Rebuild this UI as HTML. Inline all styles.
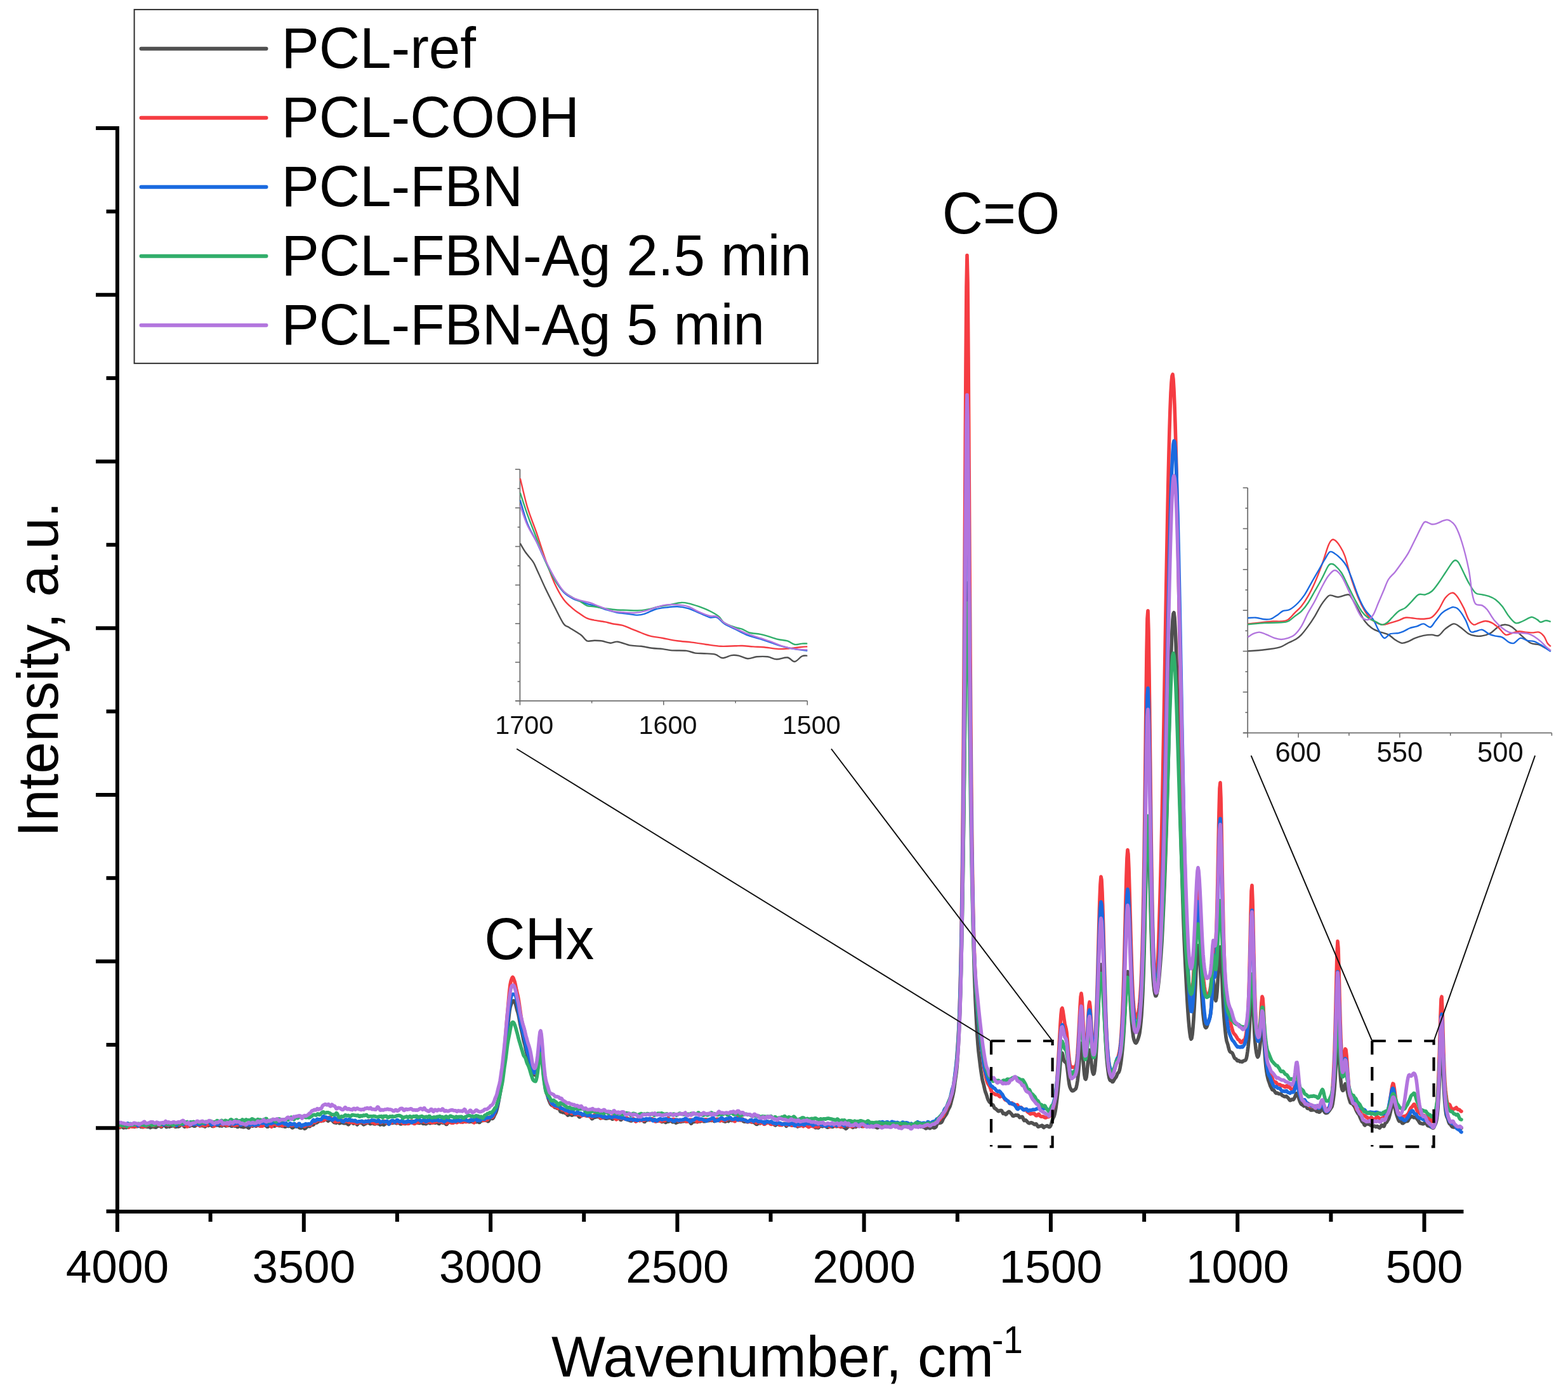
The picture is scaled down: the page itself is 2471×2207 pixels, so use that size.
<!DOCTYPE html>
<html><head><meta charset="utf-8"><title>Raman spectra</title>
<style>html,body{margin:0;padding:0;background:#fff;}svg{display:block;}</style>
</head><body>
<svg width="2471" height="2207" viewBox="0 0 2471 2207" font-family="'Liberation Sans', Arial, sans-serif">
<rect width="2471" height="2207" fill="#fff"/>
<rect x="211.6" y="15.1" width="1077.2" height="557.7" fill="none" stroke="#2e2e2e" stroke-width="2"/>
<line x1="222.5" y1="76.8" x2="419.5" y2="76.8" stroke="#505050" stroke-width="6" stroke-linecap="round"/>
<text transform="translate(443.4,107.2) scale(1,1.03)" font-size="89">PCL-ref</text>
<line x1="222.5" y1="185.8" x2="419.5" y2="185.8" stroke="#f53c42" stroke-width="6" stroke-linecap="round"/>
<text transform="translate(443.4,216.2) scale(1,1.03)" font-size="89">PCL-COOH</text>
<line x1="222.5" y1="294.8" x2="419.5" y2="294.8" stroke="#1a6ae0" stroke-width="6" stroke-linecap="round"/>
<text transform="translate(443.4,325.2) scale(1,1.03)" font-size="89">PCL-FBN</text>
<line x1="222.5" y1="403.8" x2="419.5" y2="403.8" stroke="#31ae6b" stroke-width="6" stroke-linecap="round"/>
<text transform="translate(443.4,434.2) scale(1,1.03)" font-size="89">PCL-FBN-Ag 2.5 min</text>
<line x1="222.5" y1="512.8" x2="419.5" y2="512.8" stroke="#b275de" stroke-width="6" stroke-linecap="round"/>
<text transform="translate(443.4,543.2) scale(1,1.03)" font-size="89">PCL-FBN-Ag 5 min</text>
<line x1="819.4" y1="739.8" x2="819.4" y2="1105.7" stroke="#6e6e6e" stroke-width="1.8"/>
<line x1="812.4" y1="1104.8" x2="1272.3" y2="1104.8" stroke="#6e6e6e" stroke-width="1.8"/>
<line x1="811.9" y1="739.8" x2="819.4" y2="739.8" stroke="#6e6e6e" stroke-width="1.6"/>
<line x1="815.6" y1="770.2" x2="819.4" y2="770.2" stroke="#6e6e6e" stroke-width="1.6"/>
<line x1="811.9" y1="800.6" x2="819.4" y2="800.6" stroke="#6e6e6e" stroke-width="1.6"/>
<line x1="815.6" y1="831.0" x2="819.4" y2="831.0" stroke="#6e6e6e" stroke-width="1.6"/>
<line x1="811.9" y1="861.5" x2="819.4" y2="861.5" stroke="#6e6e6e" stroke-width="1.6"/>
<line x1="815.6" y1="891.9" x2="819.4" y2="891.9" stroke="#6e6e6e" stroke-width="1.6"/>
<line x1="811.9" y1="922.3" x2="819.4" y2="922.3" stroke="#6e6e6e" stroke-width="1.6"/>
<line x1="815.6" y1="952.7" x2="819.4" y2="952.7" stroke="#6e6e6e" stroke-width="1.6"/>
<line x1="811.9" y1="983.1" x2="819.4" y2="983.1" stroke="#6e6e6e" stroke-width="1.6"/>
<line x1="815.6" y1="1013.5" x2="819.4" y2="1013.5" stroke="#6e6e6e" stroke-width="1.6"/>
<line x1="811.9" y1="1044.0" x2="819.4" y2="1044.0" stroke="#6e6e6e" stroke-width="1.6"/>
<line x1="815.6" y1="1074.4" x2="819.4" y2="1074.4" stroke="#6e6e6e" stroke-width="1.6"/>
<line x1="811.9" y1="1104.8" x2="819.4" y2="1104.8" stroke="#6e6e6e" stroke-width="1.6"/>
<line x1="819.4" y1="1104.8" x2="819.4" y2="1111.6" stroke="#6e6e6e" stroke-width="1.6"/>
<line x1="932.6" y1="1104.8" x2="932.6" y2="1108.6" stroke="#6e6e6e" stroke-width="1.6"/>
<line x1="1045.8" y1="1104.8" x2="1045.8" y2="1111.6" stroke="#6e6e6e" stroke-width="1.6"/>
<line x1="1159.1" y1="1104.8" x2="1159.1" y2="1108.6" stroke="#6e6e6e" stroke-width="1.6"/>
<line x1="1272.3" y1="1104.8" x2="1272.3" y2="1111.6" stroke="#6e6e6e" stroke-width="1.6"/>
<text x="826.2" y="1157" font-size="41.3" text-anchor="middle" fill="#111">1700</text>
<text x="1052.5" y="1157" font-size="41.3" text-anchor="middle" fill="#111">1600</text>
<text x="1278.7" y="1157" font-size="41.3" text-anchor="middle" fill="#111">1500</text>
<line x1="1966.2" y1="769.0" x2="1966.2" y2="1156.3000000000002" stroke="#6e6e6e" stroke-width="1.8"/>
<line x1="1959.2" y1="1155.4" x2="2445.4" y2="1155.4" stroke="#6e6e6e" stroke-width="1.8"/>
<line x1="1958.7" y1="769.0" x2="1966.2" y2="769.0" stroke="#6e6e6e" stroke-width="1.6"/>
<line x1="1962.4" y1="801.2" x2="1966.2" y2="801.2" stroke="#6e6e6e" stroke-width="1.6"/>
<line x1="1958.7" y1="833.4" x2="1966.2" y2="833.4" stroke="#6e6e6e" stroke-width="1.6"/>
<line x1="1962.4" y1="865.6" x2="1966.2" y2="865.6" stroke="#6e6e6e" stroke-width="1.6"/>
<line x1="1958.7" y1="897.8" x2="1966.2" y2="897.8" stroke="#6e6e6e" stroke-width="1.6"/>
<line x1="1962.4" y1="930.0" x2="1966.2" y2="930.0" stroke="#6e6e6e" stroke-width="1.6"/>
<line x1="1958.7" y1="962.2" x2="1966.2" y2="962.2" stroke="#6e6e6e" stroke-width="1.6"/>
<line x1="1962.4" y1="994.4" x2="1966.2" y2="994.4" stroke="#6e6e6e" stroke-width="1.6"/>
<line x1="1958.7" y1="1026.6" x2="1966.2" y2="1026.6" stroke="#6e6e6e" stroke-width="1.6"/>
<line x1="1962.4" y1="1058.8" x2="1966.2" y2="1058.8" stroke="#6e6e6e" stroke-width="1.6"/>
<line x1="1958.7" y1="1091.0" x2="1966.2" y2="1091.0" stroke="#6e6e6e" stroke-width="1.6"/>
<line x1="1962.4" y1="1123.2" x2="1966.2" y2="1123.2" stroke="#6e6e6e" stroke-width="1.6"/>
<line x1="1958.7" y1="1155.4" x2="1966.2" y2="1155.4" stroke="#6e6e6e" stroke-width="1.6"/>
<line x1="1966.2" y1="1155.4" x2="1966.2" y2="1162.8" stroke="#6e6e6e" stroke-width="1.6"/>
<line x1="2046.1" y1="1155.4" x2="2046.1" y2="1162.8" stroke="#6e6e6e" stroke-width="1.6"/>
<line x1="2125.9" y1="1155.4" x2="2125.9" y2="1159.8" stroke="#6e6e6e" stroke-width="1.6"/>
<line x1="2205.8" y1="1155.4" x2="2205.8" y2="1162.8" stroke="#6e6e6e" stroke-width="1.6"/>
<line x1="2285.7" y1="1155.4" x2="2285.7" y2="1159.8" stroke="#6e6e6e" stroke-width="1.6"/>
<line x1="2365.5" y1="1155.4" x2="2365.5" y2="1162.8" stroke="#6e6e6e" stroke-width="1.6"/>
<line x1="2445.4" y1="1155.4" x2="2445.4" y2="1159.8" stroke="#6e6e6e" stroke-width="1.6"/>
<text x="2045.7" y="1201" font-size="43.5" text-anchor="middle" fill="#111">600</text>
<text x="2205.8" y="1201" font-size="43.5" text-anchor="middle" fill="#111">550</text>
<text x="2364.4" y="1201" font-size="43.5" text-anchor="middle" fill="#111">500</text>
<path d="M819.8,856.6C821.2,859.0 825.0,866.1 828.3,870.8C831.6,875.6 836.8,880.8 839.7,885.1C842.5,889.3 842.1,889.3 845.4,896.4C848.7,903.6 854.9,917.8 859.6,927.8C864.4,937.7 869.1,947.0 873.8,956.2C878.6,965.5 884.3,977.8 888.1,983.2C891.9,988.7 893.3,986.8 896.6,988.9C899.9,991.1 904.7,993.9 908.0,996.1C911.3,998.2 913.7,999.4 916.5,1001.7C919.4,1004.1 921.7,1009.0 925.1,1010.3C928.4,1011.6 932.7,1009.7 936.4,1009.7C940.2,1009.7 943.6,1009.6 947.8,1010.3C952.1,1010.9 957.8,1013.5 962.1,1013.7C966.3,1013.9 968.2,1011.1 973.4,1011.7C978.7,1012.3 987.2,1016.2 993.4,1017.4C999.5,1018.6 1004.7,1018.1 1010.4,1018.8C1016.1,1019.5 1021.8,1021.0 1027.5,1021.7C1033.2,1022.4 1039.4,1022.5 1044.6,1023.1C1049.8,1023.7 1052.7,1024.9 1058.8,1025.4C1065.0,1025.8 1075.4,1025.2 1081.6,1025.9C1087.8,1026.6 1091.1,1028.9 1095.8,1029.6C1100.6,1030.3 1104.8,1029.9 1110.0,1030.2C1115.3,1030.5 1122.4,1030.4 1127.1,1031.6C1131.9,1032.8 1134.2,1037.1 1138.5,1037.3C1142.8,1037.6 1148.5,1033.7 1152.7,1033.1C1157.0,1032.4 1159.9,1032.8 1164.1,1033.6C1168.4,1034.5 1173.6,1037.9 1178.4,1038.2C1183.1,1038.5 1187.4,1035.8 1192.6,1035.3C1197.8,1034.9 1204.4,1034.7 1209.7,1035.3C1214.9,1036.0 1218.7,1039.1 1223.9,1039.3C1229.1,1039.5 1236.2,1035.8 1241.0,1036.5C1245.7,1037.1 1248.5,1043.3 1252.3,1043.0C1256.1,1042.7 1260.4,1036.0 1263.7,1034.5C1267.0,1032.9 1270.8,1033.8 1272.3,1033.6" fill="none" stroke="#505050" stroke-width="2.4" stroke-linejoin="round"/>
<path d="M819.8,754.2C821.7,761.7 826.9,785.5 831.1,799.7C835.4,813.9 840.6,825.8 845.4,839.5C850.1,853.3 854.9,868.9 859.6,882.2C864.4,895.5 869.1,908.8 873.8,919.2C878.6,929.6 883.3,938.2 888.1,944.8C892.8,951.5 898.0,955.3 902.3,959.1C906.6,962.9 909.9,965.0 913.7,967.6C917.5,970.2 921.3,973.0 925.1,974.7C928.9,976.4 931.7,976.6 936.4,977.6C941.2,978.5 948.8,979.5 953.5,980.4C958.3,981.4 960.2,982.3 964.9,983.2C969.6,984.2 976.8,984.7 982.0,986.1C987.2,987.5 991.5,989.9 996.2,991.8C1001.0,993.7 1005.7,995.7 1010.4,997.5C1015.2,999.3 1019.0,1001.2 1024.7,1002.6C1030.4,1004.0 1037.5,1004.7 1044.6,1006.0C1051.7,1007.3 1059.8,1009.2 1067.4,1010.3C1074.9,1011.4 1082.5,1011.6 1090.1,1012.6C1097.7,1013.5 1105.3,1014.9 1112.9,1016.0C1120.5,1017.0 1128.1,1018.4 1135.7,1018.8C1143.3,1019.2 1152.7,1018.4 1158.4,1018.3C1164.1,1018.1 1165.1,1017.8 1169.8,1018.0C1174.6,1018.2 1181.2,1019.0 1186.9,1019.4C1192.6,1019.8 1197.3,1019.6 1204.0,1020.2C1210.6,1020.9 1220.1,1022.8 1226.7,1023.1C1233.4,1023.4 1238.1,1022.7 1243.8,1022.2C1249.5,1021.8 1256.1,1020.7 1260.9,1020.2C1265.6,1019.8 1270.4,1019.5 1272.3,1019.4" fill="none" stroke="#f53c42" stroke-width="2.4" stroke-linejoin="round"/>
<path d="M819.8,788.3C821.7,794.5 826.9,814.4 831.1,825.3C835.4,836.2 840.6,843.8 845.4,853.8C850.1,863.7 854.9,875.1 859.6,885.1C864.4,895.0 869.1,905.5 873.8,913.5C878.6,921.6 883.3,928.5 888.1,933.4C892.8,938.4 898.0,941.0 902.3,943.4C906.6,945.8 909.9,946.3 913.7,947.7C917.5,949.1 921.3,950.8 925.1,951.9C928.9,953.1 931.7,953.4 936.4,954.8C941.2,956.2 947.8,958.7 953.5,960.5C959.2,962.2 964.9,964.1 970.6,965.3C976.3,966.5 982.0,966.9 987.7,967.6C993.4,968.3 1000.0,969.6 1004.7,969.6C1009.5,969.6 1011.4,969.1 1016.1,967.6C1020.9,966.1 1027.5,962.1 1033.2,960.5C1038.9,958.8 1044.6,958.3 1050.3,957.6C1056.0,956.9 1061.7,956.0 1067.4,956.2C1073.1,956.4 1078.7,957.4 1084.4,959.1C1090.1,960.7 1095.8,963.8 1101.5,966.2C1107.2,968.5 1113.8,972.1 1118.6,973.3C1123.3,974.5 1126.2,971.6 1130.0,973.3C1133.8,974.9 1136.6,980.2 1141.4,983.2C1146.1,986.3 1152.7,988.9 1158.4,991.8C1164.1,994.6 1168.9,997.7 1175.5,1000.3C1182.1,1002.9 1191.6,1005.3 1198.3,1007.4C1204.9,1009.6 1209.7,1011.2 1215.3,1013.1C1221.0,1015.0 1226.3,1017.2 1232.4,1018.8C1238.6,1020.5 1245.7,1021.9 1252.3,1023.1C1259.0,1024.3 1268.9,1025.5 1272.3,1025.9" fill="none" stroke="#1a6ae0" stroke-width="2.4" stroke-linejoin="round"/>
<path d="M819.8,776.9C821.7,782.6 826.9,799.2 831.1,811.1C835.4,822.9 840.6,835.7 845.4,848.1C850.1,860.4 854.9,874.2 859.6,885.1C864.4,896.0 869.1,905.7 873.8,913.5C878.6,921.3 883.3,927.3 888.1,932.0C892.8,936.8 898.0,939.4 902.3,942.0C906.6,944.6 909.9,945.5 913.7,947.7C917.5,949.8 921.3,953.4 925.1,954.8C928.9,956.2 931.7,955.5 936.4,956.2C941.2,956.9 947.8,958.2 953.5,959.1C959.2,959.9 964.9,960.9 970.6,961.3C976.3,961.8 982.0,961.7 987.7,961.9C993.4,962.1 999.1,962.7 1004.7,962.5C1010.4,962.2 1016.1,961.5 1021.8,960.5C1027.5,959.4 1033.2,957.4 1038.9,956.2C1044.6,955.0 1050.3,954.4 1056.0,953.4C1061.7,952.3 1068.3,950.3 1073.1,950.0C1077.8,949.6 1079.7,950.0 1084.4,951.1C1089.2,952.1 1095.8,954.2 1101.5,956.2C1107.2,958.3 1113.4,960.7 1118.6,963.3C1123.8,965.9 1129.0,968.8 1132.8,971.9C1136.6,974.9 1137.1,979.0 1141.4,981.8C1145.6,984.7 1153.7,987.3 1158.4,988.9C1163.2,990.6 1166.0,990.4 1169.8,991.8C1173.6,993.2 1176.5,996.1 1181.2,997.5C1185.9,998.8 1192.6,998.6 1198.3,999.8C1204.0,1000.9 1210.6,1003.2 1215.3,1004.6C1220.1,1006.0 1222.5,1007.1 1226.7,1008.0C1231.0,1009.0 1236.7,1009.0 1241.0,1010.3C1245.2,1011.6 1248.5,1015.3 1252.3,1016.0C1256.1,1016.7 1260.4,1014.8 1263.7,1014.6C1267.0,1014.3 1270.8,1014.6 1272.3,1014.6" fill="none" stroke="#31ae6b" stroke-width="2.4" stroke-linejoin="round"/>
<path d="M819.8,796.8C821.7,802.1 826.9,818.7 831.1,828.1C835.4,837.6 840.6,844.5 845.4,853.8C850.1,863.0 854.9,874.2 859.6,883.6C864.4,893.1 869.1,902.6 873.8,910.7C878.6,918.7 883.3,926.8 888.1,932.0C892.8,937.2 898.0,939.6 902.3,942.0C906.6,944.4 908.9,944.8 913.7,946.3C918.4,947.7 925.5,948.9 930.8,950.5C936.0,952.2 939.3,954.1 945.0,956.2C950.7,958.3 958.7,961.8 964.9,963.3C971.1,964.8 976.3,964.8 982.0,965.3C987.7,965.8 993.4,966.5 999.1,966.2C1004.7,965.8 1010.4,964.7 1016.1,963.3C1021.8,961.9 1027.5,959.3 1033.2,957.6C1038.9,956.0 1044.6,954.1 1050.3,953.4C1056.0,952.7 1061.7,952.9 1067.4,953.4C1073.1,953.8 1078.7,954.3 1084.4,956.2C1090.1,958.1 1095.8,962.3 1101.5,964.7C1107.2,967.2 1113.8,969.8 1118.6,971.0C1123.3,972.2 1126.2,970.1 1130.0,971.9C1133.8,973.7 1136.6,978.7 1141.4,981.8C1146.1,984.9 1152.7,987.6 1158.4,990.4C1164.1,993.1 1168.9,995.7 1175.5,998.3C1182.1,1000.9 1191.6,1003.8 1198.3,1006.0C1204.9,1008.2 1209.7,1009.7 1215.3,1011.7C1221.0,1013.7 1226.3,1016.4 1232.4,1018.3C1238.6,1020.1 1245.7,1022.0 1252.3,1023.1C1259.0,1024.1 1268.9,1024.3 1272.3,1024.5" fill="none" stroke="#b275de" stroke-width="2.4" stroke-linejoin="round"/>
<path d="M1966.4,1026.4C1970.8,1026.1 1984.4,1025.3 1992.8,1024.3C2001.1,1023.3 2010.3,1022.1 2016.5,1020.4C2022.7,1018.6 2025.3,1016.0 2029.7,1013.8C2034.1,1011.6 2039.4,1009.4 2042.9,1007.2C2046.4,1005.0 2047.7,1003.9 2050.8,1000.6C2053.9,997.3 2057.8,992.2 2061.3,987.4C2064.9,982.6 2068.4,977.3 2071.9,971.6C2075.4,965.9 2078.9,958.4 2082.4,953.1C2086.0,947.8 2090.4,942.3 2093.0,939.9C2095.6,937.5 2095.6,938.4 2098.3,938.6C2100.9,938.8 2104.4,941.5 2108.8,941.2C2113.2,941.0 2121.1,937.1 2124.6,937.3C2128.2,937.5 2127.3,938.6 2129.9,942.6C2132.6,946.5 2137.0,954.9 2140.5,961.0C2144.0,967.2 2147.5,974.7 2151.0,979.5C2154.5,984.3 2158.1,987.4 2161.6,990.0C2165.1,992.7 2167.7,993.6 2172.1,995.3C2176.5,997.1 2183.6,998.4 2188.0,1000.6C2192.4,1002.8 2195.0,1006.3 2198.5,1008.5C2202.0,1010.7 2205.5,1013.3 2209.1,1013.8C2212.6,1014.2 2216.1,1012.5 2219.6,1011.1C2223.1,1009.8 2226.2,1007.4 2230.2,1005.9C2234.1,1004.3 2239.0,1002.8 2243.4,1001.9C2247.7,1001.0 2252.6,1000.6 2256.5,1000.6C2260.5,1000.6 2263.6,1003.5 2267.1,1001.9C2270.6,1000.4 2273.7,994.4 2277.6,991.4C2281.6,988.3 2286.9,983.9 2290.8,983.4C2294.8,983.0 2297.4,986.1 2301.4,988.7C2305.3,991.4 2310.6,997.0 2314.6,999.3C2318.5,1001.6 2321.6,1001.9 2325.1,1002.4C2328.6,1003.0 2331.7,1003.2 2335.7,1002.4C2339.6,1001.7 2344.5,1000.5 2348.9,998.0C2353.3,995.4 2358.1,989.6 2362.1,987.4C2366.0,985.2 2369.1,984.5 2372.6,984.8C2376.1,985.0 2378.8,985.6 2383.2,988.7C2387.6,991.8 2394.1,999.1 2399.0,1003.2C2403.8,1007.4 2407.8,1011.6 2412.2,1013.8C2416.6,1016.0 2421.4,1015.1 2425.4,1016.4C2429.3,1017.7 2432.8,1020.2 2435.9,1021.7C2439.0,1023.2 2442.5,1025.0 2443.8,1025.7" fill="none" stroke="#505050" stroke-width="2.4" stroke-linejoin="round"/>
<path d="M1966.4,983.4C1968.6,983.2 1975.2,982.6 1979.6,982.1C1984.0,981.7 1988.4,981.2 1992.8,980.8C1997.2,980.4 2001.5,979.7 2005.9,979.5C2010.3,979.3 2015.2,979.9 2019.1,979.5C2023.1,979.1 2026.2,979.1 2029.7,976.9C2033.2,974.7 2036.7,969.8 2040.2,966.3C2043.8,962.8 2047.3,960.1 2050.8,955.8C2054.3,951.4 2057.8,946.1 2061.3,939.9C2064.9,933.8 2068.4,926.7 2071.9,918.8C2075.4,910.9 2078.9,902.1 2082.4,892.4C2086.0,882.8 2090.4,867.6 2093.0,860.8C2095.6,854.0 2096.5,853.1 2098.3,851.6C2100.0,850.0 2101.3,850.0 2103.5,851.6C2105.7,853.1 2108.8,856.6 2111.5,860.8C2114.1,865.0 2116.3,867.8 2119.4,876.6C2122.4,885.4 2126.4,902.6 2129.9,913.5C2133.4,924.5 2137.0,934.2 2140.5,942.6C2144.0,950.9 2147.5,957.9 2151.0,963.7C2154.5,969.4 2157.2,973.3 2161.6,976.9C2166.0,980.4 2172.6,983.9 2177.4,984.8C2182.2,985.6 2186.2,983.2 2190.6,982.1C2195.0,981.0 2199.8,979.6 2203.8,978.2C2207.7,976.8 2210.8,974.3 2214.3,973.7C2217.9,973.0 2221.4,973.9 2224.9,974.2C2228.4,974.5 2231.9,975.3 2235.4,975.5C2239.0,975.8 2242.5,976.0 2246.0,975.5C2249.5,975.1 2253.0,975.3 2256.5,972.9C2260.1,970.5 2263.6,966.1 2267.1,961.0C2270.6,956.0 2274.1,947.0 2277.6,942.6C2281.2,938.2 2285.1,935.1 2288.2,934.6C2291.3,934.2 2293.0,936.0 2296.1,939.9C2299.2,943.9 2303.6,952.2 2306.7,958.4C2309.7,964.5 2311.9,972.5 2314.6,976.9C2317.2,981.2 2319.8,983.9 2322.5,984.8C2325.1,985.6 2327.3,983.1 2330.4,982.1C2333.5,981.2 2337.4,979.0 2340.9,979.0C2344.5,979.0 2348.0,980.3 2351.5,982.1C2355.0,984.0 2358.5,987.0 2362.1,990.0C2365.6,993.1 2369.1,999.3 2372.6,1000.6C2376.1,1001.9 2379.6,998.8 2383.2,998.0C2386.7,997.1 2390.2,995.5 2393.7,995.3C2397.2,995.1 2400.7,996.3 2404.3,996.6C2407.8,997.0 2411.3,997.4 2414.8,997.4C2418.3,997.4 2422.3,995.7 2425.4,996.6C2428.4,997.6 2431.1,1000.4 2433.3,1003.2C2435.5,1006.1 2436.8,1011.1 2438.5,1013.8C2440.3,1016.4 2442.9,1018.2 2443.8,1019.1" fill="none" stroke="#f53c42" stroke-width="2.4" stroke-linejoin="round"/>
<path d="M1966.4,974.2C1968.6,974.1 1975.2,973.3 1979.6,973.7C1984.0,974.0 1988.8,976.0 1992.8,976.3C1996.7,976.6 1999.8,976.8 2003.3,975.5C2006.8,974.3 2010.8,971.0 2013.9,968.9C2016.9,966.9 2018.7,964.5 2021.8,963.1C2024.9,961.8 2028.4,963.1 2032.3,961.0C2036.3,958.9 2041.6,954.4 2045.5,950.5C2049.5,946.5 2052.5,942.6 2056.1,937.3C2059.6,932.0 2063.1,925.0 2066.6,918.8C2070.1,912.7 2073.6,906.5 2077.2,900.4C2080.7,894.2 2084.6,886.9 2087.7,881.9C2090.8,876.8 2093.0,871.6 2095.6,870.0C2098.3,868.5 2100.5,870.7 2103.5,872.7C2106.6,874.6 2111.0,878.6 2114.1,881.9C2117.2,885.2 2119.4,887.6 2122.0,892.4C2124.6,897.3 2126.8,903.0 2129.9,910.9C2133.0,918.8 2137.0,931.6 2140.5,939.9C2144.0,948.3 2147.1,954.9 2151.0,961.0C2155.0,967.2 2160.7,971.6 2164.2,976.9C2167.7,982.1 2169.3,987.8 2172.1,992.7C2175.0,997.5 2178.3,1004.8 2181.4,1005.9C2184.4,1007.0 2186.9,1000.6 2190.6,999.3C2194.3,998.0 2200.3,998.6 2203.8,998.0C2207.3,997.3 2208.6,996.6 2211.7,995.3C2214.8,994.0 2218.7,991.4 2222.2,990.0C2225.8,988.7 2229.3,988.5 2232.8,987.4C2236.3,986.3 2239.8,983.2 2243.4,983.4C2246.9,983.7 2250.8,989.4 2253.9,988.7C2257.0,988.1 2258.7,983.2 2261.8,979.5C2264.9,975.8 2268.8,969.6 2272.4,966.3C2275.9,963.0 2279.8,961.2 2282.9,959.7C2286.0,958.2 2288.2,956.8 2290.8,957.1C2293.5,957.3 2295.7,957.7 2298.7,961.0C2301.8,964.3 2306.2,971.1 2309.3,976.9C2312.4,982.6 2314.6,992.2 2317.2,995.3C2319.8,998.4 2322.0,995.8 2325.1,995.3C2328.2,994.9 2332.2,992.0 2335.7,992.7C2339.2,993.3 2342.7,997.6 2346.2,999.3C2349.7,1000.9 2353.3,1001.8 2356.8,1002.7C2360.3,1003.6 2363.8,1002.9 2367.3,1004.6C2370.8,1006.2 2374.8,1010.9 2377.9,1012.5C2381.0,1014.0 2382.7,1014.9 2385.8,1013.8C2388.9,1012.7 2392.8,1006.5 2396.3,1005.9C2399.9,1005.2 2403.4,1008.9 2406.9,1009.8C2410.4,1010.7 2413.9,1010.0 2417.4,1011.1C2421.0,1012.2 2424.9,1014.7 2428.0,1016.4C2431.1,1018.2 2433.3,1019.9 2435.9,1021.7C2438.5,1023.5 2442.5,1026.1 2443.8,1027.0" fill="none" stroke="#1a6ae0" stroke-width="2.4" stroke-linejoin="round"/>
<path d="M1966.4,984.2C1970.8,983.9 1984.0,982.6 1992.8,982.1C2001.5,981.6 2013.0,981.8 2019.1,981.3C2025.3,980.9 2026.2,981.1 2029.7,979.5C2033.2,977.9 2036.7,974.2 2040.2,971.6C2043.8,968.9 2047.3,967.2 2050.8,963.7C2054.3,960.1 2057.8,955.8 2061.3,950.5C2064.9,945.2 2068.4,938.2 2071.9,932.0C2075.4,925.9 2078.9,920.1 2082.4,913.5C2086.0,907.0 2090.4,896.5 2093.0,892.4C2095.6,888.4 2096.5,889.2 2098.3,889.0C2100.0,888.8 2100.9,888.8 2103.5,891.1C2106.2,893.5 2110.6,897.5 2114.1,903.0C2117.6,908.5 2121.1,917.1 2124.6,924.1C2128.2,931.1 2131.7,938.6 2135.2,945.2C2138.7,951.8 2142.2,958.8 2145.8,963.7C2149.3,968.5 2152.8,971.6 2156.3,974.2C2159.8,976.9 2163.3,977.7 2166.9,979.5C2170.4,981.2 2174.3,984.3 2177.4,984.8C2180.5,985.2 2182.7,983.9 2185.3,982.1C2188.0,980.4 2190.2,977.3 2193.2,974.2C2196.3,971.1 2200.3,966.3 2203.8,963.7C2207.3,961.0 2210.8,961.0 2214.3,958.4C2217.9,955.8 2221.4,951.4 2224.9,947.8C2228.4,944.3 2231.9,939.0 2235.4,937.3C2239.0,935.5 2242.5,938.2 2246.0,937.3C2249.5,936.4 2253.0,935.1 2256.5,932.0C2260.1,928.9 2263.6,923.7 2267.1,918.8C2270.6,914.0 2274.1,908.3 2277.6,903.0C2281.2,897.7 2285.6,890.5 2288.2,887.2C2290.8,883.9 2291.7,883.2 2293.5,883.2C2295.2,883.2 2296.5,883.9 2298.7,887.2C2300.9,890.5 2304.0,897.7 2306.7,903.0C2309.3,908.3 2311.5,913.5 2314.6,918.8C2317.6,924.1 2321.6,931.6 2325.1,934.6C2328.6,937.7 2332.2,936.4 2335.7,937.3C2339.2,938.2 2342.7,938.6 2346.2,939.9C2349.7,941.2 2353.3,942.6 2356.8,945.2C2360.3,947.8 2363.8,951.4 2367.3,955.8C2370.8,960.1 2374.4,967.2 2377.9,971.6C2381.4,976.0 2384.9,980.8 2388.4,982.1C2391.9,983.4 2395.5,980.8 2399.0,979.5C2402.5,978.2 2406.9,975.3 2409.5,974.2C2412.2,973.1 2412.6,972.5 2414.8,972.9C2417.0,973.3 2420.5,975.5 2422.7,976.9C2424.9,978.2 2425.8,980.6 2428.0,980.8C2430.2,981.0 2433.3,978.3 2435.9,978.2C2438.5,978.0 2442.5,979.7 2443.8,980.0" fill="none" stroke="#31ae6b" stroke-width="2.4" stroke-linejoin="round"/>
<path d="M1966.4,1004.6C1967.7,1003.7 1971.2,1000.6 1974.3,999.3C1977.4,998.0 1981.3,996.5 1984.8,996.6C1988.4,996.8 1991.4,998.5 1995.4,1000.1C1999.4,1001.6 2004.6,1004.6 2008.6,1005.9C2012.5,1007.2 2015.6,1008.0 2019.1,1008.0C2022.7,1008.0 2026.2,1007.1 2029.7,1005.9C2033.2,1004.6 2036.7,1003.7 2040.2,1000.6C2043.8,997.5 2047.3,993.1 2050.8,987.4C2054.3,981.7 2057.8,972.9 2061.3,966.3C2064.9,959.7 2068.4,954.4 2071.9,947.8C2075.4,941.2 2078.9,933.3 2082.4,926.7C2086.0,920.1 2089.5,912.9 2093.0,908.3C2096.5,903.7 2100.0,899.0 2103.5,899.0C2107.1,899.0 2110.6,903.2 2114.1,908.3C2117.6,913.3 2121.1,921.9 2124.6,929.4C2128.2,936.8 2131.7,945.9 2135.2,953.1C2138.7,960.4 2142.2,968.9 2145.8,972.9C2149.3,976.9 2153.2,977.5 2156.3,976.9C2159.4,976.2 2161.6,973.3 2164.2,968.9C2166.9,964.5 2169.5,956.6 2172.1,950.5C2174.8,944.3 2177.4,938.2 2180.0,932.0C2182.7,925.9 2184.9,918.6 2188.0,913.5C2191.0,908.5 2195.0,906.1 2198.5,901.7C2202.0,897.3 2205.5,892.2 2209.1,887.2C2212.6,882.1 2216.1,877.5 2219.6,871.3C2223.1,865.2 2226.6,857.3 2230.2,850.2C2233.7,843.2 2238.1,833.8 2240.7,829.1C2243.4,824.5 2243.4,823.0 2246.0,822.5C2248.6,822.1 2253.5,826.1 2256.5,826.5C2259.6,826.9 2261.4,826.1 2264.5,825.2C2267.5,824.2 2271.9,821.6 2275.0,820.7C2278.1,819.8 2279.8,818.5 2282.9,819.9C2286.0,821.3 2290.0,823.2 2293.5,829.1C2297.0,835.1 2300.5,844.1 2304.0,855.5C2307.5,866.9 2311.9,884.5 2314.6,897.7C2317.2,910.9 2318.1,925.6 2319.8,934.6C2321.6,943.7 2322.5,948.5 2325.1,951.8C2327.8,955.1 2332.6,952.9 2335.7,954.4C2338.8,956.0 2340.5,957.3 2343.6,961.0C2346.7,964.8 2350.2,972.0 2354.1,976.9C2358.1,981.7 2363.4,986.7 2367.3,990.0C2371.3,993.3 2374.4,995.3 2377.9,996.6C2381.4,998.0 2384.9,997.7 2388.4,998.0C2391.9,998.2 2395.5,997.7 2399.0,998.0C2402.5,998.2 2406.5,998.4 2409.5,999.3C2412.6,1000.2 2414.4,1001.3 2417.4,1003.2C2420.5,1005.2 2424.9,1008.5 2428.0,1011.1C2431.1,1013.8 2433.3,1016.6 2435.9,1019.1C2438.5,1021.5 2442.5,1024.6 2443.8,1025.7" fill="none" stroke="#b275de" stroke-width="2.4" stroke-linejoin="round"/>
<path d="M188.0,1777.6 189.0,1777.4 190.0,1776.8 191.0,1776.2 192.0,1776.0 193.0,1776.4 194.0,1777.4 195.0,1777.9 196.0,1777.3 197.0,1777.0 198.0,1777.4 199.0,1777.6 200.0,1777.0 201.0,1776.6 202.0,1776.8 203.0,1776.6 204.0,1775.7 205.0,1774.7 206.0,1773.9 207.0,1773.7 208.0,1774.1 209.0,1774.8 210.0,1775.5 211.0,1776.3 212.0,1776.4 213.0,1775.3 214.0,1774.3 215.0,1774.8 216.0,1775.8 217.0,1775.7 218.0,1775.0 219.0,1774.8 220.0,1775.0 221.0,1775.7 222.0,1776.4 223.0,1776.4 224.0,1776.6 225.0,1776.7 226.0,1776.4 227.0,1776.2 228.0,1776.2 229.0,1775.8 230.0,1775.6 231.0,1776.2 232.0,1776.5 233.0,1776.2 234.0,1776.3 235.0,1776.5 236.0,1777.0 237.0,1777.7 238.0,1777.1 239.0,1775.9 240.0,1775.9 241.0,1776.4 242.0,1776.5 243.0,1776.6 244.0,1776.8 245.0,1777.2 246.0,1777.1 247.0,1776.2 248.0,1775.6 249.0,1775.3 250.0,1774.9 251.0,1774.4 252.0,1774.7 253.0,1775.7 254.0,1776.6 255.0,1776.2 256.0,1774.9 257.0,1774.4 258.0,1774.3 259.0,1773.8 260.0,1774.3 261.0,1775.6 262.0,1776.7 263.0,1776.5 264.0,1775.5 265.0,1775.2 266.0,1775.7 267.0,1776.2 268.0,1775.7 269.0,1775.3 270.0,1775.3 271.0,1775.1 272.0,1774.5 273.0,1774.2 274.0,1774.6 275.0,1775.5 276.0,1776.3 277.0,1776.5 278.0,1776.1 279.0,1775.9 280.0,1775.9 281.0,1776.1 282.0,1775.8 283.0,1775.1 284.0,1774.3 285.0,1773.6 286.0,1772.5 287.0,1772.2 288.0,1773.0 289.0,1774.2 290.0,1775.7 291.0,1776.3 292.0,1775.3 293.0,1774.6 294.0,1775.0 295.0,1775.3 296.0,1775.1 297.0,1775.2 298.0,1775.5 299.0,1775.1 300.0,1774.4 301.0,1774.2 302.0,1774.2 303.0,1774.0 304.0,1774.2 305.0,1774.7 306.0,1775.3 307.0,1775.3 308.0,1774.7 309.0,1774.0 310.0,1773.1 311.0,1772.3 312.0,1772.6 313.0,1773.0 314.0,1773.1 315.0,1773.4 316.0,1773.7 317.0,1774.1 318.0,1774.5 319.0,1774.8 320.0,1774.4 321.0,1774.4 322.0,1775.6 323.0,1776.2 324.0,1775.3 325.0,1774.3 326.0,1773.9 327.0,1774.1 328.0,1774.6 329.0,1774.3 330.0,1773.8 331.0,1773.2 332.0,1773.0 333.0,1773.7 334.0,1774.9 335.0,1775.4 336.0,1775.4 337.0,1774.7 338.0,1773.9 339.0,1773.7 340.0,1773.8 341.0,1774.0 342.0,1773.9 343.0,1773.4 344.0,1773.1 345.0,1774.0 346.0,1774.9 347.0,1774.4 348.0,1774.1 349.0,1774.9 350.0,1775.1 351.0,1774.1 352.0,1773.5 353.0,1773.1 354.0,1773.4 355.0,1774.4 356.0,1774.9 357.0,1774.7 358.0,1774.5 359.0,1774.5 360.0,1774.3 361.0,1773.8 362.0,1773.4 363.0,1774.0 364.0,1775.0 365.0,1775.2 366.0,1775.1 367.0,1774.8 368.0,1774.5 369.0,1774.7 370.0,1775.1 371.0,1775.0 372.0,1775.1 373.0,1775.8 374.0,1776.5 375.0,1776.5 376.0,1775.5 377.0,1774.5 378.0,1774.5 379.0,1775.7 380.0,1776.3 381.0,1776.2 382.0,1776.4 383.0,1776.8 384.0,1776.9 385.0,1776.6 386.0,1776.2 387.0,1776.0 388.0,1775.6 389.0,1776.1 390.0,1776.9 391.0,1777.7 392.0,1778.1 393.0,1776.9 394.0,1774.8 395.0,1774.0 396.0,1774.5 397.0,1774.9 398.0,1775.2 399.0,1774.8 400.0,1773.4 401.0,1773.1 402.0,1774.2 403.0,1775.1 404.0,1775.1 405.0,1774.6 406.0,1773.7 407.0,1773.3 408.0,1773.4 409.0,1773.3 410.0,1773.6 411.0,1774.6 412.0,1775.2 413.0,1774.9 414.0,1774.0 415.0,1773.4 416.0,1773.3 417.0,1773.6 418.0,1774.2 419.0,1774.6 420.0,1775.4 421.0,1776.2 422.0,1776.2 423.0,1775.4 424.0,1775.1 425.0,1774.9 426.0,1774.0 427.0,1773.5 428.0,1774.0 429.0,1774.9 430.0,1775.0 431.0,1774.9 432.0,1775.1 433.0,1775.1 434.0,1773.9 435.0,1772.2 436.0,1771.2 437.0,1770.4 438.0,1770.5 439.0,1772.7 440.0,1774.7 441.0,1774.5 442.0,1773.6 443.0,1774.0 444.0,1775.1 445.0,1775.5 446.0,1775.2 447.0,1775.2 448.0,1775.7 449.0,1776.2 450.0,1776.1 451.0,1775.4 452.0,1774.9 453.0,1775.1 454.0,1775.5 455.0,1775.5 456.0,1775.0 457.0,1774.9 458.0,1775.2 459.0,1775.9 460.0,1777.4 461.0,1777.9 462.0,1777.3 463.0,1776.7 464.0,1775.6 465.0,1774.6 466.0,1775.2 467.0,1776.1 468.0,1776.0 469.0,1775.7 470.0,1776.0 471.0,1777.1 472.0,1777.9 473.0,1778.1 474.0,1778.2 475.0,1778.1 476.0,1777.1 477.0,1776.1 478.0,1776.5 479.0,1778.2 480.0,1779.2 481.0,1778.8 482.0,1778.0 483.0,1777.0 484.0,1776.1 485.0,1775.3 486.0,1775.1 487.0,1775.5 488.0,1775.8 489.0,1775.0 490.0,1773.5 491.0,1772.6 492.0,1772.7 493.0,1773.4 494.0,1773.0 495.0,1771.6 496.0,1770.3 497.0,1769.6 498.0,1769.9 499.0,1770.0 500.0,1769.3 501.0,1768.6 502.0,1768.0 503.0,1767.1 504.0,1766.2 505.0,1765.9 506.0,1766.2 507.0,1766.4 508.0,1766.4 509.0,1766.7 510.0,1766.6 511.0,1765.5 512.0,1764.6 513.0,1764.6 514.0,1764.6 515.0,1764.9 516.0,1766.3 517.0,1767.2 518.0,1766.5 519.0,1765.5 520.0,1765.2 521.0,1765.2 522.0,1765.2 523.0,1765.9 524.0,1767.0 525.0,1767.9 526.0,1769.0 527.0,1769.7 528.0,1769.8 529.0,1770.0 530.0,1770.1 531.0,1769.0 532.0,1767.8 533.0,1767.8 534.0,1769.4 535.0,1770.8 536.0,1770.6 537.0,1769.3 538.0,1768.8 539.0,1769.3 540.0,1770.1 541.0,1770.5 542.0,1770.7 543.0,1770.7 544.0,1770.5 545.0,1770.5 546.0,1770.8 547.0,1771.2 548.0,1772.2 549.0,1772.8 550.0,1772.0 551.0,1770.5 552.0,1769.3 553.0,1768.9 554.0,1768.4 555.0,1769.1 556.0,1770.7 557.0,1771.2 558.0,1770.2 559.0,1769.1 560.0,1769.3 561.0,1770.5 562.0,1772.2 563.0,1773.0 564.0,1771.8 565.0,1770.1 566.0,1769.5 567.0,1769.9 568.0,1769.9 569.0,1769.8 570.0,1770.0 571.0,1770.7 572.0,1772.1 573.0,1772.9 574.0,1772.5 575.0,1771.7 576.0,1771.3 577.0,1770.9 578.0,1770.4 579.0,1769.7 580.0,1769.2 581.0,1769.6 582.0,1770.8 583.0,1771.5 584.0,1771.7 585.0,1771.1 586.0,1770.0 587.0,1770.0 588.0,1770.9 589.0,1771.5 590.0,1771.8 591.0,1772.0 592.0,1771.3 593.0,1770.3 594.0,1770.5 595.0,1771.4 596.0,1771.3 597.0,1771.1 598.0,1772.2 599.0,1773.1 600.0,1772.8 601.0,1771.7 602.0,1771.0 603.0,1771.7 604.0,1773.0 605.0,1773.3 606.0,1772.7 607.0,1771.6 608.0,1770.5 609.0,1770.0 610.0,1770.5 611.0,1771.2 612.0,1771.4 613.0,1771.7 614.0,1771.4 615.0,1770.5 616.0,1770.2 617.0,1770.4 618.0,1770.5 619.0,1770.2 620.0,1770.0 621.0,1769.7 622.0,1769.4 623.0,1769.7 624.0,1770.6 625.0,1770.9 626.0,1770.3 627.0,1770.0 628.0,1770.1 629.0,1770.4 630.0,1771.2 631.0,1771.8 632.0,1771.9 633.0,1771.5 634.0,1771.1 635.0,1770.8 636.0,1770.8 637.0,1771.2 638.0,1771.5 639.0,1771.4 640.0,1770.8 641.0,1770.2 642.0,1770.6 643.0,1771.3 644.0,1771.3 645.0,1770.6 646.0,1769.8 647.0,1769.6 648.0,1769.7 649.0,1769.2 650.0,1769.1 651.0,1770.2 652.0,1770.6 653.0,1769.5 654.0,1768.8 655.0,1769.0 656.0,1769.5 657.0,1770.0 658.0,1770.0 659.0,1770.1 660.0,1770.5 661.0,1770.5 662.0,1770.2 663.0,1769.3 664.0,1768.7 665.0,1769.5 666.0,1771.1 667.0,1771.4 668.0,1771.1 669.0,1771.1 670.0,1771.3 671.0,1771.8 672.0,1771.6 673.0,1769.9 674.0,1768.5 675.0,1768.3 676.0,1769.3 677.0,1770.7 678.0,1770.8 679.0,1769.7 680.0,1769.1 681.0,1769.8 682.0,1769.9 683.0,1769.2 684.0,1769.3 685.0,1770.0 686.0,1770.3 687.0,1769.7 688.0,1769.0 689.0,1768.8 690.0,1769.8 691.0,1771.3 692.0,1771.5 693.0,1770.1 694.0,1768.7 695.0,1768.2 696.0,1769.0 697.0,1769.9 698.0,1770.1 699.0,1769.7 700.0,1769.5 701.0,1770.0 702.0,1771.2 703.0,1772.4 704.0,1772.4 705.0,1771.0 706.0,1769.7 707.0,1769.3 708.0,1769.1 709.0,1768.9 710.0,1769.0 711.0,1769.3 712.0,1769.9 713.0,1770.1 714.0,1769.9 715.0,1769.3 716.0,1768.6 717.0,1768.3 718.0,1768.6 719.0,1769.0 720.0,1769.2 721.0,1768.8 722.0,1768.2 723.0,1768.0 724.0,1767.7 725.0,1767.6 726.0,1767.4 727.0,1767.4 728.0,1768.2 729.0,1768.9 730.0,1768.8 731.0,1768.3 732.0,1767.9 733.0,1767.7 734.0,1767.8 735.0,1768.0 736.0,1768.0 737.0,1767.9 738.0,1768.4 739.0,1768.6 740.0,1768.5 741.0,1768.3 742.0,1767.9 743.0,1767.7 744.0,1768.2 745.0,1768.8 746.0,1768.9 747.0,1768.4 748.0,1767.9 749.0,1768.1 750.0,1768.7 751.0,1768.6 752.0,1767.8 753.0,1767.4 754.0,1768.4 755.0,1769.4 756.0,1769.2 757.0,1767.9 758.0,1767.1 759.0,1767.0 760.0,1766.2 761.0,1765.1 762.0,1764.9 763.0,1764.6 764.0,1764.5 765.0,1765.5 766.0,1766.4 767.0,1766.5 768.0,1767.0 769.0,1767.7 770.0,1767.2 771.0,1765.5 772.0,1763.7 773.0,1762.7 774.0,1762.8 775.0,1763.4 776.0,1763.4 777.0,1762.7 778.0,1761.2 779.0,1758.9 780.0,1756.8 781.0,1754.9 782.0,1752.4 783.0,1749.2 784.0,1745.0 785.0,1740.4 786.0,1735.3 787.0,1729.6 788.0,1724.2 789.0,1719.3 790.0,1713.2 791.0,1705.5 792.0,1696.8 793.0,1688.2 794.0,1679.1 795.0,1668.9 796.0,1658.9 797.0,1650.1 798.0,1641.2 799.0,1631.2 800.0,1620.8 801.0,1611.3 802.0,1602.1 803.0,1593.6 804.0,1588.0 805.0,1584.5 806.0,1581.9 807.0,1580.0 808.0,1578.4 809.0,1577.5 810.0,1577.9 811.0,1579.2 812.0,1581.2 813.0,1584.5 814.0,1588.8 815.0,1592.8 816.0,1595.9 817.0,1599.7 818.0,1604.9 819.0,1610.5 820.0,1615.8 821.0,1620.6 822.0,1624.8 823.0,1629.2 824.0,1634.2 825.0,1639.2 826.0,1643.1 827.0,1646.5 828.0,1651.0 829.0,1656.0 830.0,1660.1 831.0,1664.2 832.0,1668.9 833.0,1672.8 834.0,1675.7 835.0,1678.6 836.0,1681.9 837.0,1684.9 838.0,1687.3 839.0,1689.0 840.0,1690.9 841.0,1692.9 842.0,1694.3 843.0,1694.8 844.0,1693.5 845.0,1690.6 846.0,1686.8 847.0,1681.8 848.0,1675.0 849.0,1666.7 850.0,1659.4 851.0,1655.5 852.0,1655.6 853.0,1659.6 854.0,1667.1 855.0,1677.6 856.0,1688.6 857.0,1697.8 858.0,1705.6 859.0,1712.9 860.0,1718.4 861.0,1721.8 862.0,1724.5 863.0,1728.0 864.0,1731.6 865.0,1734.3 866.0,1736.7 867.0,1739.1 868.0,1740.8 869.0,1741.9 870.0,1742.5 871.0,1742.7 872.0,1743.1 873.0,1744.3 874.0,1745.6 875.0,1745.9 876.0,1745.8 877.0,1746.3 878.0,1747.2 879.0,1747.4 880.0,1747.0 881.0,1747.6 882.0,1749.9 883.0,1752.2 884.0,1752.7 885.0,1752.5 886.0,1753.2 887.0,1753.8 888.0,1753.3 889.0,1753.4 890.0,1754.3 891.0,1755.0 892.0,1755.1 893.0,1755.9 894.0,1757.4 895.0,1758.2 896.0,1757.6 897.0,1756.4 898.0,1755.8 899.0,1756.5 900.0,1757.5 901.0,1758.1 902.0,1758.0 903.0,1757.0 904.0,1756.5 905.0,1756.8 906.0,1757.1 907.0,1757.0 908.0,1756.9 909.0,1756.5 910.0,1756.9 911.0,1758.5 912.0,1760.0 913.0,1760.9 914.0,1760.7 915.0,1758.9 916.0,1757.0 917.0,1756.5 918.0,1757.0 919.0,1757.6 920.0,1757.7 921.0,1757.5 922.0,1757.8 923.0,1758.2 924.0,1758.8 925.0,1759.2 926.0,1759.2 927.0,1759.1 928.0,1758.7 929.0,1758.2 930.0,1758.5 931.0,1760.4 932.0,1762.7 933.0,1763.7 934.0,1763.2 935.0,1762.0 936.0,1761.4 937.0,1761.5 938.0,1761.3 939.0,1760.8 940.0,1760.6 941.0,1760.6 942.0,1760.5 943.0,1760.2 944.0,1760.4 945.0,1761.6 946.0,1762.9 947.0,1762.6 948.0,1762.1 949.0,1762.2 950.0,1762.0 951.0,1761.4 952.0,1761.8 953.0,1762.7 954.0,1763.1 955.0,1763.3 956.0,1763.3 957.0,1762.7 958.0,1762.3 959.0,1762.6 960.0,1762.4 961.0,1761.4 962.0,1761.2 963.0,1762.3 964.0,1763.6 965.0,1764.3 966.0,1764.0 967.0,1763.1 968.0,1763.0 969.0,1763.0 970.0,1762.9 971.0,1762.7 972.0,1761.8 973.0,1761.1 974.0,1761.3 975.0,1761.8 976.0,1762.8 977.0,1764.2 978.0,1765.3 979.0,1765.4 980.0,1764.1 981.0,1762.7 982.0,1762.3 983.0,1762.5 984.0,1763.1 985.0,1763.6 986.0,1763.3 987.0,1763.3 988.0,1764.4 989.0,1765.3 990.0,1765.6 991.0,1765.9 992.0,1766.2 993.0,1766.6 994.0,1767.0 995.0,1766.9 996.0,1766.4 997.0,1765.6 998.0,1764.8 999.0,1764.9 1000.0,1765.4 1001.0,1765.5 1002.0,1765.9 1003.0,1766.5 1004.0,1765.9 1005.0,1764.4 1006.0,1763.9 1007.0,1764.6 1008.0,1765.3 1009.0,1765.5 1010.0,1765.6 1011.0,1765.9 1012.0,1766.0 1013.0,1766.1 1014.0,1766.9 1015.0,1768.3 1016.0,1768.4 1017.0,1766.8 1018.0,1765.6 1019.0,1765.7 1020.0,1765.9 1021.0,1765.6 1022.0,1765.4 1023.0,1765.4 1024.0,1765.0 1025.0,1764.7 1026.0,1764.2 1027.0,1763.6 1028.0,1764.0 1029.0,1765.3 1030.0,1766.0 1031.0,1765.6 1032.0,1765.1 1033.0,1766.0 1034.0,1767.3 1035.0,1767.5 1036.0,1766.9 1037.0,1766.5 1038.0,1766.5 1039.0,1766.0 1040.0,1765.6 1041.0,1766.5 1042.0,1767.9 1043.0,1768.5 1044.0,1768.3 1045.0,1767.9 1046.0,1767.6 1047.0,1767.5 1048.0,1768.4 1049.0,1769.5 1050.0,1769.0 1051.0,1767.7 1052.0,1767.5 1053.0,1768.1 1054.0,1768.0 1055.0,1766.7 1056.0,1765.7 1057.0,1766.2 1058.0,1767.3 1059.0,1768.3 1060.0,1768.9 1061.0,1768.8 1062.0,1768.2 1063.0,1768.0 1064.0,1769.1 1065.0,1770.2 1066.0,1769.8 1067.0,1769.0 1068.0,1769.0 1069.0,1768.8 1070.0,1768.0 1071.0,1767.8 1072.0,1768.4 1073.0,1768.5 1074.0,1768.1 1075.0,1767.9 1076.0,1767.8 1077.0,1767.7 1078.0,1767.2 1079.0,1767.1 1080.0,1767.6 1081.0,1767.9 1082.0,1767.5 1083.0,1767.5 1084.0,1767.6 1085.0,1767.2 1086.0,1767.1 1087.0,1767.8 1088.0,1769.7 1089.0,1771.2 1090.0,1770.8 1091.0,1769.3 1092.0,1768.5 1093.0,1768.3 1094.0,1768.4 1095.0,1768.3 1096.0,1767.8 1097.0,1768.0 1098.0,1768.5 1099.0,1768.6 1100.0,1767.9 1101.0,1767.3 1102.0,1767.5 1103.0,1767.9 1104.0,1767.7 1105.0,1767.0 1106.0,1765.9 1107.0,1765.6 1108.0,1766.9 1109.0,1767.8 1110.0,1767.7 1111.0,1767.6 1112.0,1767.4 1113.0,1766.6 1114.0,1766.1 1115.0,1766.6 1116.0,1766.8 1117.0,1766.6 1118.0,1766.5 1119.0,1766.1 1120.0,1766.1 1121.0,1766.6 1122.0,1766.1 1123.0,1765.4 1124.0,1766.0 1125.0,1767.3 1126.0,1767.6 1127.0,1767.0 1128.0,1766.8 1129.0,1766.6 1130.0,1766.2 1131.0,1766.0 1132.0,1765.8 1133.0,1765.3 1134.0,1765.3 1135.0,1765.6 1136.0,1765.5 1137.0,1765.4 1138.0,1765.8 1139.0,1766.7 1140.0,1767.2 1141.0,1767.5 1142.0,1767.9 1143.0,1768.1 1144.0,1767.7 1145.0,1766.7 1146.0,1766.3 1147.0,1766.8 1148.0,1767.6 1149.0,1766.6 1150.0,1764.6 1151.0,1764.3 1152.0,1765.6 1153.0,1766.5 1154.0,1766.4 1155.0,1766.0 1156.0,1766.0 1157.0,1766.0 1158.0,1765.7 1159.0,1764.9 1160.0,1764.0 1161.0,1764.2 1162.0,1764.9 1163.0,1765.5 1164.0,1765.3 1165.0,1765.1 1166.0,1765.0 1167.0,1764.6 1168.0,1764.1 1169.0,1764.5 1170.0,1765.9 1171.0,1767.3 1172.0,1768.0 1173.0,1768.1 1174.0,1768.1 1175.0,1767.9 1176.0,1768.0 1177.0,1768.5 1178.0,1768.7 1179.0,1768.1 1180.0,1767.7 1181.0,1767.8 1182.0,1767.9 1183.0,1768.2 1184.0,1768.8 1185.0,1769.0 1186.0,1768.8 1187.0,1768.8 1188.0,1769.3 1189.0,1769.9 1190.0,1770.6 1191.0,1771.7 1192.0,1772.3 1193.0,1772.4 1194.0,1771.6 1195.0,1770.4 1196.0,1770.2 1197.0,1770.7 1198.0,1770.9 1199.0,1770.5 1200.0,1769.7 1201.0,1768.9 1202.0,1768.7 1203.0,1769.0 1204.0,1769.7 1205.0,1770.1 1206.0,1770.2 1207.0,1770.6 1208.0,1770.3 1209.0,1769.2 1210.0,1768.4 1211.0,1768.2 1212.0,1768.7 1213.0,1770.3 1214.0,1771.7 1215.0,1771.7 1216.0,1771.3 1217.0,1771.1 1218.0,1771.3 1219.0,1771.8 1220.0,1772.4 1221.0,1773.5 1222.0,1774.0 1223.0,1773.3 1224.0,1772.3 1225.0,1771.9 1226.0,1772.3 1227.0,1772.8 1228.0,1773.3 1229.0,1773.5 1230.0,1773.0 1231.0,1771.9 1232.0,1772.0 1233.0,1772.7 1234.0,1772.3 1235.0,1771.7 1236.0,1771.5 1237.0,1771.9 1238.0,1773.7 1239.0,1775.3 1240.0,1774.6 1241.0,1772.7 1242.0,1772.0 1243.0,1772.6 1244.0,1773.2 1245.0,1772.9 1246.0,1773.1 1247.0,1774.0 1248.0,1774.1 1249.0,1772.9 1250.0,1771.6 1251.0,1770.9 1252.0,1770.9 1253.0,1771.5 1254.0,1772.8 1255.0,1773.9 1256.0,1775.2 1257.0,1776.1 1258.0,1775.6 1259.0,1774.6 1260.0,1774.9 1261.0,1774.8 1262.0,1773.7 1263.0,1772.9 1264.0,1772.8 1265.0,1773.1 1266.0,1773.1 1267.0,1772.3 1268.0,1772.2 1269.0,1773.2 1270.0,1774.1 1271.0,1774.7 1272.0,1774.9 1273.0,1775.0 1274.0,1774.4 1275.0,1773.5 1276.0,1773.5 1277.0,1774.1 1278.0,1774.6 1279.0,1774.5 1280.0,1774.2 1281.0,1774.6 1282.0,1775.4 1283.0,1775.8 1284.0,1776.4 1285.0,1777.7 1286.0,1777.6 1287.0,1776.3 1288.0,1776.8 1289.0,1778.0 1290.0,1777.7 1291.0,1776.4 1292.0,1775.4 1293.0,1775.0 1294.0,1775.0 1295.0,1775.4 1296.0,1775.8 1297.0,1775.4 1298.0,1774.7 1299.0,1774.5 1300.0,1774.7 1301.0,1775.1 1302.0,1776.0 1303.0,1776.9 1304.0,1777.2 1305.0,1777.0 1306.0,1776.7 1307.0,1776.2 1308.0,1775.9 1309.0,1776.0 1310.0,1776.0 1311.0,1776.2 1312.0,1776.5 1313.0,1776.1 1314.0,1775.2 1315.0,1774.8 1316.0,1775.0 1317.0,1775.4 1318.0,1775.8 1319.0,1775.7 1320.0,1774.4 1321.0,1773.1 1322.0,1772.9 1323.0,1773.7 1324.0,1775.3 1325.0,1776.6 1326.0,1776.2 1327.0,1775.2 1328.0,1775.7 1329.0,1777.0 1330.0,1777.2 1331.0,1777.4 1332.0,1778.4 1333.0,1779.3 1334.0,1778.7 1335.0,1777.4 1336.0,1776.7 1337.0,1776.1 1338.0,1775.2 1339.0,1774.6 1340.0,1774.7 1341.0,1775.0 1342.0,1775.7 1343.0,1776.9 1344.0,1777.3 1345.0,1776.4 1346.0,1775.6 1347.0,1775.9 1348.0,1776.5 1349.0,1776.5 1350.0,1775.3 1351.0,1774.0 1352.0,1773.5 1353.0,1774.2 1354.0,1775.3 1355.0,1775.3 1356.0,1774.8 1357.0,1775.0 1358.0,1775.6 1359.0,1775.7 1360.0,1775.0 1361.0,1774.1 1362.0,1773.5 1363.0,1774.2 1364.0,1774.8 1365.0,1774.3 1366.0,1774.4 1367.0,1775.0 1368.0,1774.9 1369.0,1774.7 1370.0,1775.0 1371.0,1775.1 1372.0,1774.4 1373.0,1773.7 1374.0,1773.8 1375.0,1774.2 1376.0,1774.8 1377.0,1775.7 1378.0,1776.5 1379.0,1776.5 1380.0,1776.4 1381.0,1776.9 1382.0,1777.7 1383.0,1777.9 1384.0,1777.3 1385.0,1776.2 1386.0,1775.6 1387.0,1775.2 1388.0,1774.6 1389.0,1774.4 1390.0,1774.2 1391.0,1773.5 1392.0,1773.0 1393.0,1773.6 1394.0,1775.0 1395.0,1776.2 1396.0,1776.3 1397.0,1775.5 1398.0,1774.6 1399.0,1774.5 1400.0,1774.9 1401.0,1775.5 1402.0,1776.4 1403.0,1776.6 1404.0,1775.1 1405.0,1773.4 1406.0,1772.7 1407.0,1772.8 1408.0,1773.9 1409.0,1775.3 1410.0,1775.2 1411.0,1774.8 1412.0,1775.6 1413.0,1776.1 1414.0,1775.3 1415.0,1774.6 1416.0,1774.9 1417.0,1775.8 1418.0,1776.8 1419.0,1777.6 1420.0,1778.0 1421.0,1778.0 1422.0,1777.5 1423.0,1776.0 1424.0,1774.6 1425.0,1774.6 1426.0,1775.2 1427.0,1775.5 1428.0,1775.6 1429.0,1775.2 1430.0,1775.4 1431.0,1776.3 1432.0,1776.7 1433.0,1776.7 1434.0,1776.8 1435.0,1776.4 1436.0,1774.7 1437.0,1773.0 1438.0,1772.9 1439.0,1773.5 1440.0,1774.2 1441.0,1775.3 1442.0,1775.8 1443.0,1775.4 1444.0,1775.5 1445.0,1776.2 1446.0,1775.7 1447.0,1775.1 1448.0,1775.6 1449.0,1776.1 1450.0,1776.2 1451.0,1776.3 1452.0,1775.9 1453.0,1775.8 1454.0,1776.5 1455.0,1776.9 1456.0,1776.8 1457.0,1777.2 1458.0,1778.3 1459.0,1779.0 1460.0,1778.6 1461.0,1778.1 1462.0,1777.6 1463.0,1777.5 1464.0,1778.1 1465.0,1778.7 1466.0,1778.5 1467.0,1777.5 1468.0,1776.4 1469.0,1776.3 1470.0,1777.0 1471.0,1777.8 1472.0,1778.0 1473.0,1777.7 1474.0,1777.3 1475.0,1776.3 1476.0,1773.9 1477.0,1771.3 1478.0,1769.9 1479.0,1770.0 1480.0,1770.5 1481.0,1770.2 1482.0,1769.9 1483.0,1769.7 1484.0,1768.9 1485.0,1767.1 1486.0,1764.7 1487.0,1762.8 1488.0,1761.3 1489.0,1759.8 1490.0,1758.2 1491.0,1757.0 1492.0,1755.2 1493.0,1752.4 1494.0,1749.9 1495.0,1747.9 1496.0,1746.2 1497.0,1744.1 1498.0,1741.0 1499.0,1737.1 1500.0,1733.1 1501.0,1729.4 1502.0,1725.2 1503.0,1720.0 1504.0,1713.1 1505.0,1705.4 1506.0,1698.6 1507.0,1691.7 1508.0,1682.5 1509.0,1669.7 1510.0,1653.8 1511.0,1635.7 1512.0,1614.8 1513.0,1588.1 1514.0,1553.7 1515.0,1512.1 1516.0,1463.8 1517.0,1408.6 1518.0,1343.9 1519.0,1268.7 1520.0,1186.1 1521.0,1100.8 1522.0,1021.1 1523.0,957.6 1524.0,920.9 1525.0,919.3 1526.0,953.0 1527.0,1013.4 1528.0,1088.9 1529.0,1168.8 1530.0,1246.3 1531.0,1317.8 1532.0,1381.4 1533.0,1435.6 1534.0,1480.9 1535.0,1518.9 1536.0,1550.2 1537.0,1575.6 1538.0,1596.9 1539.0,1615.5 1540.0,1632.0 1541.0,1646.2 1542.0,1657.1 1543.0,1665.4 1544.0,1673.7 1545.0,1682.0 1546.0,1689.1 1547.0,1695.7 1548.0,1701.7 1549.0,1705.8 1550.0,1709.2 1551.0,1713.5 1552.0,1718.2 1553.0,1721.7 1554.0,1724.1 1555.0,1727.1 1556.0,1730.6 1557.0,1733.3 1558.0,1735.1 1559.0,1736.9 1560.0,1737.8 1561.0,1738.3 1562.0,1739.8 1563.0,1741.2 1564.0,1741.6 1565.0,1742.1 1566.0,1744.2 1567.0,1746.6 1568.0,1747.5 1569.0,1747.8 1570.0,1748.8 1571.0,1749.6 1572.0,1750.6 1573.0,1751.7 1574.0,1751.8 1575.0,1751.0 1576.0,1750.6 1577.0,1750.7 1578.0,1750.5 1579.0,1751.5 1580.0,1754.1 1581.0,1755.5 1582.0,1755.3 1583.0,1755.0 1584.0,1755.9 1585.0,1756.9 1586.0,1756.5 1587.0,1755.0 1588.0,1753.7 1589.0,1752.9 1590.0,1752.4 1591.0,1752.9 1592.0,1754.2 1593.0,1755.1 1594.0,1756.0 1595.0,1757.6 1596.0,1759.1 1597.0,1759.4 1598.0,1758.9 1599.0,1758.4 1600.0,1757.9 1601.0,1758.0 1602.0,1758.4 1603.0,1758.1 1604.0,1758.0 1605.0,1758.8 1606.0,1760.4 1607.0,1761.6 1608.0,1761.4 1609.0,1760.9 1610.0,1760.5 1611.0,1760.6 1612.0,1762.2 1613.0,1765.0 1614.0,1766.5 1615.0,1766.0 1616.0,1765.6 1617.0,1766.2 1618.0,1767.4 1619.0,1768.6 1620.0,1769.6 1621.0,1770.3 1622.0,1770.7 1623.0,1770.4 1624.0,1769.9 1625.0,1769.7 1626.0,1769.9 1627.0,1770.5 1628.0,1771.1 1629.0,1771.8 1630.0,1772.6 1631.0,1772.6 1632.0,1771.9 1633.0,1771.9 1634.0,1773.1 1635.0,1775.0 1636.0,1776.3 1637.0,1776.1 1638.0,1775.6 1639.0,1775.3 1640.0,1775.1 1641.0,1775.0 1642.0,1774.2 1643.0,1774.6 1644.0,1776.9 1645.0,1777.5 1646.0,1776.3 1647.0,1775.7 1648.0,1775.6 1649.0,1775.2 1650.0,1774.6 1651.0,1775.1 1652.0,1776.1 1653.0,1776.6 1654.0,1776.5 1655.0,1775.7 1656.0,1774.0 1657.0,1770.9 1658.0,1767.3 1659.0,1764.0 1660.0,1761.9 1661.0,1760.0 1662.0,1756.7 1663.0,1752.1 1664.0,1746.2 1665.0,1738.9 1666.0,1730.7 1667.0,1721.4 1668.0,1711.1 1669.0,1699.9 1670.0,1687.5 1671.0,1675.1 1672.0,1665.4 1673.0,1660.4 1674.0,1660.2 1675.0,1664.0 1676.0,1669.0 1677.0,1672.4 1678.0,1673.9 1679.0,1674.5 1680.0,1675.2 1681.0,1678.1 1682.0,1684.6 1683.0,1693.4 1684.0,1702.2 1685.0,1709.2 1686.0,1713.5 1687.0,1715.8 1688.0,1717.6 1689.0,1719.1 1690.0,1719.8 1691.0,1719.6 1692.0,1719.0 1693.0,1718.2 1694.0,1717.3 1695.0,1716.7 1696.0,1714.6 1697.0,1710.0 1698.0,1704.1 1699.0,1696.0 1700.0,1684.8 1701.0,1672.0 1702.0,1659.0 1703.0,1648.6 1704.0,1644.6 1705.0,1648.4 1706.0,1658.7 1707.0,1672.1 1708.0,1685.1 1709.0,1695.1 1710.0,1700.5 1711.0,1701.4 1712.0,1698.6 1713.0,1690.9 1714.0,1679.2 1715.0,1667.0 1716.0,1658.2 1717.0,1655.3 1718.0,1658.1 1719.0,1665.8 1720.0,1676.6 1721.0,1685.7 1722.0,1690.8 1723.0,1693.3 1724.0,1692.7 1725.0,1688.1 1726.0,1679.4 1727.0,1666.7 1728.0,1651.4 1729.0,1632.9 1730.0,1610.7 1731.0,1586.8 1732.0,1563.7 1733.0,1543.4 1734.0,1528.3 1735.0,1520.6 1736.0,1522.6 1737.0,1533.7 1738.0,1551.6 1739.0,1572.2 1740.0,1593.7 1741.0,1615.6 1742.0,1635.8 1743.0,1653.6 1744.0,1668.0 1745.0,1678.3 1746.0,1686.8 1747.0,1694.2 1748.0,1699.4 1749.0,1702.4 1750.0,1703.3 1751.0,1703.5 1752.0,1704.5 1753.0,1705.5 1754.0,1705.2 1755.0,1703.6 1756.0,1701.8 1757.0,1700.2 1758.0,1699.0 1759.0,1697.8 1760.0,1695.3 1761.0,1692.6 1762.0,1691.3 1763.0,1690.4 1764.0,1688.0 1765.0,1683.8 1766.0,1678.3 1767.0,1671.5 1768.0,1663.0 1769.0,1653.4 1770.0,1642.1 1771.0,1627.9 1772.0,1611.2 1773.0,1592.5 1774.0,1572.3 1775.0,1553.6 1776.0,1539.4 1777.0,1531.9 1778.0,1533.3 1779.0,1543.4 1780.0,1558.3 1781.0,1574.8 1782.0,1591.1 1783.0,1605.3 1784.0,1617.0 1785.0,1627.0 1786.0,1634.6 1787.0,1639.1 1788.0,1641.7 1789.0,1643.6 1790.0,1644.3 1791.0,1643.4 1792.0,1641.5 1793.0,1639.1 1794.0,1636.1 1795.0,1632.8 1796.0,1628.1 1797.0,1620.7 1798.0,1611.3 1799.0,1599.4 1800.0,1583.2 1801.0,1562.5 1802.0,1536.8 1803.0,1504.3 1804.0,1465.0 1805.0,1421.4 1806.0,1376.5 1807.0,1335.4 1808.0,1306.8 1809.0,1298.7 1810.0,1313.2 1811.0,1344.7 1812.0,1385.1 1813.0,1426.2 1814.0,1463.5 1815.0,1495.7 1816.0,1521.5 1817.0,1540.0 1818.0,1552.7 1819.0,1561.5 1820.0,1567.1 1821.0,1570.0 1822.0,1569.9 1823.0,1566.9 1824.0,1562.5 1825.0,1556.6 1826.0,1548.2 1827.0,1537.9 1828.0,1526.0 1829.0,1513.3 1830.0,1500.0 1831.0,1484.6 1832.0,1465.6 1833.0,1444.3 1834.0,1421.7 1835.0,1397.6 1836.0,1371.4 1837.0,1342.9 1838.0,1311.7 1839.0,1277.6 1840.0,1241.3 1841.0,1203.2 1842.0,1163.6 1843.0,1124.3 1844.0,1086.9 1845.0,1052.1 1846.0,1020.6 1847.0,995.0 1848.0,977.3 1849.0,967.4 1850.0,965.8 1851.0,973.6 1852.0,990.1 1853.0,1014.0 1854.0,1043.9 1855.0,1079.4 1856.0,1119.0 1857.0,1159.9 1858.0,1200.8 1859.0,1241.2 1860.0,1281.1 1861.0,1320.0 1862.0,1356.6 1863.0,1390.5 1864.0,1422.5 1865.0,1451.5 1866.0,1477.5 1867.0,1501.1 1868.0,1522.2 1869.0,1541.9 1870.0,1561.0 1871.0,1578.9 1872.0,1594.7 1873.0,1608.2 1874.0,1619.4 1875.0,1628.4 1876.0,1635.0 1877.0,1638.0 1878.0,1636.7 1879.0,1631.0 1880.0,1620.6 1881.0,1606.7 1882.0,1590.4 1883.0,1572.1 1884.0,1551.8 1885.0,1530.4 1886.0,1510.7 1887.0,1496.5 1888.0,1490.6 1889.0,1493.2 1890.0,1503.3 1891.0,1519.0 1892.0,1536.7 1893.0,1554.6 1894.0,1572.0 1895.0,1587.3 1896.0,1599.2 1897.0,1608.2 1898.0,1614.5 1899.0,1618.5 1900.0,1620.2 1901.0,1619.8 1902.0,1618.2 1903.0,1615.3 1904.0,1611.6 1905.0,1608.3 1906.0,1605.8 1907.0,1602.5 1908.0,1596.4 1909.0,1586.5 1910.0,1571.6 1911.0,1554.6 1912.0,1545.4 1913.0,1551.6 1914.0,1565.0 1915.0,1574.9 1916.0,1577.6 1917.0,1573.2 1918.0,1563.3 1919.0,1548.0 1920.0,1528.4 1921.0,1508.5 1922.0,1494.8 1923.0,1492.8 1924.0,1503.7 1925.0,1523.8 1926.0,1548.0 1927.0,1571.0 1928.0,1589.4 1929.0,1604.0 1930.0,1616.1 1931.0,1626.4 1932.0,1635.1 1933.0,1640.8 1934.0,1643.8 1935.0,1646.9 1936.0,1651.3 1937.0,1655.0 1938.0,1657.3 1939.0,1658.4 1940.0,1658.8 1941.0,1659.3 1942.0,1660.2 1943.0,1662.0 1944.0,1664.5 1945.0,1666.9 1946.0,1668.5 1947.0,1669.0 1948.0,1669.4 1949.0,1671.1 1950.0,1672.3 1951.0,1672.0 1952.0,1671.7 1953.0,1672.7 1954.0,1673.6 1955.0,1673.3 1956.0,1673.4 1957.0,1674.0 1958.0,1673.7 1959.0,1672.7 1960.0,1672.2 1961.0,1672.0 1962.0,1671.8 1963.0,1671.0 1964.0,1668.8 1965.0,1664.3 1966.0,1657.6 1967.0,1649.6 1968.0,1638.4 1969.0,1622.3 1970.0,1601.2 1971.0,1577.8 1972.0,1559.5 1973.0,1554.7 1974.0,1565.4 1975.0,1586.5 1976.0,1610.0 1977.0,1629.6 1978.0,1643.8 1979.0,1653.6 1980.0,1660.2 1981.0,1664.5 1982.0,1666.4 1983.0,1665.1 1984.0,1660.9 1985.0,1654.4 1986.0,1644.9 1987.0,1633.4 1988.0,1622.4 1989.0,1615.0 1990.0,1616.7 1991.0,1627.7 1992.0,1642.5 1993.0,1657.6 1994.0,1671.2 1995.0,1681.9 1996.0,1689.6 1997.0,1695.4 1998.0,1699.9 1999.0,1703.4 2000.0,1706.0 2001.0,1709.0 2002.0,1712.1 2003.0,1714.1 2004.0,1716.0 2005.0,1717.8 2006.0,1718.3 2007.0,1718.5 2008.0,1719.4 2009.0,1720.8 2010.0,1722.5 2011.0,1723.4 2012.0,1723.0 2013.0,1723.1 2014.0,1723.8 2015.0,1724.3 2016.0,1724.5 2017.0,1724.5 2018.0,1724.4 2019.0,1725.1 2020.0,1726.2 2021.0,1727.1 2022.0,1727.6 2023.0,1728.0 2024.0,1728.7 2025.0,1728.8 2026.0,1728.4 2027.0,1728.1 2028.0,1728.9 2029.0,1730.0 2030.0,1730.9 2031.0,1732.2 2032.0,1733.8 2033.0,1734.8 2034.0,1734.6 2035.0,1733.5 2036.0,1733.0 2037.0,1733.5 2038.0,1733.5 2039.0,1732.4 2040.0,1730.5 2041.0,1728.4 2042.0,1725.9 2043.0,1723.8 2044.0,1723.5 2045.0,1725.2 2046.0,1728.4 2047.0,1731.9 2048.0,1735.1 2049.0,1737.6 2050.0,1739.7 2051.0,1740.9 2052.0,1741.5 2053.0,1742.0 2054.0,1742.9 2055.0,1743.7 2056.0,1743.1 2057.0,1742.3 2058.0,1743.1 2059.0,1745.1 2060.0,1747.0 2061.0,1747.5 2062.0,1747.1 2063.0,1747.0 2064.0,1748.0 2065.0,1749.5 2066.0,1750.1 2067.0,1749.8 2068.0,1749.9 2069.0,1749.8 2070.0,1749.7 2071.0,1749.8 2072.0,1749.7 2073.0,1749.9 2074.0,1751.3 2075.0,1752.1 2076.0,1751.8 2077.0,1751.9 2078.0,1752.9 2079.0,1753.3 2080.0,1752.8 2081.0,1751.5 2082.0,1749.8 2083.0,1748.6 2084.0,1748.3 2085.0,1748.9 2086.0,1750.5 2087.0,1752.5 2088.0,1754.1 2089.0,1754.6 2090.0,1754.6 2091.0,1754.4 2092.0,1754.0 2093.0,1752.9 2094.0,1751.8 2095.0,1750.7 2096.0,1749.2 2097.0,1747.6 2098.0,1746.2 2099.0,1744.5 2100.0,1740.6 2101.0,1734.3 2102.0,1726.5 2103.0,1716.4 2104.0,1702.2 2105.0,1684.7 2106.0,1666.2 2107.0,1650.3 2108.0,1642.8 2109.0,1647.3 2110.0,1660.9 2111.0,1677.1 2112.0,1692.0 2113.0,1704.4 2114.0,1713.1 2115.0,1717.6 2116.0,1719.2 2117.0,1718.8 2118.0,1715.9 2119.0,1711.5 2120.0,1708.6 2121.0,1709.1 2122.0,1713.0 2123.0,1718.2 2124.0,1723.2 2125.0,1727.7 2126.0,1731.7 2127.0,1735.1 2128.0,1738.0 2129.0,1739.1 2130.0,1738.9 2131.0,1739.4 2132.0,1740.9 2133.0,1742.3 2134.0,1743.6 2135.0,1745.2 2136.0,1747.4 2137.0,1750.0 2138.0,1752.1 2139.0,1753.8 2140.0,1755.4 2141.0,1756.5 2142.0,1758.1 2143.0,1760.6 2144.0,1763.0 2145.0,1765.2 2146.0,1767.4 2147.0,1768.6 2148.0,1769.2 2149.0,1770.8 2150.0,1773.3 2151.0,1774.0 2152.0,1772.8 2153.0,1771.8 2154.0,1771.8 2155.0,1771.9 2156.0,1772.0 2157.0,1772.2 2158.0,1772.3 2159.0,1773.0 2160.0,1774.0 2161.0,1774.4 2162.0,1774.9 2163.0,1775.6 2164.0,1775.7 2165.0,1775.2 2166.0,1775.0 2167.0,1775.6 2168.0,1776.5 2169.0,1776.2 2170.0,1775.4 2171.0,1775.6 2172.0,1776.7 2173.0,1777.6 2174.0,1778.2 2175.0,1777.4 2176.0,1775.6 2177.0,1774.2 2178.0,1773.7 2179.0,1774.3 2180.0,1775.5 2181.0,1775.6 2182.0,1773.4 2183.0,1770.8 2184.0,1769.9 2185.0,1769.3 2186.0,1767.7 2187.0,1766.0 2188.0,1764.3 2189.0,1761.9 2190.0,1758.1 2191.0,1753.9 2192.0,1749.6 2193.0,1744.9 2194.0,1740.6 2195.0,1738.3 2196.0,1739.0 2197.0,1741.6 2198.0,1745.1 2199.0,1749.7 2200.0,1754.3 2201.0,1757.8 2202.0,1760.5 2203.0,1763.2 2204.0,1766.0 2205.0,1767.5 2206.0,1767.0 2207.0,1766.2 2208.0,1767.2 2209.0,1769.5 2210.0,1770.8 2211.0,1770.7 2212.0,1769.9 2213.0,1768.9 2214.0,1768.3 2215.0,1768.1 2216.0,1767.6 2217.0,1767.1 2218.0,1767.4 2219.0,1766.7 2220.0,1764.5 2221.0,1762.9 2222.0,1762.0 2223.0,1760.6 2224.0,1759.6 2225.0,1760.0 2226.0,1760.4 2227.0,1760.9 2228.0,1761.7 2229.0,1761.6 2230.0,1761.3 2231.0,1761.7 2232.0,1762.4 2233.0,1763.7 2234.0,1765.1 2235.0,1766.3 2236.0,1767.9 2237.0,1769.8 2238.0,1770.8 2239.0,1770.9 2240.0,1771.0 2241.0,1771.4 2242.0,1771.8 2243.0,1771.8 2244.0,1771.3 2245.0,1770.1 2246.0,1769.2 2247.0,1769.4 2248.0,1771.0 2249.0,1773.2 2250.0,1774.5 2251.0,1774.8 2252.0,1775.0 2253.0,1775.5 2254.0,1775.8 2255.0,1776.4 2256.0,1777.1 2257.0,1777.6 2258.0,1778.3 2259.0,1778.0 2260.0,1776.3 2261.0,1774.0 2262.0,1772.0 2263.0,1769.5 2264.0,1764.9 2265.0,1758.1 2266.0,1747.6 2267.0,1732.3 2268.0,1713.0 2269.0,1690.1 2270.0,1664.6 2271.0,1644.2 2272.0,1641.7 2273.0,1658.4 2274.0,1683.7 2275.0,1707.6 2276.0,1726.1 2277.0,1739.8 2278.0,1750.0 2279.0,1757.1 2280.0,1760.4 2281.0,1762.4 2282.0,1765.5 2283.0,1768.9 2284.0,1771.2 2285.0,1772.0 2286.0,1772.9 2287.0,1774.6 2288.0,1775.9 2289.0,1776.4 2290.0,1776.8 2291.0,1777.0 2292.0,1776.9 2293.0,1777.0 2294.0,1777.2 2295.0,1777.5 2296.0,1777.9 2297.0,1778.2 2298.0,1779.0 2299.0,1779.2 2300.0,1778.3 2301.0,1777.5 2302.0,1777.8 2303.0,1778.3" fill="none" stroke="#505050" stroke-width="5.6" stroke-linejoin="round" stroke-linecap="round"/>
<path d="M188.0,1776.4 189.0,1776.6 190.0,1776.2 191.0,1775.5 192.0,1774.7 193.0,1774.6 194.0,1775.2 195.0,1775.6 196.0,1775.8 197.0,1776.0 198.0,1774.8 199.0,1773.2 200.0,1773.2 201.0,1774.5 202.0,1776.4 203.0,1777.2 204.0,1776.1 205.0,1775.2 206.0,1775.1 207.0,1775.7 208.0,1776.2 209.0,1776.1 210.0,1775.6 211.0,1775.4 212.0,1775.1 213.0,1775.5 214.0,1776.0 215.0,1775.4 216.0,1774.1 217.0,1773.5 218.0,1773.9 219.0,1774.6 220.0,1774.8 221.0,1774.5 222.0,1774.9 223.0,1775.5 224.0,1775.9 225.0,1776.2 226.0,1776.5 227.0,1776.3 228.0,1776.2 229.0,1776.1 230.0,1775.4 231.0,1774.5 232.0,1774.4 233.0,1774.1 234.0,1773.2 235.0,1772.1 236.0,1771.7 237.0,1772.3 238.0,1773.1 239.0,1773.4 240.0,1773.8 241.0,1774.6 242.0,1774.5 243.0,1773.6 244.0,1772.7 245.0,1772.1 246.0,1772.1 247.0,1772.6 248.0,1773.0 249.0,1772.7 250.0,1772.2 251.0,1772.3 252.0,1773.0 253.0,1774.4 254.0,1775.4 255.0,1774.7 256.0,1772.8 257.0,1771.2 258.0,1770.6 259.0,1771.4 260.0,1772.5 261.0,1772.9 262.0,1772.9 263.0,1773.1 264.0,1773.8 265.0,1774.1 266.0,1773.3 267.0,1772.6 268.0,1772.7 269.0,1772.8 270.0,1772.0 271.0,1771.0 272.0,1770.7 273.0,1771.8 274.0,1773.9 275.0,1775.0 276.0,1774.4 277.0,1773.9 278.0,1773.2 279.0,1772.4 280.0,1772.2 281.0,1772.6 282.0,1773.2 283.0,1773.4 284.0,1772.8 285.0,1772.8 286.0,1773.1 287.0,1773.1 288.0,1773.5 289.0,1774.0 290.0,1774.0 291.0,1773.7 292.0,1773.1 293.0,1773.0 294.0,1774.7 295.0,1776.1 296.0,1775.6 297.0,1773.9 298.0,1772.3 299.0,1771.7 300.0,1771.8 301.0,1772.3 302.0,1772.7 303.0,1772.3 304.0,1771.4 305.0,1771.0 306.0,1771.5 307.0,1772.0 308.0,1772.1 309.0,1772.6 310.0,1773.0 311.0,1772.0 312.0,1771.3 313.0,1772.3 314.0,1774.3 315.0,1775.0 316.0,1773.9 317.0,1772.5 318.0,1772.5 319.0,1773.0 320.0,1773.4 321.0,1774.3 322.0,1774.6 323.0,1774.2 324.0,1774.1 325.0,1774.3 326.0,1774.0 327.0,1773.2 328.0,1772.9 329.0,1772.3 330.0,1771.8 331.0,1771.8 332.0,1771.5 333.0,1770.6 334.0,1770.4 335.0,1771.9 336.0,1774.2 337.0,1775.4 338.0,1775.0 339.0,1774.0 340.0,1773.0 341.0,1772.5 342.0,1772.1 343.0,1771.4 344.0,1771.3 345.0,1771.7 346.0,1771.8 347.0,1771.9 348.0,1772.5 349.0,1773.1 350.0,1773.5 351.0,1773.2 352.0,1772.7 353.0,1772.6 354.0,1772.3 355.0,1772.1 356.0,1772.7 357.0,1773.7 358.0,1774.2 359.0,1773.4 360.0,1772.1 361.0,1771.7 362.0,1772.2 363.0,1772.5 364.0,1772.5 365.0,1772.8 366.0,1773.3 367.0,1773.1 368.0,1773.2 369.0,1774.0 370.0,1774.3 371.0,1773.7 372.0,1773.4 373.0,1773.5 374.0,1773.5 375.0,1773.0 376.0,1772.2 377.0,1772.0 378.0,1772.3 379.0,1772.9 380.0,1773.2 381.0,1772.5 382.0,1770.8 383.0,1769.7 384.0,1770.3 385.0,1771.5 386.0,1773.1 387.0,1774.2 388.0,1773.9 389.0,1773.2 390.0,1772.9 391.0,1772.7 392.0,1772.4 393.0,1772.3 394.0,1772.9 395.0,1773.9 396.0,1774.4 397.0,1774.3 398.0,1773.8 399.0,1773.5 400.0,1773.7 401.0,1774.2 402.0,1774.4 403.0,1773.7 404.0,1772.9 405.0,1773.3 406.0,1774.0 407.0,1774.0 408.0,1774.1 409.0,1775.0 410.0,1775.2 411.0,1774.7 412.0,1774.7 413.0,1775.3 414.0,1775.0 415.0,1773.8 416.0,1772.4 417.0,1771.2 418.0,1771.4 419.0,1772.6 420.0,1773.0 421.0,1772.1 422.0,1771.0 423.0,1770.7 424.0,1771.0 425.0,1772.0 426.0,1773.8 427.0,1775.7 428.0,1776.3 429.0,1774.7 430.0,1772.2 431.0,1769.9 432.0,1768.9 433.0,1770.2 434.0,1772.2 435.0,1773.6 436.0,1774.0 437.0,1773.8 438.0,1773.8 439.0,1774.0 440.0,1773.5 441.0,1772.2 442.0,1771.5 443.0,1772.3 444.0,1774.1 445.0,1774.8 446.0,1773.9 447.0,1772.7 448.0,1772.6 449.0,1772.9 450.0,1773.2 451.0,1773.4 452.0,1773.7 453.0,1773.9 454.0,1774.2 455.0,1774.1 456.0,1773.6 457.0,1773.5 458.0,1773.8 459.0,1774.2 460.0,1774.2 461.0,1773.9 462.0,1773.3 463.0,1773.2 464.0,1773.7 465.0,1774.2 466.0,1774.5 467.0,1774.0 468.0,1772.9 469.0,1772.6 470.0,1772.9 471.0,1773.1 472.0,1773.7 473.0,1774.7 474.0,1775.2 475.0,1775.2 476.0,1775.1 477.0,1774.9 478.0,1774.9 479.0,1775.2 480.0,1775.4 481.0,1774.9 482.0,1773.8 483.0,1773.3 484.0,1773.5 485.0,1773.4 486.0,1772.8 487.0,1772.6 488.0,1773.6 489.0,1774.0 490.0,1772.8 491.0,1771.4 492.0,1769.7 493.0,1768.3 494.0,1768.4 495.0,1769.2 496.0,1769.5 497.0,1768.6 498.0,1767.5 499.0,1767.2 500.0,1766.9 501.0,1766.3 502.0,1765.5 503.0,1765.0 504.0,1765.6 505.0,1766.9 506.0,1767.4 507.0,1766.7 508.0,1765.9 509.0,1765.9 510.0,1766.0 511.0,1765.8 512.0,1764.9 513.0,1763.9 514.0,1763.5 515.0,1763.6 516.0,1763.7 517.0,1763.2 518.0,1762.0 519.0,1761.2 520.0,1761.3 521.0,1762.0 522.0,1763.2 523.0,1763.8 524.0,1764.2 525.0,1765.5 526.0,1766.7 527.0,1767.5 528.0,1768.4 529.0,1768.2 530.0,1767.3 531.0,1767.4 532.0,1767.9 533.0,1768.1 534.0,1767.8 535.0,1766.9 536.0,1766.3 537.0,1766.3 538.0,1766.5 539.0,1766.6 540.0,1766.5 541.0,1767.1 542.0,1768.2 543.0,1768.5 544.0,1767.7 545.0,1766.7 546.0,1766.7 547.0,1767.4 548.0,1768.0 549.0,1768.6 550.0,1769.1 551.0,1769.1 552.0,1768.9 553.0,1769.1 554.0,1769.3 555.0,1769.4 556.0,1769.8 557.0,1769.8 558.0,1769.5 559.0,1769.5 560.0,1770.0 561.0,1770.6 562.0,1770.7 563.0,1770.4 564.0,1770.3 565.0,1770.2 566.0,1769.9 567.0,1768.7 568.0,1768.2 569.0,1768.8 570.0,1768.8 571.0,1768.1 572.0,1768.1 573.0,1769.2 574.0,1770.3 575.0,1769.7 576.0,1768.7 577.0,1768.9 578.0,1769.7 579.0,1769.6 580.0,1768.1 581.0,1767.0 582.0,1767.6 583.0,1768.0 584.0,1767.6 585.0,1767.6 586.0,1769.0 587.0,1769.7 588.0,1769.3 589.0,1769.6 590.0,1770.6 591.0,1771.4 592.0,1771.0 593.0,1770.5 594.0,1770.5 595.0,1770.2 596.0,1769.7 597.0,1769.3 598.0,1768.7 599.0,1768.9 600.0,1769.8 601.0,1769.7 602.0,1769.0 603.0,1768.3 604.0,1767.4 605.0,1767.2 606.0,1767.8 607.0,1768.7 608.0,1769.6 609.0,1770.1 610.0,1770.0 611.0,1769.9 612.0,1769.5 613.0,1768.9 614.0,1768.7 615.0,1769.2 616.0,1770.0 617.0,1770.0 618.0,1769.0 619.0,1768.3 620.0,1768.4 621.0,1768.9 622.0,1769.3 623.0,1769.2 624.0,1769.2 625.0,1769.9 626.0,1770.1 627.0,1769.9 628.0,1769.8 629.0,1769.4 630.0,1768.9 631.0,1768.6 632.0,1768.4 633.0,1768.6 634.0,1769.8 635.0,1771.1 636.0,1771.3 637.0,1770.9 638.0,1770.7 639.0,1770.3 640.0,1770.3 641.0,1770.6 642.0,1771.3 643.0,1771.4 644.0,1770.2 645.0,1769.3 646.0,1769.3 647.0,1768.6 648.0,1767.3 649.0,1767.0 650.0,1768.8 651.0,1770.4 652.0,1771.0 653.0,1771.4 654.0,1771.2 655.0,1770.4 656.0,1769.6 657.0,1768.9 658.0,1769.0 659.0,1769.5 660.0,1769.1 661.0,1768.3 662.0,1768.3 663.0,1768.4 664.0,1768.3 665.0,1768.3 666.0,1767.6 667.0,1767.0 668.0,1767.7 669.0,1768.7 670.0,1768.6 671.0,1768.8 672.0,1769.4 673.0,1769.0 674.0,1768.1 675.0,1768.1 676.0,1768.8 677.0,1768.9 678.0,1768.2 679.0,1768.3 680.0,1769.5 681.0,1770.1 682.0,1769.5 683.0,1768.8 684.0,1768.9 685.0,1769.2 686.0,1768.8 687.0,1768.1 688.0,1767.9 689.0,1767.8 690.0,1767.7 691.0,1768.1 692.0,1768.4 693.0,1768.3 694.0,1767.9 695.0,1767.6 696.0,1768.1 697.0,1768.9 698.0,1769.3 699.0,1768.7 700.0,1767.3 701.0,1767.0 702.0,1768.2 703.0,1769.9 704.0,1770.6 705.0,1769.7 706.0,1768.5 707.0,1767.9 708.0,1767.4 709.0,1768.0 710.0,1769.6 711.0,1770.0 712.0,1769.8 713.0,1770.0 714.0,1770.2 715.0,1769.7 716.0,1768.5 717.0,1767.2 718.0,1767.2 719.0,1768.9 720.0,1769.7 721.0,1769.2 722.0,1768.3 723.0,1767.8 724.0,1768.0 725.0,1768.8 726.0,1769.0 727.0,1768.7 728.0,1768.7 729.0,1768.8 730.0,1768.5 731.0,1767.7 732.0,1767.3 733.0,1768.1 734.0,1768.7 735.0,1767.9 736.0,1767.5 737.0,1768.1 738.0,1768.2 739.0,1767.1 740.0,1765.9 741.0,1765.5 742.0,1765.3 743.0,1765.5 744.0,1766.3 745.0,1767.3 746.0,1768.8 747.0,1769.9 748.0,1769.0 749.0,1767.1 750.0,1765.5 751.0,1764.5 752.0,1764.2 753.0,1764.1 754.0,1764.1 755.0,1764.3 756.0,1764.2 757.0,1763.6 758.0,1763.2 759.0,1763.7 760.0,1765.0 761.0,1766.0 762.0,1766.5 763.0,1766.2 764.0,1765.2 765.0,1764.5 766.0,1764.7 767.0,1765.7 768.0,1765.4 769.0,1763.6 770.0,1762.2 771.0,1761.4 772.0,1760.7 773.0,1761.0 774.0,1761.8 775.0,1761.6 776.0,1761.0 777.0,1759.9 778.0,1758.1 779.0,1755.8 780.0,1752.9 781.0,1749.9 782.0,1746.8 783.0,1743.7 784.0,1740.4 785.0,1736.1 786.0,1730.7 787.0,1724.2 788.0,1717.0 789.0,1709.2 790.0,1701.4 791.0,1693.8 792.0,1685.0 793.0,1674.9 794.0,1664.3 795.0,1652.8 796.0,1641.1 797.0,1629.2 798.0,1616.5 799.0,1604.3 800.0,1593.4 801.0,1582.3 802.0,1570.8 803.0,1560.5 804.0,1552.4 805.0,1547.2 806.0,1544.0 807.0,1541.6 808.0,1540.4 809.0,1541.8 810.0,1544.6 811.0,1547.3 812.0,1551.1 813.0,1556.2 814.0,1561.0 815.0,1565.3 816.0,1569.6 817.0,1574.6 818.0,1580.8 819.0,1587.9 820.0,1595.0 821.0,1601.8 822.0,1607.7 823.0,1612.5 824.0,1616.1 825.0,1619.0 826.0,1622.8 827.0,1628.1 828.0,1633.7 829.0,1638.9 830.0,1643.4 831.0,1647.0 832.0,1650.9 833.0,1655.3 834.0,1659.6 835.0,1663.8 836.0,1668.3 837.0,1672.5 838.0,1676.8 839.0,1681.9 840.0,1686.2 841.0,1689.0 842.0,1691.2 843.0,1692.1 844.0,1690.5 845.0,1687.3 846.0,1682.8 847.0,1675.8 848.0,1666.9 849.0,1657.5 850.0,1648.6 851.0,1642.0 852.0,1640.5 853.0,1645.3 854.0,1654.4 855.0,1666.7 856.0,1680.3 857.0,1692.5 858.0,1701.9 859.0,1709.4 860.0,1716.1 861.0,1721.7 862.0,1725.3 863.0,1727.3 864.0,1729.4 865.0,1731.2 866.0,1733.0 867.0,1735.6 868.0,1738.2 869.0,1739.5 870.0,1740.7 871.0,1742.6 872.0,1743.9 873.0,1744.0 874.0,1743.7 875.0,1744.2 876.0,1744.9 877.0,1744.9 878.0,1745.5 879.0,1747.0 880.0,1747.2 881.0,1745.5 882.0,1744.1 883.0,1744.8 884.0,1746.5 885.0,1748.4 886.0,1749.5 887.0,1749.7 888.0,1749.7 889.0,1750.0 890.0,1750.3 891.0,1751.2 892.0,1753.0 893.0,1754.7 894.0,1754.4 895.0,1752.9 896.0,1752.2 897.0,1752.2 898.0,1752.3 899.0,1753.1 900.0,1754.4 901.0,1755.3 902.0,1755.0 903.0,1754.2 904.0,1753.7 905.0,1754.2 906.0,1755.4 907.0,1756.5 908.0,1757.1 909.0,1757.3 910.0,1757.5 911.0,1757.2 912.0,1756.0 913.0,1754.9 914.0,1755.6 915.0,1757.7 916.0,1759.0 917.0,1758.9 918.0,1758.3 919.0,1757.6 920.0,1757.3 921.0,1757.8 922.0,1758.6 923.0,1758.8 924.0,1758.4 925.0,1758.5 926.0,1758.9 927.0,1759.0 928.0,1759.3 929.0,1760.1 930.0,1760.3 931.0,1760.5 932.0,1761.0 933.0,1761.0 934.0,1760.2 935.0,1759.3 936.0,1758.3 937.0,1757.5 938.0,1757.7 939.0,1758.5 940.0,1758.8 941.0,1759.0 942.0,1758.9 943.0,1758.9 944.0,1759.7 945.0,1760.9 946.0,1762.1 947.0,1762.7 948.0,1762.4 949.0,1761.7 950.0,1761.2 951.0,1761.3 952.0,1761.1 953.0,1760.8 954.0,1760.8 955.0,1761.2 956.0,1761.5 957.0,1761.4 958.0,1760.9 959.0,1760.8 960.0,1760.7 961.0,1760.4 962.0,1760.8 963.0,1761.0 964.0,1760.1 965.0,1760.4 966.0,1761.4 967.0,1762.1 968.0,1762.5 969.0,1762.5 970.0,1763.6 971.0,1764.8 972.0,1764.4 973.0,1763.4 974.0,1762.8 975.0,1762.6 976.0,1762.6 977.0,1762.4 978.0,1762.8 979.0,1763.1 980.0,1762.7 981.0,1762.5 982.0,1762.7 983.0,1763.1 984.0,1763.8 985.0,1763.6 986.0,1762.7 987.0,1762.6 988.0,1762.7 989.0,1763.0 990.0,1763.5 991.0,1764.0 992.0,1764.5 993.0,1764.8 994.0,1765.2 995.0,1765.4 996.0,1765.1 997.0,1764.3 998.0,1763.7 999.0,1764.1 1000.0,1765.6 1001.0,1767.3 1002.0,1768.1 1003.0,1767.6 1004.0,1766.3 1005.0,1765.6 1006.0,1765.7 1007.0,1766.3 1008.0,1766.8 1009.0,1766.3 1010.0,1765.2 1011.0,1765.2 1012.0,1766.1 1013.0,1766.3 1014.0,1766.1 1015.0,1766.1 1016.0,1765.4 1017.0,1764.6 1018.0,1763.9 1019.0,1763.8 1020.0,1764.3 1021.0,1764.3 1022.0,1764.2 1023.0,1764.9 1024.0,1765.6 1025.0,1765.6 1026.0,1764.8 1027.0,1764.0 1028.0,1764.0 1029.0,1764.4 1030.0,1765.4 1031.0,1766.3 1032.0,1767.2 1033.0,1768.0 1034.0,1767.8 1035.0,1767.1 1036.0,1766.6 1037.0,1766.6 1038.0,1767.1 1039.0,1766.9 1040.0,1766.4 1041.0,1766.8 1042.0,1767.5 1043.0,1767.4 1044.0,1766.3 1045.0,1765.2 1046.0,1765.6 1047.0,1766.8 1048.0,1766.5 1049.0,1765.6 1050.0,1765.3 1051.0,1764.5 1052.0,1763.1 1053.0,1762.5 1054.0,1763.6 1055.0,1765.3 1056.0,1766.1 1057.0,1766.4 1058.0,1766.5 1059.0,1765.9 1060.0,1764.8 1061.0,1764.6 1062.0,1764.6 1063.0,1764.7 1064.0,1765.2 1065.0,1765.6 1066.0,1765.4 1067.0,1765.3 1068.0,1766.4 1069.0,1767.1 1070.0,1766.0 1071.0,1765.4 1072.0,1766.4 1073.0,1767.3 1074.0,1767.1 1075.0,1766.7 1076.0,1766.6 1077.0,1765.9 1078.0,1765.4 1079.0,1765.8 1080.0,1766.8 1081.0,1767.7 1082.0,1767.9 1083.0,1767.9 1084.0,1767.9 1085.0,1767.6 1086.0,1766.7 1087.0,1765.3 1088.0,1765.0 1089.0,1765.4 1090.0,1765.4 1091.0,1765.5 1092.0,1765.8 1093.0,1765.9 1094.0,1766.2 1095.0,1766.1 1096.0,1765.8 1097.0,1767.2 1098.0,1768.4 1099.0,1767.8 1100.0,1767.3 1101.0,1767.7 1102.0,1767.5 1103.0,1766.3 1104.0,1765.8 1105.0,1766.2 1106.0,1766.6 1107.0,1766.7 1108.0,1766.4 1109.0,1765.9 1110.0,1765.3 1111.0,1764.9 1112.0,1764.8 1113.0,1764.9 1114.0,1765.0 1115.0,1765.4 1116.0,1766.0 1117.0,1765.6 1118.0,1765.1 1119.0,1765.4 1120.0,1765.6 1121.0,1765.7 1122.0,1765.8 1123.0,1765.7 1124.0,1765.4 1125.0,1765.3 1126.0,1765.8 1127.0,1765.7 1128.0,1764.5 1129.0,1764.4 1130.0,1764.5 1131.0,1764.0 1132.0,1764.6 1133.0,1766.0 1134.0,1766.9 1135.0,1767.1 1136.0,1766.6 1137.0,1765.9 1138.0,1765.9 1139.0,1766.3 1140.0,1766.4 1141.0,1766.0 1142.0,1765.6 1143.0,1765.8 1144.0,1766.1 1145.0,1765.4 1146.0,1764.1 1147.0,1763.6 1148.0,1763.8 1149.0,1763.6 1150.0,1763.2 1151.0,1763.2 1152.0,1763.9 1153.0,1764.9 1154.0,1765.6 1155.0,1766.0 1156.0,1766.5 1157.0,1767.2 1158.0,1767.7 1159.0,1766.9 1160.0,1764.9 1161.0,1762.7 1162.0,1761.8 1163.0,1763.1 1164.0,1765.1 1165.0,1765.9 1166.0,1765.9 1167.0,1766.1 1168.0,1765.9 1169.0,1764.7 1170.0,1763.8 1171.0,1764.4 1172.0,1765.6 1173.0,1766.2 1174.0,1766.0 1175.0,1766.1 1176.0,1767.1 1177.0,1768.0 1178.0,1768.4 1179.0,1768.7 1180.0,1768.3 1181.0,1767.0 1182.0,1765.8 1183.0,1766.4 1184.0,1768.1 1185.0,1768.8 1186.0,1768.3 1187.0,1767.9 1188.0,1768.0 1189.0,1768.1 1190.0,1768.2 1191.0,1769.1 1192.0,1770.2 1193.0,1769.7 1194.0,1768.2 1195.0,1767.6 1196.0,1768.5 1197.0,1769.9 1198.0,1770.5 1199.0,1770.1 1200.0,1769.7 1201.0,1769.4 1202.0,1769.8 1203.0,1771.2 1204.0,1772.3 1205.0,1772.3 1206.0,1771.2 1207.0,1770.7 1208.0,1770.6 1209.0,1769.8 1210.0,1768.9 1211.0,1769.1 1212.0,1770.1 1213.0,1771.0 1214.0,1771.5 1215.0,1772.2 1216.0,1772.4 1217.0,1771.8 1218.0,1771.3 1219.0,1771.3 1220.0,1771.9 1221.0,1772.2 1222.0,1771.9 1223.0,1771.3 1224.0,1770.3 1225.0,1769.6 1226.0,1770.2 1227.0,1771.7 1228.0,1772.9 1229.0,1773.4 1230.0,1773.3 1231.0,1773.5 1232.0,1773.7 1233.0,1773.0 1234.0,1771.9 1235.0,1771.4 1236.0,1771.3 1237.0,1771.5 1238.0,1772.3 1239.0,1773.0 1240.0,1773.3 1241.0,1773.4 1242.0,1772.8 1243.0,1771.9 1244.0,1771.6 1245.0,1771.8 1246.0,1772.6 1247.0,1773.6 1248.0,1774.3 1249.0,1774.2 1250.0,1773.2 1251.0,1772.0 1252.0,1771.3 1253.0,1771.5 1254.0,1772.3 1255.0,1773.3 1256.0,1774.3 1257.0,1774.9 1258.0,1775.0 1259.0,1774.5 1260.0,1774.1 1261.0,1774.0 1262.0,1774.3 1263.0,1774.1 1264.0,1774.0 1265.0,1774.9 1266.0,1775.6 1267.0,1774.6 1268.0,1773.0 1269.0,1772.2 1270.0,1772.6 1271.0,1773.8 1272.0,1774.6 1273.0,1775.5 1274.0,1776.7 1275.0,1776.6 1276.0,1775.5 1277.0,1775.1 1278.0,1775.2 1279.0,1775.1 1280.0,1775.0 1281.0,1775.4 1282.0,1776.0 1283.0,1776.0 1284.0,1776.0 1285.0,1776.2 1286.0,1776.2 1287.0,1775.9 1288.0,1776.2 1289.0,1776.5 1290.0,1775.8 1291.0,1774.5 1292.0,1773.6 1293.0,1773.4 1294.0,1773.6 1295.0,1774.0 1296.0,1773.8 1297.0,1773.4 1298.0,1774.2 1299.0,1775.1 1300.0,1775.1 1301.0,1774.9 1302.0,1774.9 1303.0,1774.1 1304.0,1773.2 1305.0,1773.5 1306.0,1774.8 1307.0,1776.2 1308.0,1776.3 1309.0,1775.1 1310.0,1773.7 1311.0,1773.2 1312.0,1773.2 1313.0,1773.1 1314.0,1773.3 1315.0,1774.2 1316.0,1775.1 1317.0,1775.1 1318.0,1774.4 1319.0,1773.3 1320.0,1772.9 1321.0,1774.1 1322.0,1775.6 1323.0,1776.0 1324.0,1775.7 1325.0,1775.7 1326.0,1775.9 1327.0,1776.1 1328.0,1775.7 1329.0,1775.0 1330.0,1774.5 1331.0,1773.6 1332.0,1772.7 1333.0,1772.9 1334.0,1773.8 1335.0,1774.3 1336.0,1774.4 1337.0,1774.8 1338.0,1775.1 1339.0,1774.7 1340.0,1774.8 1341.0,1775.8 1342.0,1776.1 1343.0,1774.6 1344.0,1773.2 1345.0,1773.4 1346.0,1774.5 1347.0,1775.2 1348.0,1775.1 1349.0,1774.3 1350.0,1774.2 1351.0,1774.7 1352.0,1775.2 1353.0,1775.3 1354.0,1774.6 1355.0,1773.3 1356.0,1772.1 1357.0,1771.9 1358.0,1772.4 1359.0,1773.6 1360.0,1775.2 1361.0,1775.7 1362.0,1774.6 1363.0,1773.4 1364.0,1773.3 1365.0,1774.1 1366.0,1775.0 1367.0,1775.1 1368.0,1774.2 1369.0,1772.7 1370.0,1771.5 1371.0,1771.5 1372.0,1772.4 1373.0,1773.3 1374.0,1773.4 1375.0,1773.2 1376.0,1773.7 1377.0,1774.0 1378.0,1773.1 1379.0,1772.4 1380.0,1772.4 1381.0,1772.6 1382.0,1773.3 1383.0,1774.3 1384.0,1774.2 1385.0,1773.0 1386.0,1772.8 1387.0,1773.1 1388.0,1773.2 1389.0,1773.1 1390.0,1773.4 1391.0,1773.7 1392.0,1773.3 1393.0,1773.1 1394.0,1773.1 1395.0,1773.3 1396.0,1773.6 1397.0,1773.9 1398.0,1773.7 1399.0,1773.1 1400.0,1772.4 1401.0,1771.6 1402.0,1771.2 1403.0,1771.6 1404.0,1772.0 1405.0,1771.9 1406.0,1772.1 1407.0,1772.7 1408.0,1772.9 1409.0,1773.0 1410.0,1773.8 1411.0,1774.0 1412.0,1774.0 1413.0,1774.1 1414.0,1773.9 1415.0,1774.0 1416.0,1774.2 1417.0,1773.6 1418.0,1773.3 1419.0,1773.2 1420.0,1772.9 1421.0,1773.4 1422.0,1774.6 1423.0,1775.0 1424.0,1774.0 1425.0,1773.5 1426.0,1773.6 1427.0,1773.1 1428.0,1772.7 1429.0,1773.1 1430.0,1773.8 1431.0,1774.5 1432.0,1775.1 1433.0,1775.0 1434.0,1774.3 1435.0,1773.2 1436.0,1772.4 1437.0,1772.5 1438.0,1772.8 1439.0,1772.8 1440.0,1772.8 1441.0,1773.6 1442.0,1775.1 1443.0,1775.6 1444.0,1774.6 1445.0,1773.9 1446.0,1774.2 1447.0,1774.7 1448.0,1774.6 1449.0,1774.0 1450.0,1773.5 1451.0,1773.2 1452.0,1773.2 1453.0,1773.4 1454.0,1773.7 1455.0,1774.1 1456.0,1774.7 1457.0,1774.9 1458.0,1774.8 1459.0,1774.3 1460.0,1773.8 1461.0,1773.7 1462.0,1773.7 1463.0,1773.8 1464.0,1773.8 1465.0,1773.1 1466.0,1772.0 1467.0,1771.7 1468.0,1771.9 1469.0,1771.7 1470.0,1770.6 1471.0,1769.9 1472.0,1770.5 1473.0,1771.1 1474.0,1770.4 1475.0,1769.2 1476.0,1767.7 1477.0,1766.4 1478.0,1766.3 1479.0,1766.4 1480.0,1765.8 1481.0,1764.7 1482.0,1763.1 1483.0,1761.6 1484.0,1760.6 1485.0,1760.3 1486.0,1759.6 1487.0,1757.6 1488.0,1754.9 1489.0,1752.5 1490.0,1750.9 1491.0,1749.3 1492.0,1746.5 1493.0,1743.9 1494.0,1742.1 1495.0,1740.4 1496.0,1737.6 1497.0,1733.9 1498.0,1730.7 1499.0,1727.4 1500.0,1722.9 1501.0,1718.7 1502.0,1714.8 1503.0,1709.5 1504.0,1701.9 1505.0,1694.5 1506.0,1687.6 1507.0,1678.6 1508.0,1666.1 1509.0,1652.2 1510.0,1637.2 1511.0,1618.4 1512.0,1593.8 1513.0,1561.8 1514.0,1520.8 1515.0,1468.8 1516.0,1401.6 1517.0,1313.8 1518.0,1202.9 1519.0,1069.7 1520.0,914.7 1521.0,743.8 1522.0,578.1 1523.0,452.3 1524.0,402.6 1525.0,445.0 1526.0,563.0 1527.0,720.3 1528.0,883.4 1529.0,1032.1 1530.0,1158.2 1531.0,1260.9 1532.0,1342.5 1533.0,1405.4 1534.0,1452.6 1535.0,1488.2 1536.0,1516.1 1537.0,1538.4 1538.0,1556.8 1539.0,1572.5 1540.0,1586.4 1541.0,1598.1 1542.0,1608.3 1543.0,1618.6 1544.0,1629.0 1545.0,1638.4 1546.0,1646.1 1547.0,1653.2 1548.0,1661.3 1549.0,1670.2 1550.0,1678.2 1551.0,1684.2 1552.0,1689.3 1553.0,1694.5 1554.0,1699.1 1555.0,1703.2 1556.0,1706.4 1557.0,1708.5 1558.0,1710.1 1559.0,1711.6 1560.0,1713.6 1561.0,1716.2 1562.0,1719.1 1563.0,1721.5 1564.0,1723.0 1565.0,1723.5 1566.0,1723.7 1567.0,1724.3 1568.0,1725.1 1569.0,1725.7 1570.0,1725.7 1571.0,1725.5 1572.0,1725.8 1573.0,1726.4 1574.0,1727.3 1575.0,1728.4 1576.0,1728.8 1577.0,1727.9 1578.0,1726.9 1579.0,1727.0 1580.0,1728.2 1581.0,1729.2 1582.0,1730.3 1583.0,1732.2 1584.0,1733.8 1585.0,1734.1 1586.0,1734.4 1587.0,1735.1 1588.0,1735.8 1589.0,1736.2 1590.0,1737.7 1591.0,1739.4 1592.0,1739.8 1593.0,1739.5 1594.0,1739.0 1595.0,1738.9 1596.0,1739.7 1597.0,1740.4 1598.0,1741.0 1599.0,1742.3 1600.0,1743.5 1601.0,1743.2 1602.0,1741.9 1603.0,1741.5 1604.0,1742.8 1605.0,1745.0 1606.0,1746.4 1607.0,1746.3 1608.0,1745.6 1609.0,1745.6 1610.0,1746.7 1611.0,1747.5 1612.0,1748.0 1613.0,1749.1 1614.0,1750.0 1615.0,1749.8 1616.0,1749.0 1617.0,1749.1 1618.0,1750.8 1619.0,1752.4 1620.0,1753.2 1621.0,1753.7 1622.0,1754.6 1623.0,1755.7 1624.0,1756.1 1625.0,1755.8 1626.0,1755.3 1627.0,1755.4 1628.0,1755.6 1629.0,1755.2 1630.0,1755.4 1631.0,1756.7 1632.0,1758.1 1633.0,1758.8 1634.0,1758.7 1635.0,1757.8 1636.0,1756.6 1637.0,1756.3 1638.0,1757.4 1639.0,1759.1 1640.0,1759.9 1641.0,1760.2 1642.0,1760.2 1643.0,1760.0 1644.0,1760.0 1645.0,1760.7 1646.0,1761.5 1647.0,1761.9 1648.0,1761.9 1649.0,1761.4 1650.0,1760.9 1651.0,1760.7 1652.0,1760.8 1653.0,1760.4 1654.0,1759.3 1655.0,1758.9 1656.0,1758.0 1657.0,1754.6 1658.0,1750.9 1659.0,1748.3 1660.0,1745.4 1661.0,1741.1 1662.0,1735.6 1663.0,1729.2 1664.0,1721.9 1665.0,1712.8 1666.0,1699.6 1667.0,1683.7 1668.0,1666.9 1669.0,1649.5 1670.0,1631.6 1671.0,1614.2 1672.0,1599.4 1673.0,1590.6 1674.0,1589.3 1675.0,1593.5 1676.0,1600.1 1677.0,1607.2 1678.0,1613.5 1679.0,1618.1 1680.0,1621.8 1681.0,1627.7 1682.0,1637.8 1683.0,1650.0 1684.0,1661.1 1685.0,1670.4 1686.0,1677.4 1687.0,1681.1 1688.0,1682.1 1689.0,1682.1 1690.0,1682.1 1691.0,1682.5 1692.0,1682.8 1693.0,1682.4 1694.0,1681.6 1695.0,1680.7 1696.0,1678.3 1697.0,1672.2 1698.0,1660.9 1699.0,1645.2 1700.0,1627.2 1701.0,1607.6 1702.0,1587.4 1703.0,1571.6 1704.0,1566.1 1705.0,1573.4 1706.0,1591.2 1707.0,1612.9 1708.0,1632.8 1709.0,1648.0 1710.0,1656.5 1711.0,1657.6 1712.0,1651.3 1713.0,1638.2 1714.0,1620.1 1715.0,1600.6 1716.0,1585.1 1717.0,1579.7 1718.0,1587.0 1719.0,1602.4 1720.0,1619.8 1721.0,1635.1 1722.0,1646.5 1723.0,1653.6 1724.0,1654.9 1725.0,1648.7 1726.0,1634.9 1727.0,1615.5 1728.0,1591.0 1729.0,1561.2 1730.0,1526.8 1731.0,1488.8 1732.0,1451.1 1733.0,1418.4 1734.0,1393.9 1735.0,1382.1 1736.0,1386.8 1737.0,1406.3 1738.0,1436.0 1739.0,1470.7 1740.0,1507.6 1741.0,1544.7 1742.0,1579.1 1743.0,1608.3 1744.0,1631.3 1745.0,1648.5 1746.0,1661.3 1747.0,1671.1 1748.0,1678.5 1749.0,1683.5 1750.0,1686.5 1751.0,1688.4 1752.0,1690.7 1753.0,1692.7 1754.0,1693.0 1755.0,1690.5 1756.0,1686.6 1757.0,1682.4 1758.0,1677.8 1759.0,1673.5 1760.0,1670.8 1761.0,1669.2 1762.0,1666.5 1763.0,1662.4 1764.0,1658.0 1765.0,1652.3 1766.0,1643.2 1767.0,1630.2 1768.0,1613.3 1769.0,1592.9 1770.0,1568.2 1771.0,1537.6 1772.0,1501.1 1773.0,1461.0 1774.0,1420.0 1775.0,1381.6 1776.0,1352.6 1777.0,1339.7 1778.0,1346.3 1779.0,1369.8 1780.0,1403.0 1781.0,1439.5 1782.0,1475.0 1783.0,1507.9 1784.0,1537.0 1785.0,1560.7 1786.0,1578.6 1787.0,1590.7 1788.0,1598.1 1789.0,1602.5 1790.0,1604.7 1791.0,1604.4 1792.0,1602.3 1793.0,1599.4 1794.0,1595.3 1795.0,1588.9 1796.0,1579.8 1797.0,1567.6 1798.0,1551.2 1799.0,1528.7 1800.0,1498.5 1801.0,1459.4 1802.0,1410.7 1803.0,1350.5 1804.0,1277.6 1805.0,1194.5 1806.0,1107.1 1807.0,1028.1 1808.0,975.2 1809.0,962.7 1810.0,994.8 1811.0,1061.9 1812.0,1146.1 1813.0,1232.4 1814.0,1311.9 1815.0,1380.1 1816.0,1434.9 1817.0,1476.5 1818.0,1507.2 1819.0,1527.5 1820.0,1538.5 1821.0,1543.3 1822.0,1542.8 1823.0,1536.0 1824.0,1523.2 1825.0,1504.3 1826.0,1479.2 1827.0,1449.1 1828.0,1415.6 1829.0,1379.3 1830.0,1339.0 1831.0,1294.5 1832.0,1245.9 1833.0,1194.6 1834.0,1141.7 1835.0,1086.1 1836.0,1028.0 1837.0,969.3 1838.0,912.2 1839.0,857.3 1840.0,805.2 1841.0,757.1 1842.0,714.2 1843.0,676.6 1844.0,644.8 1845.0,620.2 1846.0,603.1 1847.0,592.7 1848.0,590.2 1849.0,597.9 1850.0,614.6 1851.0,638.2 1852.0,667.8 1853.0,703.6 1854.0,745.7 1855.0,792.6 1856.0,842.7 1857.0,895.5 1858.0,950.7 1859.0,1006.9 1860.0,1062.2 1861.0,1116.8 1862.0,1170.7 1863.0,1222.2 1864.0,1271.0 1865.0,1316.8 1866.0,1358.8 1867.0,1396.1 1868.0,1428.9 1869.0,1458.3 1870.0,1485.2 1871.0,1509.2 1872.0,1528.9 1873.0,1543.9 1874.0,1554.5 1875.0,1562.5 1876.0,1568.4 1877.0,1570.0 1878.0,1566.9 1879.0,1559.9 1880.0,1548.7 1881.0,1532.7 1882.0,1513.0 1883.0,1490.9 1884.0,1466.9 1885.0,1443.5 1886.0,1423.3 1887.0,1407.6 1888.0,1399.5 1889.0,1402.1 1890.0,1415.3 1891.0,1434.5 1892.0,1455.5 1893.0,1476.6 1894.0,1497.1 1895.0,1516.0 1896.0,1532.8 1897.0,1546.2 1898.0,1555.4 1899.0,1561.3 1900.0,1565.4 1901.0,1567.7 1902.0,1568.5 1903.0,1568.9 1904.0,1568.7 1905.0,1567.0 1906.0,1564.0 1907.0,1559.9 1908.0,1553.6 1909.0,1544.7 1910.0,1533.8 1911.0,1522.1 1912.0,1513.1 1913.0,1509.8 1914.0,1507.8 1915.0,1501.1 1916.0,1486.4 1917.0,1462.4 1918.0,1428.2 1919.0,1384.0 1920.0,1332.7 1921.0,1280.9 1922.0,1242.8 1923.0,1233.9 1924.0,1258.7 1925.0,1307.3 1926.0,1364.2 1927.0,1417.2 1928.0,1462.5 1929.0,1499.2 1930.0,1527.3 1931.0,1548.3 1932.0,1564.6 1933.0,1576.7 1934.0,1585.6 1935.0,1592.3 1936.0,1597.6 1937.0,1602.8 1938.0,1608.1 1939.0,1612.5 1940.0,1615.9 1941.0,1619.4 1942.0,1623.2 1943.0,1626.4 1944.0,1628.6 1945.0,1629.9 1946.0,1630.8 1947.0,1632.0 1948.0,1633.6 1949.0,1635.1 1950.0,1636.9 1951.0,1638.6 1952.0,1639.1 1953.0,1639.7 1954.0,1641.5 1955.0,1643.1 1956.0,1643.4 1957.0,1643.0 1958.0,1641.8 1959.0,1640.6 1960.0,1639.8 1961.0,1639.3 1962.0,1637.6 1963.0,1633.9 1964.0,1628.2 1965.0,1619.5 1966.0,1607.5 1967.0,1590.4 1968.0,1565.1 1969.0,1530.0 1970.0,1486.5 1971.0,1440.4 1972.0,1404.5 1973.0,1395.9 1974.0,1419.6 1975.0,1462.9 1976.0,1509.4 1977.0,1550.1 1978.0,1582.3 1979.0,1606.1 1980.0,1622.0 1981.0,1631.3 1982.0,1635.7 1983.0,1636.3 1984.0,1632.6 1985.0,1623.6 1986.0,1610.7 1987.0,1595.6 1988.0,1580.3 1989.0,1571.1 1990.0,1573.7 1991.0,1587.6 1992.0,1607.5 1993.0,1627.8 1994.0,1645.7 1995.0,1659.2 1996.0,1668.5 1997.0,1675.4 1998.0,1681.3 1999.0,1686.4 2000.0,1690.1 2001.0,1692.4 2002.0,1694.3 2003.0,1695.6 2004.0,1697.0 2005.0,1699.6 2006.0,1702.8 2007.0,1704.4 2008.0,1704.9 2009.0,1705.5 2010.0,1705.9 2011.0,1706.3 2012.0,1707.9 2013.0,1709.6 2014.0,1709.7 2015.0,1709.5 2016.0,1709.7 2017.0,1709.8 2018.0,1710.5 2019.0,1711.4 2020.0,1711.7 2021.0,1711.6 2022.0,1711.7 2023.0,1712.2 2024.0,1713.1 2025.0,1713.8 2026.0,1713.4 2027.0,1711.9 2028.0,1711.5 2029.0,1713.0 2030.0,1713.9 2031.0,1713.3 2032.0,1713.1 2033.0,1714.6 2034.0,1716.3 2035.0,1716.9 2036.0,1717.6 2037.0,1718.5 2038.0,1718.4 2039.0,1716.6 2040.0,1713.7 2041.0,1711.1 2042.0,1708.9 2043.0,1706.5 2044.0,1705.3 2045.0,1707.2 2046.0,1712.3 2047.0,1718.2 2048.0,1723.3 2049.0,1727.5 2050.0,1730.6 2051.0,1732.7 2052.0,1734.3 2053.0,1735.0 2054.0,1735.7 2055.0,1737.3 2056.0,1738.6 2057.0,1738.5 2058.0,1738.9 2059.0,1739.8 2060.0,1739.8 2061.0,1739.3 2062.0,1740.0 2063.0,1741.9 2064.0,1743.6 2065.0,1744.3 2066.0,1744.1 2067.0,1743.7 2068.0,1743.3 2069.0,1743.3 2070.0,1743.8 2071.0,1744.9 2072.0,1746.0 2073.0,1746.4 2074.0,1746.4 2075.0,1746.6 2076.0,1746.2 2077.0,1745.6 2078.0,1745.1 2079.0,1744.5 2080.0,1744.0 2081.0,1743.1 2082.0,1741.5 2083.0,1740.3 2084.0,1740.0 2085.0,1741.0 2086.0,1743.0 2087.0,1745.7 2088.0,1748.0 2089.0,1749.8 2090.0,1750.9 2091.0,1750.5 2092.0,1748.8 2093.0,1747.3 2094.0,1746.5 2095.0,1745.1 2096.0,1742.6 2097.0,1738.9 2098.0,1733.6 2099.0,1725.6 2100.0,1714.6 2101.0,1700.2 2102.0,1681.6 2103.0,1657.5 2104.0,1625.8 2105.0,1586.0 2106.0,1541.5 2107.0,1502.4 2108.0,1483.9 2109.0,1495.0 2110.0,1528.9 2111.0,1570.0 2112.0,1607.4 2113.0,1637.1 2114.0,1658.2 2115.0,1670.2 2116.0,1674.0 2117.0,1672.5 2118.0,1666.8 2119.0,1658.8 2120.0,1653.6 2121.0,1655.0 2122.0,1663.7 2123.0,1677.7 2124.0,1692.9 2125.0,1705.6 2126.0,1715.3 2127.0,1722.5 2128.0,1727.7 2129.0,1731.1 2130.0,1733.0 2131.0,1734.5 2132.0,1736.5 2133.0,1738.6 2134.0,1740.1 2135.0,1741.0 2136.0,1742.4 2137.0,1745.7 2138.0,1748.7 2139.0,1749.4 2140.0,1749.0 2141.0,1749.3 2142.0,1750.5 2143.0,1752.1 2144.0,1753.8 2145.0,1755.6 2146.0,1757.3 2147.0,1758.0 2148.0,1757.8 2149.0,1758.3 2150.0,1758.7 2151.0,1758.9 2152.0,1759.8 2153.0,1761.0 2154.0,1761.5 2155.0,1761.8 2156.0,1763.1 2157.0,1764.2 2158.0,1763.9 2159.0,1762.9 2160.0,1761.9 2161.0,1761.5 2162.0,1762.3 2163.0,1763.4 2164.0,1764.6 2165.0,1765.3 2166.0,1764.8 2167.0,1764.0 2168.0,1763.0 2169.0,1761.3 2170.0,1760.5 2171.0,1760.8 2172.0,1761.5 2173.0,1762.4 2174.0,1763.3 2175.0,1764.3 2176.0,1764.4 2177.0,1763.4 2178.0,1762.4 2179.0,1762.2 2180.0,1761.6 2181.0,1760.8 2182.0,1760.7 2183.0,1760.8 2184.0,1760.4 2185.0,1759.5 2186.0,1756.9 2187.0,1752.9 2188.0,1748.4 2189.0,1743.6 2190.0,1737.9 2191.0,1731.4 2192.0,1724.6 2193.0,1717.9 2194.0,1711.9 2195.0,1708.1 2196.0,1708.8 2197.0,1714.0 2198.0,1721.2 2199.0,1728.9 2200.0,1736.3 2201.0,1743.2 2202.0,1749.1 2203.0,1753.1 2204.0,1755.5 2205.0,1757.0 2206.0,1758.5 2207.0,1759.6 2208.0,1760.3 2209.0,1761.0 2210.0,1761.7 2211.0,1761.4 2212.0,1760.1 2213.0,1759.5 2214.0,1759.8 2215.0,1759.8 2216.0,1759.0 2217.0,1757.9 2218.0,1756.8 2219.0,1755.9 2220.0,1754.3 2221.0,1751.7 2222.0,1748.9 2223.0,1746.9 2224.0,1745.8 2225.0,1744.9 2226.0,1743.7 2227.0,1742.3 2228.0,1740.8 2229.0,1740.7 2230.0,1742.7 2231.0,1745.5 2232.0,1748.2 2233.0,1750.4 2234.0,1752.3 2235.0,1753.6 2236.0,1753.9 2237.0,1754.3 2238.0,1755.7 2239.0,1756.9 2240.0,1756.9 2241.0,1757.9 2242.0,1759.3 2243.0,1759.1 2244.0,1758.4 2245.0,1758.8 2246.0,1759.8 2247.0,1760.1 2248.0,1760.1 2249.0,1761.1 2250.0,1762.7 2251.0,1764.1 2252.0,1764.6 2253.0,1764.0 2254.0,1764.1 2255.0,1766.0 2256.0,1767.7 2257.0,1768.0 2258.0,1767.6 2259.0,1766.3 2260.0,1763.4 2261.0,1759.8 2262.0,1755.6 2263.0,1750.4 2264.0,1743.7 2265.0,1733.5 2266.0,1718.0 2267.0,1697.0 2268.0,1670.1 2269.0,1637.5 2270.0,1602.1 2271.0,1575.0 2272.0,1571.2 2273.0,1593.2 2274.0,1627.4 2275.0,1660.4 2276.0,1686.9 2277.0,1706.1 2278.0,1718.7 2279.0,1727.7 2280.0,1734.7 2281.0,1739.2 2282.0,1740.9 2283.0,1740.9 2284.0,1741.0 2285.0,1742.3 2286.0,1744.8 2287.0,1747.3 2288.0,1748.2 2289.0,1748.1 2290.0,1748.2 2291.0,1748.2 2292.0,1748.0 2293.0,1747.5 2294.0,1746.6 2295.0,1746.0 2296.0,1747.2 2297.0,1748.8 2298.0,1749.2 2299.0,1749.2 2300.0,1749.6 2301.0,1750.6 2302.0,1751.7 2303.0,1752.0" fill="none" stroke="#f53c42" stroke-width="5.6" stroke-linejoin="round" stroke-linecap="round"/>
<path d="M188.0,1771.3 189.0,1770.1 190.0,1770.2 191.0,1770.6 192.0,1771.6 193.0,1773.3 194.0,1773.6 195.0,1773.2 196.0,1773.7 197.0,1774.0 198.0,1773.5 199.0,1772.8 200.0,1771.7 201.0,1770.9 202.0,1771.0 203.0,1771.9 204.0,1772.5 205.0,1771.9 206.0,1771.4 207.0,1771.9 208.0,1772.8 209.0,1773.4 210.0,1773.3 211.0,1772.4 212.0,1771.7 213.0,1772.0 214.0,1772.4 215.0,1772.8 216.0,1773.8 217.0,1774.4 218.0,1773.9 219.0,1773.8 220.0,1773.7 221.0,1772.6 222.0,1771.7 223.0,1771.8 224.0,1772.8 225.0,1773.3 226.0,1773.4 227.0,1773.7 228.0,1774.2 229.0,1773.5 230.0,1772.3 231.0,1772.3 232.0,1773.0 233.0,1773.1 234.0,1772.4 235.0,1771.6 236.0,1770.9 237.0,1770.6 238.0,1771.2 239.0,1771.8 240.0,1771.9 241.0,1771.3 242.0,1770.9 243.0,1770.7 244.0,1771.2 245.0,1772.0 246.0,1772.2 247.0,1771.8 248.0,1771.3 249.0,1770.7 250.0,1770.3 251.0,1770.6 252.0,1771.5 253.0,1772.3 254.0,1772.5 255.0,1772.6 256.0,1772.9 257.0,1773.0 258.0,1773.1 259.0,1772.8 260.0,1772.3 261.0,1771.9 262.0,1771.8 263.0,1772.1 264.0,1772.7 265.0,1773.3 266.0,1772.8 267.0,1771.4 268.0,1770.6 269.0,1771.1 270.0,1772.0 271.0,1772.3 272.0,1772.0 273.0,1771.8 274.0,1771.9 275.0,1771.9 276.0,1772.6 277.0,1773.9 278.0,1774.2 279.0,1773.2 280.0,1772.0 281.0,1771.4 282.0,1771.6 283.0,1771.8 284.0,1771.5 285.0,1771.2 286.0,1771.2 287.0,1771.7 288.0,1772.5 289.0,1772.7 290.0,1771.5 291.0,1769.7 292.0,1768.8 293.0,1769.0 294.0,1770.0 295.0,1771.3 296.0,1771.6 297.0,1771.2 298.0,1770.6 299.0,1769.7 300.0,1768.9 301.0,1769.0 302.0,1770.2 303.0,1771.2 304.0,1771.7 305.0,1772.5 306.0,1772.7 307.0,1771.8 308.0,1771.0 309.0,1770.7 310.0,1771.2 311.0,1771.8 312.0,1772.2 313.0,1772.8 314.0,1772.9 315.0,1772.4 316.0,1771.8 317.0,1771.3 318.0,1770.8 319.0,1770.5 320.0,1770.8 321.0,1771.1 322.0,1771.4 323.0,1771.7 324.0,1770.7 325.0,1769.8 326.0,1769.4 327.0,1768.6 328.0,1768.2 329.0,1768.3 330.0,1769.1 331.0,1770.4 332.0,1771.7 333.0,1772.6 334.0,1773.0 335.0,1772.8 336.0,1772.2 337.0,1771.6 338.0,1771.4 339.0,1771.1 340.0,1771.4 341.0,1772.4 342.0,1772.7 343.0,1772.4 344.0,1772.2 345.0,1771.5 346.0,1770.3 347.0,1769.8 348.0,1769.9 349.0,1770.4 350.0,1771.3 351.0,1772.1 352.0,1771.8 353.0,1770.8 354.0,1770.2 355.0,1770.2 356.0,1770.9 357.0,1771.4 358.0,1770.7 359.0,1769.8 360.0,1770.4 361.0,1771.6 362.0,1772.2 363.0,1771.9 364.0,1771.2 365.0,1771.0 366.0,1771.1 367.0,1771.6 368.0,1772.1 369.0,1771.9 370.0,1771.3 371.0,1770.6 372.0,1769.8 373.0,1769.9 374.0,1770.7 375.0,1770.5 376.0,1769.8 377.0,1770.2 378.0,1771.9 379.0,1773.4 380.0,1773.4 381.0,1772.1 382.0,1770.8 383.0,1771.0 384.0,1772.0 385.0,1772.4 386.0,1772.5 387.0,1773.0 388.0,1773.9 389.0,1773.7 390.0,1772.5 391.0,1772.2 392.0,1772.9 393.0,1773.2 394.0,1773.7 395.0,1773.5 396.0,1772.4 397.0,1771.8 398.0,1772.0 399.0,1772.6 400.0,1773.5 401.0,1774.0 402.0,1773.6 403.0,1773.0 404.0,1772.7 405.0,1772.3 406.0,1772.5 407.0,1772.8 408.0,1771.9 409.0,1770.9 410.0,1770.4 411.0,1769.6 412.0,1769.7 413.0,1770.6 414.0,1770.7 415.0,1770.3 416.0,1770.0 417.0,1769.8 418.0,1770.4 419.0,1772.2 420.0,1773.8 421.0,1773.4 422.0,1771.9 423.0,1770.4 424.0,1770.0 425.0,1770.4 426.0,1771.1 427.0,1771.2 428.0,1771.0 429.0,1770.5 430.0,1769.8 431.0,1769.6 432.0,1769.7 433.0,1769.2 434.0,1769.1 435.0,1769.6 436.0,1770.3 437.0,1771.3 438.0,1772.0 439.0,1771.8 440.0,1771.5 441.0,1771.3 442.0,1770.8 443.0,1770.1 444.0,1769.9 445.0,1769.7 446.0,1769.7 447.0,1770.5 448.0,1771.4 449.0,1772.0 450.0,1771.5 451.0,1770.7 452.0,1771.9 453.0,1773.8 454.0,1774.4 455.0,1773.8 456.0,1772.2 457.0,1770.8 458.0,1771.1 459.0,1772.4 460.0,1772.9 461.0,1772.3 462.0,1771.9 463.0,1771.6 464.0,1771.4 465.0,1772.8 466.0,1774.9 467.0,1775.7 468.0,1775.2 469.0,1774.4 470.0,1772.9 471.0,1771.4 472.0,1771.4 473.0,1772.9 474.0,1774.6 475.0,1775.5 476.0,1774.9 477.0,1773.6 478.0,1773.1 479.0,1773.7 480.0,1773.3 481.0,1772.1 482.0,1771.7 483.0,1772.6 484.0,1772.9 485.0,1772.1 486.0,1771.7 487.0,1771.9 488.0,1772.0 489.0,1771.8 490.0,1771.2 491.0,1769.7 492.0,1768.0 493.0,1766.4 494.0,1765.4 495.0,1766.2 496.0,1767.4 497.0,1767.1 498.0,1766.0 499.0,1764.9 500.0,1764.1 501.0,1764.4 502.0,1765.2 503.0,1765.1 504.0,1764.7 505.0,1765.2 506.0,1765.1 507.0,1763.8 508.0,1762.0 509.0,1760.2 510.0,1759.7 511.0,1760.7 512.0,1761.4 513.0,1761.2 514.0,1761.0 515.0,1761.7 516.0,1763.0 517.0,1763.4 518.0,1762.4 519.0,1762.0 520.0,1763.2 521.0,1764.2 522.0,1764.6 523.0,1765.2 524.0,1765.7 525.0,1765.0 526.0,1763.6 527.0,1762.5 528.0,1762.5 529.0,1763.4 530.0,1764.3 531.0,1764.9 532.0,1765.5 533.0,1765.8 534.0,1765.3 535.0,1765.1 536.0,1765.3 537.0,1765.6 538.0,1766.6 539.0,1767.4 540.0,1768.0 541.0,1768.4 542.0,1767.9 543.0,1766.7 544.0,1765.3 545.0,1764.7 546.0,1765.1 547.0,1765.9 548.0,1766.3 549.0,1765.8 550.0,1764.5 551.0,1764.1 552.0,1765.2 553.0,1766.6 554.0,1766.6 555.0,1766.1 556.0,1766.3 557.0,1767.0 558.0,1767.0 559.0,1766.4 560.0,1766.3 561.0,1767.4 562.0,1768.4 563.0,1768.7 564.0,1768.6 565.0,1768.0 566.0,1767.7 567.0,1768.0 568.0,1767.9 569.0,1767.5 570.0,1767.2 571.0,1767.5 572.0,1768.3 573.0,1768.8 574.0,1768.9 575.0,1768.4 576.0,1767.4 577.0,1767.6 578.0,1768.2 579.0,1767.4 580.0,1767.1 581.0,1767.9 582.0,1768.0 583.0,1767.3 584.0,1766.9 585.0,1766.3 586.0,1765.9 587.0,1766.2 588.0,1766.3 589.0,1766.1 590.0,1766.2 591.0,1766.6 592.0,1767.3 593.0,1767.9 594.0,1767.9 595.0,1766.9 596.0,1765.8 597.0,1766.1 598.0,1767.7 599.0,1769.2 600.0,1769.1 601.0,1768.4 602.0,1768.0 603.0,1767.8 604.0,1768.1 605.0,1768.4 606.0,1768.7 607.0,1768.6 608.0,1768.1 609.0,1767.5 610.0,1767.3 611.0,1768.5 612.0,1770.9 613.0,1772.2 614.0,1770.7 615.0,1768.5 616.0,1767.4 617.0,1767.1 618.0,1766.4 619.0,1766.3 620.0,1766.9 621.0,1767.7 622.0,1768.9 623.0,1768.8 624.0,1767.5 625.0,1766.1 626.0,1765.5 627.0,1766.0 628.0,1767.4 629.0,1768.4 630.0,1768.4 631.0,1767.8 632.0,1767.3 633.0,1766.8 634.0,1766.7 635.0,1767.8 636.0,1769.2 637.0,1769.2 638.0,1768.2 639.0,1768.3 640.0,1769.2 641.0,1768.8 642.0,1767.3 643.0,1766.9 644.0,1767.8 645.0,1768.2 646.0,1767.8 647.0,1768.0 648.0,1768.8 649.0,1769.6 650.0,1769.0 651.0,1767.9 652.0,1767.8 653.0,1768.3 654.0,1767.9 655.0,1766.9 656.0,1766.2 657.0,1765.5 658.0,1765.0 659.0,1764.8 660.0,1764.8 661.0,1765.3 662.0,1766.3 663.0,1767.4 664.0,1767.8 665.0,1767.0 666.0,1766.4 667.0,1765.9 668.0,1764.9 669.0,1765.1 670.0,1767.0 671.0,1768.3 672.0,1768.1 673.0,1766.9 674.0,1766.0 675.0,1766.2 676.0,1766.6 677.0,1766.1 678.0,1765.3 679.0,1765.0 680.0,1765.8 681.0,1767.0 682.0,1766.9 683.0,1765.8 684.0,1765.4 685.0,1765.9 686.0,1766.3 687.0,1765.8 688.0,1764.9 689.0,1764.3 690.0,1765.1 691.0,1766.6 692.0,1767.0 693.0,1766.2 694.0,1766.2 695.0,1766.7 696.0,1766.7 697.0,1766.7 698.0,1767.3 699.0,1768.0 700.0,1768.3 701.0,1767.8 702.0,1766.8 703.0,1766.2 704.0,1765.6 705.0,1765.1 706.0,1765.4 707.0,1765.9 708.0,1766.2 709.0,1766.8 710.0,1767.0 711.0,1767.0 712.0,1767.3 713.0,1767.6 714.0,1767.4 715.0,1766.6 716.0,1766.2 717.0,1767.0 718.0,1767.9 719.0,1767.3 720.0,1765.8 721.0,1765.0 722.0,1765.1 723.0,1765.9 724.0,1766.9 725.0,1767.0 726.0,1766.2 727.0,1766.1 728.0,1765.9 729.0,1765.3 730.0,1764.9 731.0,1765.1 732.0,1765.6 733.0,1765.6 734.0,1765.4 735.0,1765.8 736.0,1766.4 737.0,1766.9 738.0,1767.1 739.0,1767.1 740.0,1766.9 741.0,1766.4 742.0,1765.4 743.0,1765.0 744.0,1765.7 745.0,1766.5 746.0,1765.9 747.0,1764.4 748.0,1764.1 749.0,1764.4 750.0,1764.3 751.0,1765.2 752.0,1766.6 753.0,1766.4 754.0,1765.7 755.0,1766.0 756.0,1766.4 757.0,1765.9 758.0,1765.0 759.0,1764.0 760.0,1763.2 761.0,1763.3 762.0,1764.1 763.0,1764.7 764.0,1764.3 765.0,1762.3 766.0,1760.7 767.0,1761.0 768.0,1762.1 769.0,1762.3 770.0,1761.8 771.0,1761.7 772.0,1761.8 773.0,1761.4 774.0,1760.8 775.0,1759.8 776.0,1759.0 777.0,1757.8 778.0,1755.6 779.0,1754.0 780.0,1752.7 781.0,1750.6 782.0,1747.7 783.0,1744.3 784.0,1741.0 785.0,1737.5 786.0,1732.2 787.0,1725.9 788.0,1719.6 789.0,1713.9 790.0,1708.1 791.0,1700.9 792.0,1692.2 793.0,1682.8 794.0,1672.9 795.0,1662.2 796.0,1651.8 797.0,1641.3 798.0,1630.7 799.0,1620.1 800.0,1609.8 801.0,1600.9 802.0,1593.4 803.0,1586.1 804.0,1579.1 805.0,1573.4 806.0,1569.7 807.0,1567.8 808.0,1567.3 809.0,1567.3 810.0,1567.2 811.0,1567.9 812.0,1568.8 813.0,1570.7 814.0,1575.2 815.0,1581.4 816.0,1587.1 817.0,1592.5 818.0,1598.4 819.0,1604.0 820.0,1609.4 821.0,1615.3 822.0,1620.4 823.0,1623.9 824.0,1627.4 825.0,1631.5 826.0,1635.4 827.0,1639.4 828.0,1644.0 829.0,1648.9 830.0,1653.9 831.0,1658.2 832.0,1661.4 833.0,1663.6 834.0,1665.9 835.0,1669.6 836.0,1674.0 837.0,1678.7 838.0,1682.9 839.0,1685.3 840.0,1687.6 841.0,1690.2 842.0,1691.5 843.0,1691.0 844.0,1689.5 845.0,1687.2 846.0,1683.2 847.0,1676.6 848.0,1668.2 849.0,1659.1 850.0,1650.1 851.0,1641.9 852.0,1638.4 853.0,1642.9 854.0,1653.7 855.0,1666.9 856.0,1680.2 857.0,1692.0 858.0,1701.3 859.0,1708.7 860.0,1715.1 861.0,1720.1 862.0,1723.6 863.0,1726.9 864.0,1729.8 865.0,1731.0 866.0,1731.8 867.0,1733.9 868.0,1736.1 869.0,1738.1 870.0,1739.8 871.0,1740.6 872.0,1741.1 873.0,1742.0 874.0,1742.5 875.0,1742.8 876.0,1743.2 877.0,1743.4 878.0,1743.5 879.0,1743.6 880.0,1743.9 881.0,1744.0 882.0,1744.9 883.0,1746.4 884.0,1747.1 885.0,1747.2 886.0,1747.6 887.0,1748.1 888.0,1748.6 889.0,1748.9 890.0,1749.4 891.0,1750.1 892.0,1750.5 893.0,1750.3 894.0,1749.8 895.0,1750.5 896.0,1752.0 897.0,1752.6 898.0,1752.6 899.0,1752.8 900.0,1752.7 901.0,1752.3 902.0,1751.9 903.0,1752.6 904.0,1753.8 905.0,1755.1 906.0,1755.5 907.0,1755.6 908.0,1755.4 909.0,1754.0 910.0,1752.5 911.0,1753.2 912.0,1755.1 913.0,1755.6 914.0,1755.0 915.0,1754.7 916.0,1755.5 917.0,1756.9 918.0,1757.8 919.0,1757.8 920.0,1756.4 921.0,1755.5 922.0,1756.2 923.0,1757.0 924.0,1757.8 925.0,1758.5 926.0,1758.7 927.0,1758.6 928.0,1758.0 929.0,1757.6 930.0,1757.9 931.0,1758.6 932.0,1759.5 933.0,1759.8 934.0,1759.5 935.0,1759.4 936.0,1759.4 937.0,1759.3 938.0,1759.4 939.0,1759.3 940.0,1758.9 941.0,1758.6 942.0,1758.8 943.0,1758.9 944.0,1758.5 945.0,1758.4 946.0,1758.9 947.0,1759.4 948.0,1759.8 949.0,1760.6 950.0,1761.1 951.0,1760.2 952.0,1759.3 953.0,1759.9 954.0,1760.8 955.0,1761.2 956.0,1761.6 957.0,1761.7 958.0,1761.1 959.0,1760.4 960.0,1760.0 961.0,1760.3 962.0,1761.0 963.0,1761.5 964.0,1761.5 965.0,1761.2 966.0,1761.1 967.0,1760.5 968.0,1759.6 969.0,1759.5 970.0,1760.0 971.0,1760.6 972.0,1760.9 973.0,1761.0 974.0,1761.3 975.0,1761.8 976.0,1761.5 977.0,1760.8 978.0,1761.0 979.0,1761.9 980.0,1762.8 981.0,1762.6 982.0,1762.2 983.0,1762.3 984.0,1762.7 985.0,1763.5 986.0,1764.4 987.0,1764.6 988.0,1764.6 989.0,1764.3 990.0,1764.2 991.0,1764.9 992.0,1765.1 993.0,1764.5 994.0,1764.0 995.0,1764.2 996.0,1764.5 997.0,1765.0 998.0,1765.8 999.0,1765.5 1000.0,1764.7 1001.0,1764.9 1002.0,1765.7 1003.0,1766.1 1004.0,1766.3 1005.0,1766.3 1006.0,1765.4 1007.0,1763.8 1008.0,1762.9 1009.0,1763.4 1010.0,1764.6 1011.0,1765.6 1012.0,1765.1 1013.0,1764.1 1014.0,1764.2 1015.0,1764.7 1016.0,1764.5 1017.0,1764.2 1018.0,1763.8 1019.0,1763.6 1020.0,1764.5 1021.0,1765.2 1022.0,1764.7 1023.0,1763.7 1024.0,1763.3 1025.0,1763.8 1026.0,1764.5 1027.0,1765.2 1028.0,1766.1 1029.0,1767.0 1030.0,1766.4 1031.0,1765.1 1032.0,1765.1 1033.0,1765.9 1034.0,1766.5 1035.0,1767.0 1036.0,1766.7 1037.0,1765.5 1038.0,1764.7 1039.0,1764.3 1040.0,1763.7 1041.0,1763.7 1042.0,1764.5 1043.0,1765.2 1044.0,1765.0 1045.0,1764.4 1046.0,1764.1 1047.0,1764.2 1048.0,1764.3 1049.0,1763.6 1050.0,1763.8 1051.0,1764.4 1052.0,1764.9 1053.0,1765.7 1054.0,1766.1 1055.0,1765.4 1056.0,1764.8 1057.0,1764.9 1058.0,1765.4 1059.0,1766.1 1060.0,1766.7 1061.0,1767.3 1062.0,1767.6 1063.0,1767.4 1064.0,1766.4 1065.0,1765.4 1066.0,1765.5 1067.0,1765.5 1068.0,1765.6 1069.0,1766.2 1070.0,1766.4 1071.0,1765.9 1072.0,1765.4 1073.0,1765.6 1074.0,1765.8 1075.0,1765.5 1076.0,1764.9 1077.0,1764.7 1078.0,1765.0 1079.0,1764.1 1080.0,1763.1 1081.0,1763.4 1082.0,1764.5 1083.0,1765.2 1084.0,1765.3 1085.0,1765.5 1086.0,1766.4 1087.0,1767.7 1088.0,1768.2 1089.0,1767.5 1090.0,1766.3 1091.0,1765.5 1092.0,1765.4 1093.0,1765.7 1094.0,1765.2 1095.0,1763.8 1096.0,1762.8 1097.0,1762.6 1098.0,1762.7 1099.0,1762.9 1100.0,1763.1 1101.0,1763.5 1102.0,1764.4 1103.0,1764.6 1104.0,1764.0 1105.0,1764.0 1106.0,1764.3 1107.0,1764.5 1108.0,1764.9 1109.0,1765.8 1110.0,1766.3 1111.0,1766.3 1112.0,1766.6 1113.0,1767.4 1114.0,1767.1 1115.0,1765.8 1116.0,1765.2 1117.0,1765.2 1118.0,1764.8 1119.0,1764.6 1120.0,1764.2 1121.0,1763.6 1122.0,1762.9 1123.0,1762.3 1124.0,1762.3 1125.0,1763.6 1126.0,1766.0 1127.0,1767.2 1128.0,1766.8 1129.0,1766.2 1130.0,1766.3 1131.0,1766.5 1132.0,1766.2 1133.0,1765.1 1134.0,1764.1 1135.0,1763.5 1136.0,1762.8 1137.0,1762.1 1138.0,1762.5 1139.0,1763.7 1140.0,1764.2 1141.0,1764.4 1142.0,1765.3 1143.0,1765.4 1144.0,1764.1 1145.0,1763.4 1146.0,1763.7 1147.0,1763.8 1148.0,1763.1 1149.0,1762.3 1150.0,1761.9 1151.0,1761.9 1152.0,1763.0 1153.0,1764.3 1154.0,1764.6 1155.0,1764.6 1156.0,1764.5 1157.0,1764.1 1158.0,1763.2 1159.0,1762.5 1160.0,1762.7 1161.0,1763.9 1162.0,1765.2 1163.0,1765.6 1164.0,1764.5 1165.0,1763.2 1166.0,1763.1 1167.0,1764.2 1168.0,1765.3 1169.0,1765.2 1170.0,1764.6 1171.0,1764.6 1172.0,1765.3 1173.0,1765.6 1174.0,1765.7 1175.0,1766.3 1176.0,1767.1 1177.0,1767.5 1178.0,1768.0 1179.0,1768.0 1180.0,1767.5 1181.0,1766.9 1182.0,1766.2 1183.0,1765.6 1184.0,1765.5 1185.0,1766.0 1186.0,1766.9 1187.0,1767.6 1188.0,1767.7 1189.0,1766.7 1190.0,1765.3 1191.0,1765.3 1192.0,1765.9 1193.0,1766.6 1194.0,1767.4 1195.0,1768.3 1196.0,1768.5 1197.0,1767.9 1198.0,1767.8 1199.0,1767.7 1200.0,1767.7 1201.0,1768.4 1202.0,1768.8 1203.0,1768.9 1204.0,1770.0 1205.0,1770.9 1206.0,1769.5 1207.0,1767.6 1208.0,1767.4 1209.0,1768.1 1210.0,1768.6 1211.0,1768.7 1212.0,1768.8 1213.0,1769.0 1214.0,1768.6 1215.0,1767.9 1216.0,1768.3 1217.0,1769.4 1218.0,1770.5 1219.0,1770.6 1220.0,1770.2 1221.0,1770.4 1222.0,1771.3 1223.0,1771.7 1224.0,1771.2 1225.0,1770.9 1226.0,1770.6 1227.0,1770.2 1228.0,1770.2 1229.0,1770.4 1230.0,1770.7 1231.0,1771.6 1232.0,1772.3 1233.0,1772.2 1234.0,1771.8 1235.0,1772.2 1236.0,1772.3 1237.0,1771.6 1238.0,1771.4 1239.0,1771.9 1240.0,1772.1 1241.0,1772.1 1242.0,1772.3 1243.0,1772.7 1244.0,1772.7 1245.0,1772.0 1246.0,1771.5 1247.0,1771.2 1248.0,1770.9 1249.0,1770.8 1250.0,1771.2 1251.0,1772.8 1252.0,1774.4 1253.0,1774.7 1254.0,1773.7 1255.0,1772.7 1256.0,1772.5 1257.0,1772.3 1258.0,1772.6 1259.0,1773.0 1260.0,1772.7 1261.0,1772.6 1262.0,1772.5 1263.0,1771.9 1264.0,1771.7 1265.0,1772.1 1266.0,1772.8 1267.0,1773.5 1268.0,1773.1 1269.0,1771.8 1270.0,1771.2 1271.0,1771.0 1272.0,1770.8 1273.0,1771.0 1274.0,1771.6 1275.0,1771.5 1276.0,1771.1 1277.0,1771.6 1278.0,1772.0 1279.0,1771.9 1280.0,1772.7 1281.0,1774.2 1282.0,1773.8 1283.0,1772.1 1284.0,1771.5 1285.0,1771.9 1286.0,1772.1 1287.0,1772.3 1288.0,1772.6 1289.0,1771.9 1290.0,1770.2 1291.0,1769.9 1292.0,1771.5 1293.0,1773.1 1294.0,1773.1 1295.0,1772.8 1296.0,1773.6 1297.0,1774.3 1298.0,1774.0 1299.0,1774.1 1300.0,1774.8 1301.0,1775.3 1302.0,1775.1 1303.0,1774.5 1304.0,1773.8 1305.0,1773.1 1306.0,1772.9 1307.0,1773.2 1308.0,1773.5 1309.0,1774.0 1310.0,1774.7 1311.0,1774.8 1312.0,1774.0 1313.0,1773.0 1314.0,1772.8 1315.0,1772.5 1316.0,1772.3 1317.0,1773.0 1318.0,1774.1 1319.0,1774.0 1320.0,1772.7 1321.0,1772.1 1322.0,1772.5 1323.0,1773.3 1324.0,1773.2 1325.0,1771.7 1326.0,1770.9 1327.0,1771.7 1328.0,1772.9 1329.0,1773.8 1330.0,1774.8 1331.0,1774.8 1332.0,1773.3 1333.0,1771.7 1334.0,1771.3 1335.0,1772.4 1336.0,1773.4 1337.0,1773.7 1338.0,1774.0 1339.0,1774.2 1340.0,1774.1 1341.0,1773.0 1342.0,1771.5 1343.0,1770.4 1344.0,1769.8 1345.0,1770.4 1346.0,1772.2 1347.0,1774.0 1348.0,1774.4 1349.0,1773.2 1350.0,1771.9 1351.0,1771.8 1352.0,1772.5 1353.0,1772.6 1354.0,1772.4 1355.0,1772.4 1356.0,1771.9 1357.0,1771.3 1358.0,1771.7 1359.0,1771.9 1360.0,1771.8 1361.0,1772.6 1362.0,1774.1 1363.0,1774.7 1364.0,1773.6 1365.0,1771.8 1366.0,1771.1 1367.0,1771.0 1368.0,1770.3 1369.0,1769.7 1370.0,1770.6 1371.0,1772.5 1372.0,1773.3 1373.0,1772.6 1374.0,1771.7 1375.0,1771.0 1376.0,1770.9 1377.0,1771.2 1378.0,1771.4 1379.0,1771.4 1380.0,1770.9 1381.0,1770.9 1382.0,1771.5 1383.0,1771.5 1384.0,1770.8 1385.0,1769.6 1386.0,1768.8 1387.0,1769.2 1388.0,1769.8 1389.0,1769.6 1390.0,1768.7 1391.0,1768.5 1392.0,1769.7 1393.0,1770.5 1394.0,1770.1 1395.0,1769.6 1396.0,1769.4 1397.0,1768.9 1398.0,1768.6 1399.0,1768.9 1400.0,1769.6 1401.0,1770.2 1402.0,1770.4 1403.0,1770.5 1404.0,1769.9 1405.0,1768.6 1406.0,1768.2 1407.0,1768.8 1408.0,1769.3 1409.0,1769.3 1410.0,1769.4 1411.0,1770.4 1412.0,1770.9 1413.0,1770.1 1414.0,1769.4 1415.0,1769.7 1416.0,1770.3 1417.0,1770.9 1418.0,1771.3 1419.0,1771.4 1420.0,1771.2 1421.0,1770.5 1422.0,1769.2 1423.0,1769.0 1424.0,1769.7 1425.0,1769.9 1426.0,1770.1 1427.0,1770.0 1428.0,1769.9 1429.0,1769.9 1430.0,1770.2 1431.0,1770.7 1432.0,1771.1 1433.0,1771.8 1434.0,1772.5 1435.0,1771.8 1436.0,1771.2 1437.0,1772.0 1438.0,1773.0 1439.0,1773.5 1440.0,1773.0 1441.0,1772.2 1442.0,1772.3 1443.0,1772.4 1444.0,1771.5 1445.0,1769.7 1446.0,1768.6 1447.0,1769.6 1448.0,1770.6 1449.0,1770.1 1450.0,1770.1 1451.0,1771.2 1452.0,1772.0 1453.0,1771.6 1454.0,1770.5 1455.0,1770.4 1456.0,1770.5 1457.0,1770.3 1458.0,1771.2 1459.0,1772.6 1460.0,1772.4 1461.0,1770.3 1462.0,1768.5 1463.0,1768.8 1464.0,1769.6 1465.0,1770.1 1466.0,1771.1 1467.0,1771.6 1468.0,1770.2 1469.0,1768.7 1470.0,1768.2 1471.0,1768.0 1472.0,1767.8 1473.0,1767.7 1474.0,1767.4 1475.0,1766.0 1476.0,1764.4 1477.0,1763.7 1478.0,1763.3 1479.0,1762.7 1480.0,1762.1 1481.0,1760.7 1482.0,1759.1 1483.0,1758.8 1484.0,1758.8 1485.0,1757.5 1486.0,1755.0 1487.0,1752.5 1488.0,1749.8 1489.0,1747.8 1490.0,1746.9 1491.0,1745.8 1492.0,1744.0 1493.0,1741.6 1494.0,1739.1 1495.0,1736.6 1496.0,1734.4 1497.0,1731.9 1498.0,1728.4 1499.0,1724.0 1500.0,1719.3 1501.0,1715.9 1502.0,1713.1 1503.0,1708.6 1504.0,1701.6 1505.0,1693.4 1506.0,1685.2 1507.0,1676.8 1508.0,1666.4 1509.0,1653.5 1510.0,1638.8 1511.0,1620.5 1512.0,1596.7 1513.0,1566.6 1514.0,1529.0 1515.0,1482.2 1516.0,1423.6 1517.0,1350.2 1518.0,1261.3 1519.0,1157.7 1520.0,1040.3 1521.0,916.3 1522.0,800.8 1523.0,714.7 1524.0,680.4 1525.0,706.7 1526.0,784.3 1527.0,892.8 1528.0,1009.7 1529.0,1120.0 1530.0,1217.4 1531.0,1299.5 1532.0,1366.2 1533.0,1419.6 1534.0,1462.0 1535.0,1495.7 1536.0,1522.1 1537.0,1542.1 1538.0,1558.7 1539.0,1573.7 1540.0,1587.2 1541.0,1599.4 1542.0,1609.9 1543.0,1619.0 1544.0,1628.1 1545.0,1637.4 1546.0,1646.3 1547.0,1653.7 1548.0,1659.9 1549.0,1666.8 1550.0,1674.7 1551.0,1681.1 1552.0,1685.6 1553.0,1689.3 1554.0,1692.5 1555.0,1695.7 1556.0,1699.1 1557.0,1701.9 1558.0,1703.9 1559.0,1705.9 1560.0,1708.5 1561.0,1710.7 1562.0,1711.9 1563.0,1712.4 1564.0,1712.9 1565.0,1714.3 1566.0,1715.3 1567.0,1715.5 1568.0,1716.3 1569.0,1717.7 1570.0,1718.9 1571.0,1719.8 1572.0,1720.5 1573.0,1720.7 1574.0,1720.3 1575.0,1720.1 1576.0,1721.0 1577.0,1722.4 1578.0,1723.6 1579.0,1724.5 1580.0,1725.9 1581.0,1728.1 1582.0,1730.0 1583.0,1731.3 1584.0,1732.2 1585.0,1733.1 1586.0,1734.1 1587.0,1734.9 1588.0,1735.4 1589.0,1736.2 1590.0,1737.8 1591.0,1739.2 1592.0,1739.2 1593.0,1738.9 1594.0,1739.5 1595.0,1740.4 1596.0,1740.8 1597.0,1740.5 1598.0,1740.9 1599.0,1742.1 1600.0,1743.3 1601.0,1744.9 1602.0,1746.6 1603.0,1748.1 1604.0,1748.6 1605.0,1747.7 1606.0,1746.4 1607.0,1745.8 1608.0,1746.1 1609.0,1746.4 1610.0,1746.6 1611.0,1747.8 1612.0,1749.1 1613.0,1749.7 1614.0,1749.6 1615.0,1749.3 1616.0,1748.8 1617.0,1748.3 1618.0,1748.5 1619.0,1750.0 1620.0,1751.2 1621.0,1751.1 1622.0,1750.3 1623.0,1750.0 1624.0,1750.2 1625.0,1750.1 1626.0,1749.9 1627.0,1749.4 1628.0,1749.1 1629.0,1749.4 1630.0,1749.4 1631.0,1749.2 1632.0,1748.9 1633.0,1748.3 1634.0,1748.0 1635.0,1747.8 1636.0,1747.4 1637.0,1746.8 1638.0,1745.9 1639.0,1745.5 1640.0,1746.0 1641.0,1747.2 1642.0,1748.4 1643.0,1748.7 1644.0,1748.1 1645.0,1747.5 1646.0,1747.1 1647.0,1747.4 1648.0,1747.5 1649.0,1747.3 1650.0,1748.1 1651.0,1749.8 1652.0,1750.8 1653.0,1750.7 1654.0,1750.6 1655.0,1750.2 1656.0,1748.2 1657.0,1746.0 1658.0,1744.5 1659.0,1742.1 1660.0,1738.9 1661.0,1735.6 1662.0,1731.5 1663.0,1726.1 1664.0,1719.1 1665.0,1711.0 1666.0,1701.7 1667.0,1690.0 1668.0,1676.3 1669.0,1662.3 1670.0,1648.5 1671.0,1635.0 1672.0,1624.1 1673.0,1617.6 1674.0,1615.5 1675.0,1618.0 1676.0,1624.1 1677.0,1630.4 1678.0,1634.6 1679.0,1636.6 1680.0,1637.9 1681.0,1642.0 1682.0,1650.1 1683.0,1660.9 1684.0,1672.1 1685.0,1681.2 1686.0,1687.3 1687.0,1690.7 1688.0,1691.5 1689.0,1691.2 1690.0,1691.1 1691.0,1690.8 1692.0,1690.3 1693.0,1690.1 1694.0,1689.7 1695.0,1687.5 1696.0,1683.7 1697.0,1678.2 1698.0,1669.4 1699.0,1656.6 1700.0,1640.8 1701.0,1623.4 1702.0,1606.6 1703.0,1594.5 1704.0,1591.2 1705.0,1598.0 1706.0,1612.2 1707.0,1629.6 1708.0,1646.0 1709.0,1657.9 1710.0,1663.8 1711.0,1663.3 1712.0,1656.0 1713.0,1642.7 1714.0,1625.8 1715.0,1608.7 1716.0,1595.8 1717.0,1592.1 1718.0,1598.9 1719.0,1612.7 1720.0,1628.7 1721.0,1643.3 1722.0,1653.8 1723.0,1658.7 1724.0,1657.7 1725.0,1650.6 1726.0,1638.5 1727.0,1622.7 1728.0,1602.0 1729.0,1575.7 1730.0,1546.0 1731.0,1513.9 1732.0,1481.4 1733.0,1452.8 1734.0,1431.7 1735.0,1421.8 1736.0,1425.3 1737.0,1440.7 1738.0,1465.6 1739.0,1496.5 1740.0,1528.5 1741.0,1559.5 1742.0,1589.0 1743.0,1614.9 1744.0,1635.1 1745.0,1650.6 1746.0,1662.9 1747.0,1672.3 1748.0,1678.8 1749.0,1682.8 1750.0,1685.1 1751.0,1686.8 1752.0,1688.7 1753.0,1690.6 1754.0,1691.3 1755.0,1690.1 1756.0,1687.2 1757.0,1683.0 1758.0,1678.0 1759.0,1673.6 1760.0,1670.1 1761.0,1667.8 1762.0,1667.2 1763.0,1666.4 1764.0,1663.3 1765.0,1657.5 1766.0,1648.9 1767.0,1638.1 1768.0,1625.5 1769.0,1610.2 1770.0,1591.1 1771.0,1566.3 1772.0,1535.8 1773.0,1502.3 1774.0,1468.1 1775.0,1436.2 1776.0,1412.1 1777.0,1401.9 1778.0,1407.3 1779.0,1425.6 1780.0,1452.2 1781.0,1482.3 1782.0,1512.3 1783.0,1539.4 1784.0,1561.9 1785.0,1579.8 1786.0,1593.5 1787.0,1603.1 1788.0,1609.7 1789.0,1614.7 1790.0,1618.3 1791.0,1619.2 1792.0,1618.1 1793.0,1615.3 1794.0,1610.1 1795.0,1603.2 1796.0,1594.8 1797.0,1583.8 1798.0,1568.7 1799.0,1548.7 1800.0,1523.2 1801.0,1491.1 1802.0,1450.1 1803.0,1399.3 1804.0,1340.1 1805.0,1273.5 1806.0,1203.3 1807.0,1139.6 1808.0,1096.3 1809.0,1084.8 1810.0,1108.9 1811.0,1160.4 1812.0,1225.9 1813.0,1293.4 1814.0,1355.3 1815.0,1408.9 1816.0,1453.1 1817.0,1487.6 1818.0,1513.5 1819.0,1532.4 1820.0,1544.8 1821.0,1550.4 1822.0,1551.0 1823.0,1549.0 1824.0,1544.2 1825.0,1536.3 1826.0,1524.9 1827.0,1510.6 1828.0,1493.1 1829.0,1470.7 1830.0,1444.1 1831.0,1414.4 1832.0,1381.8 1833.0,1345.8 1834.0,1305.5 1835.0,1260.6 1836.0,1213.3 1837.0,1166.1 1838.0,1118.3 1839.0,1067.8 1840.0,1015.4 1841.0,964.1 1842.0,915.5 1843.0,869.3 1844.0,826.6 1845.0,790.0 1846.0,759.3 1847.0,733.6 1848.0,713.3 1849.0,700.3 1850.0,695.1 1851.0,696.6 1852.0,705.6 1853.0,723.2 1854.0,748.7 1855.0,780.0 1856.0,816.3 1857.0,857.1 1858.0,902.0 1859.0,950.1 1860.0,1001.0 1861.0,1054.4 1862.0,1107.7 1863.0,1159.7 1864.0,1210.9 1865.0,1261.2 1866.0,1308.9 1867.0,1352.6 1868.0,1392.6 1869.0,1429.1 1870.0,1462.5 1871.0,1493.4 1872.0,1520.7 1873.0,1544.0 1874.0,1563.4 1875.0,1578.6 1876.0,1589.0 1877.0,1594.4 1878.0,1594.6 1879.0,1589.2 1880.0,1578.4 1881.0,1562.4 1882.0,1542.1 1883.0,1518.7 1884.0,1493.1 1885.0,1467.6 1886.0,1445.1 1887.0,1428.7 1888.0,1421.4 1889.0,1425.5 1890.0,1440.3 1891.0,1461.6 1892.0,1486.0 1893.0,1511.3 1894.0,1535.3 1895.0,1555.8 1896.0,1572.1 1897.0,1585.0 1898.0,1595.9 1899.0,1605.0 1900.0,1610.9 1901.0,1613.5 1902.0,1614.3 1903.0,1614.0 1904.0,1612.5 1905.0,1610.1 1906.0,1606.9 1907.0,1602.6 1908.0,1596.3 1909.0,1585.2 1910.0,1568.7 1911.0,1551.2 1912.0,1540.3 1913.0,1539.1 1914.0,1540.6 1915.0,1537.5 1916.0,1525.8 1917.0,1502.9 1918.0,1470.2 1919.0,1429.2 1920.0,1381.7 1921.0,1334.0 1922.0,1299.0 1923.0,1290.6 1924.0,1312.9 1925.0,1356.8 1926.0,1408.7 1927.0,1458.4 1928.0,1500.6 1929.0,1533.5 1930.0,1557.4 1931.0,1574.8 1932.0,1589.5 1933.0,1601.7 1934.0,1610.6 1935.0,1617.4 1936.0,1623.5 1937.0,1627.7 1938.0,1630.6 1939.0,1633.2 1940.0,1635.6 1941.0,1637.8 1942.0,1639.7 1943.0,1640.8 1944.0,1641.6 1945.0,1643.1 1946.0,1644.7 1947.0,1646.3 1948.0,1647.8 1949.0,1649.1 1950.0,1650.4 1951.0,1650.6 1952.0,1650.1 1953.0,1650.5 1954.0,1651.0 1955.0,1650.4 1956.0,1649.9 1957.0,1650.7 1958.0,1650.8 1959.0,1649.5 1960.0,1648.3 1961.0,1646.8 1962.0,1644.2 1963.0,1640.8 1964.0,1636.4 1965.0,1629.9 1966.0,1619.0 1967.0,1603.0 1968.0,1581.0 1969.0,1551.2 1970.0,1514.5 1971.0,1475.1 1972.0,1443.4 1973.0,1435.0 1974.0,1455.4 1975.0,1493.4 1976.0,1534.3 1977.0,1569.8 1978.0,1596.9 1979.0,1615.9 1980.0,1629.1 1981.0,1637.2 1982.0,1641.0 1983.0,1641.5 1984.0,1638.9 1985.0,1632.9 1986.0,1624.6 1987.0,1614.6 1988.0,1604.4 1989.0,1598.6 1990.0,1601.0 1991.0,1612.0 1992.0,1627.6 1993.0,1643.0 1994.0,1656.2 1995.0,1667.0 1996.0,1676.3 1997.0,1684.0 1998.0,1689.8 1999.0,1693.6 2000.0,1695.8 2001.0,1697.2 2002.0,1699.3 2003.0,1702.5 2004.0,1705.2 2005.0,1707.3 2006.0,1709.6 2007.0,1711.6 2008.0,1712.8 2009.0,1713.6 2010.0,1713.4 2011.0,1712.9 2012.0,1713.5 2013.0,1714.7 2014.0,1715.5 2015.0,1715.5 2016.0,1715.5 2017.0,1716.1 2018.0,1717.2 2019.0,1718.6 2020.0,1719.7 2021.0,1720.1 2022.0,1720.0 2023.0,1720.0 2024.0,1720.3 2025.0,1720.7 2026.0,1720.4 2027.0,1719.5 2028.0,1720.1 2029.0,1721.6 2030.0,1722.3 2031.0,1722.3 2032.0,1722.9 2033.0,1723.3 2034.0,1722.4 2035.0,1721.6 2036.0,1721.6 2037.0,1721.9 2038.0,1721.7 2039.0,1720.7 2040.0,1718.5 2041.0,1714.3 2042.0,1709.4 2043.0,1706.2 2044.0,1706.6 2045.0,1710.8 2046.0,1716.2 2047.0,1720.9 2048.0,1724.5 2049.0,1727.7 2050.0,1730.9 2051.0,1733.1 2052.0,1733.9 2053.0,1734.9 2054.0,1735.0 2055.0,1733.8 2056.0,1733.8 2057.0,1735.4 2058.0,1737.3 2059.0,1738.1 2060.0,1738.9 2061.0,1739.9 2062.0,1740.4 2063.0,1740.8 2064.0,1741.4 2065.0,1742.2 2066.0,1742.8 2067.0,1743.4 2068.0,1743.3 2069.0,1743.3 2070.0,1744.0 2071.0,1744.0 2072.0,1743.5 2073.0,1743.8 2074.0,1744.3 2075.0,1745.2 2076.0,1746.2 2077.0,1746.5 2078.0,1746.6 2079.0,1746.7 2080.0,1745.9 2081.0,1743.2 2082.0,1739.9 2083.0,1738.2 2084.0,1738.9 2085.0,1741.5 2086.0,1744.9 2087.0,1747.9 2088.0,1749.8 2089.0,1751.1 2090.0,1751.8 2091.0,1752.1 2092.0,1752.0 2093.0,1751.2 2094.0,1748.9 2095.0,1745.0 2096.0,1741.0 2097.0,1737.6 2098.0,1733.0 2099.0,1726.7 2100.0,1719.4 2101.0,1709.2 2102.0,1694.2 2103.0,1674.4 2104.0,1649.1 2105.0,1616.7 2106.0,1579.9 2107.0,1547.7 2108.0,1532.0 2109.0,1540.6 2110.0,1568.3 2111.0,1601.3 2112.0,1631.2 2113.0,1655.1 2114.0,1671.7 2115.0,1681.3 2116.0,1685.2 2117.0,1684.2 2118.0,1679.0 2119.0,1672.8 2120.0,1668.9 2121.0,1669.9 2122.0,1676.9 2123.0,1687.3 2124.0,1698.5 2125.0,1708.8 2126.0,1717.0 2127.0,1722.8 2128.0,1726.7 2129.0,1729.8 2130.0,1732.1 2131.0,1733.1 2132.0,1733.5 2133.0,1734.4 2134.0,1736.0 2135.0,1737.9 2136.0,1739.4 2137.0,1740.4 2138.0,1740.9 2139.0,1741.1 2140.0,1740.7 2141.0,1741.0 2142.0,1742.4 2143.0,1743.6 2144.0,1744.7 2145.0,1746.2 2146.0,1747.7 2147.0,1748.6 2148.0,1749.3 2149.0,1749.4 2150.0,1749.3 2151.0,1750.0 2152.0,1751.7 2153.0,1753.3 2154.0,1754.5 2155.0,1754.9 2156.0,1754.4 2157.0,1753.7 2158.0,1753.3 2159.0,1753.2 2160.0,1753.1 2161.0,1753.6 2162.0,1754.0 2163.0,1753.6 2164.0,1753.8 2165.0,1754.4 2166.0,1754.2 2167.0,1753.6 2168.0,1753.5 2169.0,1753.4 2170.0,1753.5 2171.0,1753.8 2172.0,1754.2 2173.0,1754.6 2174.0,1754.9 2175.0,1754.9 2176.0,1755.2 2177.0,1755.6 2178.0,1756.1 2179.0,1756.3 2180.0,1755.9 2181.0,1755.1 2182.0,1754.7 2183.0,1755.0 2184.0,1755.7 2185.0,1755.8 2186.0,1754.5 2187.0,1751.5 2188.0,1747.4 2189.0,1742.3 2190.0,1737.0 2191.0,1732.1 2192.0,1726.6 2193.0,1720.8 2194.0,1716.8 2195.0,1715.6 2196.0,1716.8 2197.0,1721.4 2198.0,1728.6 2199.0,1735.2 2200.0,1741.1 2201.0,1746.7 2202.0,1751.7 2203.0,1755.3 2204.0,1757.2 2205.0,1758.8 2206.0,1761.0 2207.0,1762.8 2208.0,1763.7 2209.0,1763.3 2210.0,1763.6 2211.0,1764.7 2212.0,1765.8 2213.0,1766.2 2214.0,1766.4 2215.0,1765.9 2216.0,1764.5 2217.0,1763.3 2218.0,1762.3 2219.0,1760.7 2220.0,1758.9 2221.0,1757.1 2222.0,1755.2 2223.0,1753.4 2224.0,1752.0 2225.0,1751.1 2226.0,1751.0 2227.0,1752.0 2228.0,1754.1 2229.0,1755.8 2230.0,1756.0 2231.0,1756.0 2232.0,1757.1 2233.0,1759.0 2234.0,1760.5 2235.0,1761.2 2236.0,1762.0 2237.0,1762.8 2238.0,1763.0 2239.0,1762.7 2240.0,1762.6 2241.0,1763.4 2242.0,1764.4 2243.0,1764.7 2244.0,1765.0 2245.0,1765.7 2246.0,1766.1 2247.0,1766.0 2248.0,1766.0 2249.0,1767.5 2250.0,1768.7 2251.0,1769.2 2252.0,1770.5 2253.0,1772.4 2254.0,1773.5 2255.0,1774.7 2256.0,1776.2 2257.0,1776.9 2258.0,1776.9 2259.0,1776.2 2260.0,1775.3 2261.0,1773.3 2262.0,1768.9 2263.0,1763.3 2264.0,1757.2 2265.0,1748.4 2266.0,1735.3 2267.0,1716.9 2268.0,1692.0 2269.0,1661.3 2270.0,1628.1 2271.0,1602.9 2272.0,1598.9 2273.0,1618.8 2274.0,1651.3 2275.0,1683.6 2276.0,1709.5 2277.0,1728.2 2278.0,1740.9 2279.0,1750.1 2280.0,1756.2 2281.0,1759.6 2282.0,1761.8 2283.0,1764.4 2284.0,1767.2 2285.0,1768.7 2286.0,1768.9 2287.0,1769.7 2288.0,1770.9 2289.0,1771.3 2290.0,1771.6 2291.0,1771.7 2292.0,1772.0 2293.0,1773.5 2294.0,1775.7 2295.0,1777.9 2296.0,1779.3 2297.0,1779.7 2298.0,1780.4 2299.0,1781.1 2300.0,1781.3 2301.0,1782.4 2302.0,1784.0 2303.0,1784.6" fill="none" stroke="#1a6ae0" stroke-width="5.6" stroke-linejoin="round" stroke-linecap="round"/>
<path d="M188.0,1773.7 189.0,1773.4 190.0,1773.4 191.0,1773.8 192.0,1774.6 193.0,1774.7 194.0,1773.4 195.0,1772.3 196.0,1772.0 197.0,1772.1 198.0,1773.3 199.0,1775.3 200.0,1776.1 201.0,1774.8 202.0,1773.3 203.0,1772.3 204.0,1771.7 205.0,1772.6 206.0,1774.1 207.0,1773.6 208.0,1772.0 209.0,1771.7 210.0,1772.7 211.0,1773.1 212.0,1772.9 213.0,1772.6 214.0,1771.9 215.0,1771.6 216.0,1772.1 217.0,1771.9 218.0,1771.2 219.0,1771.3 220.0,1771.9 221.0,1772.5 222.0,1773.0 223.0,1773.4 224.0,1773.3 225.0,1772.4 226.0,1771.0 227.0,1770.3 228.0,1771.5 229.0,1773.9 230.0,1774.6 231.0,1772.9 232.0,1771.8 233.0,1772.4 234.0,1772.6 235.0,1772.1 236.0,1771.4 237.0,1771.1 238.0,1772.1 239.0,1773.7 240.0,1774.1 241.0,1773.2 242.0,1772.8 243.0,1773.3 244.0,1773.6 245.0,1773.0 246.0,1772.4 247.0,1772.6 248.0,1772.5 249.0,1771.5 250.0,1771.2 251.0,1772.1 252.0,1773.0 253.0,1773.1 254.0,1772.3 255.0,1771.3 256.0,1770.6 257.0,1770.1 258.0,1770.1 259.0,1770.6 260.0,1771.4 261.0,1771.7 262.0,1771.2 263.0,1771.1 264.0,1771.8 265.0,1772.6 266.0,1772.4 267.0,1772.0 268.0,1772.0 269.0,1771.8 270.0,1772.1 271.0,1773.0 272.0,1773.7 273.0,1774.0 274.0,1773.6 275.0,1772.5 276.0,1771.2 277.0,1770.7 278.0,1771.0 279.0,1771.4 280.0,1771.3 281.0,1770.6 282.0,1769.8 283.0,1770.0 284.0,1771.1 285.0,1771.7 286.0,1771.4 287.0,1771.4 288.0,1771.1 289.0,1770.0 290.0,1769.3 291.0,1769.6 292.0,1770.4 293.0,1770.2 294.0,1769.0 295.0,1768.4 296.0,1769.2 297.0,1770.0 298.0,1769.8 299.0,1769.5 300.0,1769.2 301.0,1768.9 302.0,1769.2 303.0,1769.2 304.0,1768.6 305.0,1768.4 306.0,1768.8 307.0,1769.0 308.0,1769.1 309.0,1769.1 310.0,1768.7 311.0,1768.1 312.0,1768.4 313.0,1769.6 314.0,1770.5 315.0,1770.3 316.0,1769.7 317.0,1769.8 318.0,1769.8 319.0,1769.5 320.0,1769.7 321.0,1770.2 322.0,1769.9 323.0,1768.9 324.0,1768.4 325.0,1768.4 326.0,1768.7 327.0,1769.2 328.0,1768.7 329.0,1767.6 330.0,1767.2 331.0,1767.2 332.0,1767.2 333.0,1767.8 334.0,1768.2 335.0,1768.5 336.0,1769.1 337.0,1769.4 338.0,1768.8 339.0,1768.5 340.0,1768.5 341.0,1767.6 342.0,1766.6 343.0,1766.7 344.0,1767.8 345.0,1768.4 346.0,1768.2 347.0,1767.7 348.0,1766.9 349.0,1766.3 350.0,1766.6 351.0,1767.4 352.0,1768.3 353.0,1768.2 354.0,1767.1 355.0,1766.3 356.0,1766.6 357.0,1767.1 358.0,1767.3 359.0,1768.0 360.0,1768.5 361.0,1767.9 362.0,1766.5 363.0,1765.2 364.0,1764.7 365.0,1765.1 366.0,1765.9 367.0,1766.4 368.0,1766.8 369.0,1767.3 370.0,1767.1 371.0,1766.2 372.0,1765.3 373.0,1765.4 374.0,1766.7 375.0,1767.7 376.0,1767.3 377.0,1766.7 378.0,1766.8 379.0,1767.1 380.0,1766.8 381.0,1765.6 382.0,1764.8 383.0,1765.6 384.0,1766.8 385.0,1766.9 386.0,1766.4 387.0,1765.3 388.0,1764.9 389.0,1765.6 390.0,1766.1 391.0,1765.8 392.0,1765.7 393.0,1765.8 394.0,1765.8 395.0,1765.6 396.0,1764.7 397.0,1763.8 398.0,1764.1 399.0,1764.6 400.0,1765.0 401.0,1765.5 402.0,1766.0 403.0,1766.7 404.0,1766.8 405.0,1765.7 406.0,1764.5 407.0,1764.8 408.0,1765.6 409.0,1765.4 410.0,1765.1 411.0,1765.5 412.0,1766.1 413.0,1766.3 414.0,1765.9 415.0,1765.1 416.0,1764.8 417.0,1764.7 418.0,1764.1 419.0,1763.4 420.0,1763.6 421.0,1764.9 422.0,1766.9 423.0,1768.2 424.0,1768.2 425.0,1767.1 426.0,1766.1 427.0,1765.9 428.0,1765.7 429.0,1765.2 430.0,1764.6 431.0,1764.8 432.0,1766.1 433.0,1767.1 434.0,1767.8 435.0,1768.5 436.0,1767.9 437.0,1765.7 438.0,1764.2 439.0,1763.9 440.0,1764.0 441.0,1764.3 442.0,1765.1 443.0,1766.0 444.0,1766.1 445.0,1765.5 446.0,1764.9 447.0,1764.8 448.0,1764.9 449.0,1764.9 450.0,1764.6 451.0,1764.1 452.0,1764.0 453.0,1765.0 454.0,1765.5 455.0,1764.5 456.0,1763.6 457.0,1763.4 458.0,1762.2 459.0,1761.1 460.0,1762.0 461.0,1763.7 462.0,1764.6 463.0,1764.9 464.0,1764.2 465.0,1762.5 466.0,1761.0 467.0,1761.2 468.0,1762.3 469.0,1762.6 470.0,1761.9 471.0,1761.6 472.0,1761.1 473.0,1760.0 474.0,1759.7 475.0,1760.8 476.0,1761.4 477.0,1760.6 478.0,1759.8 479.0,1760.1 480.0,1760.7 481.0,1761.4 482.0,1761.7 483.0,1761.7 484.0,1761.5 485.0,1761.3 486.0,1761.7 487.0,1762.0 488.0,1761.7 489.0,1761.1 490.0,1760.3 491.0,1759.8 492.0,1759.1 493.0,1758.1 494.0,1757.6 495.0,1757.3 496.0,1757.4 497.0,1757.9 498.0,1758.1 499.0,1757.4 500.0,1756.3 501.0,1755.8 502.0,1756.5 503.0,1757.5 504.0,1757.4 505.0,1756.3 506.0,1754.9 507.0,1753.9 508.0,1753.4 509.0,1752.9 510.0,1753.1 511.0,1754.0 512.0,1754.6 513.0,1754.7 514.0,1754.1 515.0,1753.7 516.0,1753.7 517.0,1753.8 518.0,1754.1 519.0,1754.5 520.0,1755.0 521.0,1755.6 522.0,1756.7 523.0,1757.2 524.0,1757.0 525.0,1757.0 526.0,1757.3 527.0,1757.6 528.0,1757.3 529.0,1755.7 530.0,1754.7 531.0,1755.1 532.0,1756.6 533.0,1759.2 534.0,1761.3 535.0,1761.6 536.0,1761.2 537.0,1760.5 538.0,1759.8 539.0,1760.1 540.0,1760.6 541.0,1760.2 542.0,1759.6 543.0,1758.7 544.0,1757.7 545.0,1757.9 546.0,1758.8 547.0,1759.0 548.0,1758.5 549.0,1758.4 550.0,1758.8 551.0,1759.3 552.0,1759.7 553.0,1759.5 554.0,1758.6 555.0,1757.6 556.0,1757.6 557.0,1757.9 558.0,1758.0 559.0,1758.2 560.0,1758.3 561.0,1758.5 562.0,1758.8 563.0,1758.4 564.0,1758.1 565.0,1758.7 566.0,1760.1 567.0,1760.4 568.0,1759.1 569.0,1758.7 570.0,1759.4 571.0,1759.5 572.0,1758.5 573.0,1758.0 574.0,1758.6 575.0,1758.7 576.0,1758.1 577.0,1757.6 578.0,1757.8 579.0,1759.0 580.0,1760.2 581.0,1760.4 582.0,1760.0 583.0,1759.7 584.0,1759.7 585.0,1759.8 586.0,1760.1 587.0,1760.0 588.0,1759.6 589.0,1759.5 590.0,1759.8 591.0,1759.8 592.0,1760.1 593.0,1760.7 594.0,1760.7 595.0,1760.8 596.0,1760.8 597.0,1760.2 598.0,1759.9 599.0,1760.3 600.0,1759.9 601.0,1759.5 602.0,1760.7 603.0,1761.8 604.0,1760.9 605.0,1759.5 606.0,1759.6 607.0,1759.9 608.0,1759.4 609.0,1759.5 610.0,1760.7 611.0,1761.7 612.0,1761.6 613.0,1760.9 614.0,1760.0 615.0,1759.9 616.0,1760.5 617.0,1760.2 618.0,1759.6 619.0,1760.1 620.0,1760.5 621.0,1760.2 622.0,1760.2 623.0,1760.1 624.0,1759.5 625.0,1759.1 626.0,1758.9 627.0,1758.8 628.0,1758.6 629.0,1758.6 630.0,1758.8 631.0,1759.3 632.0,1759.6 633.0,1760.2 634.0,1761.7 635.0,1762.7 636.0,1762.0 637.0,1761.0 638.0,1761.0 639.0,1760.9 640.0,1760.3 641.0,1760.1 642.0,1760.9 643.0,1761.6 644.0,1761.2 645.0,1760.2 646.0,1759.6 647.0,1760.2 648.0,1761.4 649.0,1761.6 650.0,1760.6 651.0,1759.9 652.0,1759.7 653.0,1759.9 654.0,1760.4 655.0,1760.1 656.0,1759.3 657.0,1759.7 658.0,1761.0 659.0,1761.5 660.0,1761.0 661.0,1760.4 662.0,1760.2 663.0,1760.2 664.0,1759.8 665.0,1759.6 666.0,1760.3 667.0,1760.8 668.0,1760.9 669.0,1761.3 670.0,1761.2 671.0,1760.5 672.0,1760.4 673.0,1760.9 674.0,1761.3 675.0,1760.7 676.0,1759.5 677.0,1759.6 678.0,1760.8 679.0,1761.5 680.0,1761.7 681.0,1762.0 682.0,1761.8 683.0,1761.2 684.0,1761.0 685.0,1761.1 686.0,1761.6 687.0,1761.5 688.0,1760.7 689.0,1760.4 690.0,1760.5 691.0,1760.3 692.0,1760.0 693.0,1759.6 694.0,1760.0 695.0,1761.1 696.0,1761.3 697.0,1760.6 698.0,1761.0 699.0,1762.6 700.0,1762.9 701.0,1761.5 702.0,1760.2 703.0,1759.9 704.0,1760.3 705.0,1761.0 706.0,1761.8 707.0,1761.7 708.0,1760.7 709.0,1759.6 710.0,1759.2 711.0,1759.6 712.0,1760.2 713.0,1760.5 714.0,1760.6 715.0,1761.2 716.0,1761.8 717.0,1761.8 718.0,1760.9 719.0,1760.2 720.0,1760.8 721.0,1761.4 722.0,1761.0 723.0,1760.5 724.0,1760.6 725.0,1760.8 726.0,1760.5 727.0,1760.2 728.0,1760.7 729.0,1761.8 730.0,1762.5 731.0,1762.4 732.0,1761.7 733.0,1760.8 734.0,1760.5 735.0,1760.3 736.0,1759.6 737.0,1758.8 738.0,1758.4 739.0,1758.5 740.0,1758.7 741.0,1759.1 742.0,1759.6 743.0,1759.6 744.0,1759.5 745.0,1759.6 746.0,1760.2 747.0,1760.7 748.0,1760.4 749.0,1759.5 750.0,1758.9 751.0,1758.9 752.0,1759.2 753.0,1759.3 754.0,1759.7 755.0,1760.6 756.0,1761.2 757.0,1760.7 758.0,1760.2 759.0,1761.1 760.0,1762.5 761.0,1762.5 762.0,1761.1 763.0,1759.5 764.0,1758.2 765.0,1757.7 766.0,1757.5 767.0,1756.8 768.0,1755.8 769.0,1755.5 770.0,1755.6 771.0,1754.8 772.0,1753.8 773.0,1754.2 774.0,1754.6 775.0,1753.7 776.0,1752.4 777.0,1751.3 778.0,1750.2 779.0,1748.3 780.0,1746.6 781.0,1746.0 782.0,1744.7 783.0,1741.3 784.0,1737.9 785.0,1735.6 786.0,1733.2 787.0,1729.3 788.0,1723.7 789.0,1718.4 790.0,1714.3 791.0,1710.1 792.0,1704.7 793.0,1697.7 794.0,1689.7 795.0,1682.2 796.0,1675.7 797.0,1668.8 798.0,1660.8 799.0,1652.3 800.0,1644.9 801.0,1639.3 802.0,1634.3 803.0,1629.1 804.0,1623.5 805.0,1618.5 806.0,1614.4 807.0,1612.0 808.0,1611.3 809.0,1611.7 810.0,1612.9 811.0,1615.1 812.0,1618.0 813.0,1621.3 814.0,1624.9 815.0,1628.4 816.0,1632.4 817.0,1636.6 818.0,1640.1 819.0,1643.3 820.0,1646.7 821.0,1650.3 822.0,1653.6 823.0,1656.8 824.0,1660.4 825.0,1663.5 826.0,1665.2 827.0,1666.1 828.0,1667.9 829.0,1671.0 830.0,1674.5 831.0,1677.1 832.0,1678.8 833.0,1681.0 834.0,1683.8 835.0,1686.9 836.0,1690.6 837.0,1694.0 838.0,1696.8 839.0,1699.9 840.0,1702.3 841.0,1703.5 842.0,1704.1 843.0,1704.7 844.0,1704.7 845.0,1702.6 846.0,1698.2 847.0,1692.1 848.0,1684.7 849.0,1676.2 850.0,1667.5 851.0,1661.8 852.0,1661.1 853.0,1664.8 854.0,1672.1 855.0,1682.2 856.0,1692.9 857.0,1701.9 858.0,1708.7 859.0,1715.0 860.0,1720.1 861.0,1723.1 862.0,1724.4 863.0,1725.5 864.0,1727.4 865.0,1728.5 866.0,1729.5 867.0,1731.7 868.0,1734.0 869.0,1735.3 870.0,1735.4 871.0,1734.8 872.0,1734.3 873.0,1734.8 874.0,1735.8 875.0,1736.5 876.0,1737.0 877.0,1737.9 878.0,1739.2 879.0,1740.7 880.0,1742.0 881.0,1741.6 882.0,1739.8 883.0,1738.6 884.0,1738.5 885.0,1739.4 886.0,1740.3 887.0,1740.5 888.0,1740.9 889.0,1742.1 890.0,1743.1 891.0,1743.5 892.0,1744.0 893.0,1745.1 894.0,1745.8 895.0,1746.1 896.0,1746.0 897.0,1745.6 898.0,1745.8 899.0,1746.6 900.0,1747.6 901.0,1747.8 902.0,1747.6 903.0,1747.7 904.0,1747.9 905.0,1748.3 906.0,1748.0 907.0,1747.0 908.0,1746.8 909.0,1747.4 910.0,1747.9 911.0,1748.2 912.0,1748.3 913.0,1748.1 914.0,1748.3 915.0,1748.3 916.0,1748.0 917.0,1748.0 918.0,1747.4 919.0,1747.1 920.0,1748.3 921.0,1750.0 922.0,1751.1 923.0,1751.9 924.0,1753.0 925.0,1753.8 926.0,1753.9 927.0,1753.5 928.0,1752.6 929.0,1752.2 930.0,1752.7 931.0,1753.1 932.0,1752.5 933.0,1751.5 934.0,1751.3 935.0,1752.0 936.0,1752.1 937.0,1751.8 938.0,1752.4 939.0,1753.1 940.0,1753.5 941.0,1753.6 942.0,1753.0 943.0,1752.1 944.0,1752.5 945.0,1753.7 946.0,1754.5 947.0,1753.9 948.0,1752.7 949.0,1753.1 950.0,1754.6 951.0,1755.6 952.0,1755.1 953.0,1753.6 954.0,1752.7 955.0,1752.8 956.0,1753.3 957.0,1753.9 958.0,1754.9 959.0,1755.2 960.0,1753.9 961.0,1752.5 962.0,1752.8 963.0,1753.4 964.0,1753.4 965.0,1753.7 966.0,1754.6 967.0,1755.4 968.0,1755.4 969.0,1755.0 970.0,1754.7 971.0,1754.7 972.0,1755.2 973.0,1755.6 974.0,1755.6 975.0,1755.3 976.0,1755.0 977.0,1755.6 978.0,1756.3 979.0,1756.7 980.0,1756.9 981.0,1757.2 982.0,1757.1 983.0,1756.2 984.0,1755.7 985.0,1755.6 986.0,1755.1 987.0,1754.6 988.0,1754.8 989.0,1755.1 990.0,1755.1 991.0,1755.1 992.0,1755.7 993.0,1757.2 994.0,1758.3 995.0,1757.9 996.0,1756.4 997.0,1755.5 998.0,1755.4 999.0,1755.4 1000.0,1755.7 1001.0,1756.0 1002.0,1756.4 1003.0,1757.2 1004.0,1758.1 1005.0,1758.7 1006.0,1757.9 1007.0,1756.8 1008.0,1756.4 1009.0,1756.0 1010.0,1755.6 1011.0,1755.5 1012.0,1756.2 1013.0,1756.9 1014.0,1756.6 1015.0,1756.0 1016.0,1756.1 1017.0,1756.8 1018.0,1757.0 1019.0,1756.1 1020.0,1755.5 1021.0,1755.7 1022.0,1755.7 1023.0,1756.4 1024.0,1757.3 1025.0,1757.1 1026.0,1756.2 1027.0,1755.5 1028.0,1755.4 1029.0,1756.1 1030.0,1757.4 1031.0,1758.3 1032.0,1758.0 1033.0,1756.8 1034.0,1756.3 1035.0,1755.9 1036.0,1755.4 1037.0,1755.3 1038.0,1755.4 1039.0,1755.2 1040.0,1755.3 1041.0,1755.4 1042.0,1754.9 1043.0,1754.9 1044.0,1755.5 1045.0,1755.8 1046.0,1756.2 1047.0,1756.8 1048.0,1756.8 1049.0,1756.3 1050.0,1755.9 1051.0,1755.7 1052.0,1756.3 1053.0,1757.3 1054.0,1757.6 1055.0,1757.5 1056.0,1757.4 1057.0,1757.1 1058.0,1757.0 1059.0,1756.7 1060.0,1756.4 1061.0,1756.3 1062.0,1756.1 1063.0,1756.3 1064.0,1756.7 1065.0,1757.6 1066.0,1758.3 1067.0,1757.8 1068.0,1756.8 1069.0,1756.2 1070.0,1755.6 1071.0,1755.1 1072.0,1755.3 1073.0,1756.1 1074.0,1756.1 1075.0,1755.7 1076.0,1756.2 1077.0,1756.9 1078.0,1756.7 1079.0,1756.5 1080.0,1756.6 1081.0,1756.8 1082.0,1757.4 1083.0,1757.2 1084.0,1756.2 1085.0,1756.3 1086.0,1756.8 1087.0,1756.6 1088.0,1755.9 1089.0,1755.3 1090.0,1755.4 1091.0,1756.1 1092.0,1756.4 1093.0,1755.8 1094.0,1755.3 1095.0,1755.6 1096.0,1756.2 1097.0,1756.5 1098.0,1756.3 1099.0,1755.4 1100.0,1754.1 1101.0,1754.1 1102.0,1755.9 1103.0,1756.7 1104.0,1755.8 1105.0,1755.7 1106.0,1756.8 1107.0,1757.8 1108.0,1758.2 1109.0,1758.0 1110.0,1757.5 1111.0,1757.1 1112.0,1756.9 1113.0,1757.1 1114.0,1757.7 1115.0,1757.9 1116.0,1757.6 1117.0,1757.1 1118.0,1756.5 1119.0,1755.7 1120.0,1754.6 1121.0,1753.8 1122.0,1754.4 1123.0,1755.7 1124.0,1755.9 1125.0,1755.6 1126.0,1755.8 1127.0,1756.9 1128.0,1757.3 1129.0,1757.0 1130.0,1757.0 1131.0,1757.4 1132.0,1757.4 1133.0,1756.3 1134.0,1755.3 1135.0,1755.9 1136.0,1757.0 1137.0,1757.0 1138.0,1756.6 1139.0,1756.6 1140.0,1756.5 1141.0,1755.7 1142.0,1754.7 1143.0,1754.8 1144.0,1755.8 1145.0,1756.5 1146.0,1757.2 1147.0,1757.6 1148.0,1756.8 1149.0,1755.9 1150.0,1755.2 1151.0,1754.8 1152.0,1754.3 1153.0,1753.6 1154.0,1754.1 1155.0,1755.7 1156.0,1756.7 1157.0,1756.9 1158.0,1756.7 1159.0,1756.6 1160.0,1756.8 1161.0,1756.4 1162.0,1756.1 1163.0,1756.2 1164.0,1756.5 1165.0,1757.6 1166.0,1758.9 1167.0,1759.0 1168.0,1758.5 1169.0,1757.9 1170.0,1757.7 1171.0,1757.6 1172.0,1757.1 1173.0,1756.5 1174.0,1756.3 1175.0,1756.3 1176.0,1756.2 1177.0,1756.6 1178.0,1757.4 1179.0,1757.2 1180.0,1756.7 1181.0,1757.0 1182.0,1757.7 1183.0,1758.3 1184.0,1758.9 1185.0,1759.7 1186.0,1759.9 1187.0,1758.7 1188.0,1757.8 1189.0,1758.4 1190.0,1759.1 1191.0,1759.1 1192.0,1759.2 1193.0,1759.9 1194.0,1760.1 1195.0,1759.5 1196.0,1759.3 1197.0,1760.1 1198.0,1761.1 1199.0,1761.3 1200.0,1760.4 1201.0,1759.7 1202.0,1759.8 1203.0,1760.0 1204.0,1760.1 1205.0,1760.0 1206.0,1760.2 1207.0,1760.5 1208.0,1760.4 1209.0,1760.1 1210.0,1760.0 1211.0,1760.3 1212.0,1760.5 1213.0,1760.5 1214.0,1759.8 1215.0,1759.5 1216.0,1760.8 1217.0,1762.3 1218.0,1762.7 1219.0,1762.4 1220.0,1761.7 1221.0,1760.8 1222.0,1760.8 1223.0,1762.0 1224.0,1763.0 1225.0,1763.0 1226.0,1762.6 1227.0,1762.3 1228.0,1762.1 1229.0,1762.0 1230.0,1761.9 1231.0,1761.5 1232.0,1760.9 1233.0,1761.0 1234.0,1761.3 1235.0,1760.5 1236.0,1759.6 1237.0,1759.8 1238.0,1760.9 1239.0,1762.8 1240.0,1763.5 1241.0,1762.7 1242.0,1761.4 1243.0,1760.8 1244.0,1761.2 1245.0,1761.5 1246.0,1761.7 1247.0,1762.4 1248.0,1762.9 1249.0,1762.3 1250.0,1760.8 1251.0,1760.1 1252.0,1760.9 1253.0,1762.1 1254.0,1763.5 1255.0,1764.9 1256.0,1765.1 1257.0,1764.7 1258.0,1764.8 1259.0,1764.7 1260.0,1764.0 1261.0,1763.6 1262.0,1763.5 1263.0,1762.8 1264.0,1762.1 1265.0,1761.9 1266.0,1762.1 1267.0,1762.6 1268.0,1763.3 1269.0,1763.9 1270.0,1764.5 1271.0,1764.2 1272.0,1763.4 1273.0,1763.5 1274.0,1764.0 1275.0,1764.4 1276.0,1764.3 1277.0,1763.9 1278.0,1763.6 1279.0,1763.4 1280.0,1763.5 1281.0,1763.7 1282.0,1763.5 1283.0,1763.2 1284.0,1762.9 1285.0,1762.8 1286.0,1763.0 1287.0,1763.7 1288.0,1764.4 1289.0,1764.6 1290.0,1765.1 1291.0,1765.7 1292.0,1765.0 1293.0,1763.9 1294.0,1763.9 1295.0,1764.4 1296.0,1764.4 1297.0,1764.1 1298.0,1763.7 1299.0,1763.7 1300.0,1764.1 1301.0,1764.3 1302.0,1763.8 1303.0,1763.4 1304.0,1763.3 1305.0,1763.0 1306.0,1763.1 1307.0,1763.5 1308.0,1763.6 1309.0,1763.9 1310.0,1764.0 1311.0,1764.1 1312.0,1764.7 1313.0,1765.1 1314.0,1764.9 1315.0,1765.2 1316.0,1766.0 1317.0,1766.0 1318.0,1765.2 1319.0,1764.3 1320.0,1764.1 1321.0,1764.9 1322.0,1766.0 1323.0,1766.7 1324.0,1767.0 1325.0,1767.0 1326.0,1766.2 1327.0,1765.8 1328.0,1766.2 1329.0,1766.4 1330.0,1765.7 1331.0,1766.0 1332.0,1767.0 1333.0,1768.1 1334.0,1769.2 1335.0,1769.0 1336.0,1767.8 1337.0,1766.9 1338.0,1766.7 1339.0,1766.8 1340.0,1766.9 1341.0,1767.1 1342.0,1767.4 1343.0,1768.5 1344.0,1769.3 1345.0,1768.9 1346.0,1767.6 1347.0,1767.0 1348.0,1768.0 1349.0,1768.6 1350.0,1768.1 1351.0,1767.7 1352.0,1767.8 1353.0,1767.8 1354.0,1767.6 1355.0,1767.0 1356.0,1766.8 1357.0,1766.9 1358.0,1767.1 1359.0,1767.7 1360.0,1768.1 1361.0,1768.1 1362.0,1768.5 1363.0,1768.8 1364.0,1769.0 1365.0,1768.8 1366.0,1768.1 1367.0,1767.3 1368.0,1766.9 1369.0,1767.4 1370.0,1768.9 1371.0,1770.3 1372.0,1770.2 1373.0,1769.5 1374.0,1769.6 1375.0,1769.8 1376.0,1769.8 1377.0,1770.1 1378.0,1770.1 1379.0,1769.6 1380.0,1769.4 1381.0,1769.3 1382.0,1769.3 1383.0,1769.5 1384.0,1769.5 1385.0,1769.2 1386.0,1769.5 1387.0,1770.4 1388.0,1771.1 1389.0,1770.8 1390.0,1770.5 1391.0,1770.9 1392.0,1771.4 1393.0,1771.7 1394.0,1771.4 1395.0,1770.5 1396.0,1770.0 1397.0,1770.0 1398.0,1771.0 1399.0,1772.2 1400.0,1771.8 1401.0,1770.6 1402.0,1770.6 1403.0,1771.3 1404.0,1771.8 1405.0,1771.7 1406.0,1771.5 1407.0,1771.6 1408.0,1771.7 1409.0,1771.5 1410.0,1771.3 1411.0,1771.4 1412.0,1771.2 1413.0,1770.9 1414.0,1771.0 1415.0,1771.2 1416.0,1771.4 1417.0,1771.3 1418.0,1770.7 1419.0,1770.5 1420.0,1771.0 1421.0,1771.5 1422.0,1771.7 1423.0,1771.7 1424.0,1771.4 1425.0,1771.0 1426.0,1771.1 1427.0,1771.2 1428.0,1771.5 1429.0,1772.2 1430.0,1773.2 1431.0,1773.9 1432.0,1773.9 1433.0,1772.9 1434.0,1771.9 1435.0,1772.0 1436.0,1773.1 1437.0,1773.6 1438.0,1773.0 1439.0,1772.2 1440.0,1772.2 1441.0,1772.2 1442.0,1771.5 1443.0,1770.2 1444.0,1769.7 1445.0,1770.8 1446.0,1772.1 1447.0,1771.6 1448.0,1770.5 1449.0,1770.5 1450.0,1771.5 1451.0,1772.7 1452.0,1772.6 1453.0,1771.9 1454.0,1771.9 1455.0,1772.0 1456.0,1772.1 1457.0,1771.7 1458.0,1771.3 1459.0,1771.4 1460.0,1771.7 1461.0,1772.1 1462.0,1771.5 1463.0,1770.4 1464.0,1770.6 1465.0,1772.2 1466.0,1772.6 1467.0,1772.0 1468.0,1771.9 1469.0,1771.5 1470.0,1770.7 1471.0,1770.3 1472.0,1770.4 1473.0,1770.3 1474.0,1768.9 1475.0,1767.9 1476.0,1767.9 1477.0,1766.6 1478.0,1764.2 1479.0,1762.4 1480.0,1761.4 1481.0,1760.8 1482.0,1760.0 1483.0,1758.5 1484.0,1756.6 1485.0,1755.3 1486.0,1754.7 1487.0,1754.1 1488.0,1752.7 1489.0,1750.4 1490.0,1748.2 1491.0,1746.0 1492.0,1744.1 1493.0,1742.4 1494.0,1739.7 1495.0,1736.7 1496.0,1734.3 1497.0,1731.9 1498.0,1729.1 1499.0,1726.4 1500.0,1723.1 1501.0,1719.3 1502.0,1715.6 1503.0,1711.1 1504.0,1705.2 1505.0,1699.0 1506.0,1692.3 1507.0,1683.4 1508.0,1672.2 1509.0,1659.9 1510.0,1645.8 1511.0,1628.4 1512.0,1607.6 1513.0,1582.6 1514.0,1551.2 1515.0,1512.3 1516.0,1464.8 1517.0,1407.5 1518.0,1340.8 1519.0,1265.4 1520.0,1183.6 1521.0,1101.0 1522.0,1027.0 1523.0,973.2 1524.0,950.8 1525.0,964.3 1526.0,1009.6 1527.0,1075.8 1528.0,1151.1 1529.0,1226.3 1530.0,1295.4 1531.0,1355.2 1532.0,1405.7 1533.0,1447.5 1534.0,1480.8 1535.0,1506.4 1536.0,1526.6 1537.0,1543.7 1538.0,1558.8 1539.0,1571.9 1540.0,1583.1 1541.0,1593.2 1542.0,1603.2 1543.0,1612.9 1544.0,1621.3 1545.0,1629.4 1546.0,1637.3 1547.0,1644.9 1548.0,1652.7 1549.0,1659.5 1550.0,1664.5 1551.0,1668.9 1552.0,1673.4 1553.0,1678.4 1554.0,1683.4 1555.0,1686.9 1556.0,1689.2 1557.0,1692.0 1558.0,1695.2 1559.0,1697.2 1560.0,1697.5 1561.0,1697.8 1562.0,1699.1 1563.0,1701.3 1564.0,1703.4 1565.0,1704.4 1566.0,1703.9 1567.0,1703.0 1568.0,1703.0 1569.0,1703.2 1570.0,1703.3 1571.0,1703.7 1572.0,1703.7 1573.0,1703.2 1574.0,1703.5 1575.0,1704.7 1576.0,1705.1 1577.0,1704.7 1578.0,1704.8 1579.0,1704.9 1580.0,1704.1 1581.0,1703.2 1582.0,1703.1 1583.0,1703.6 1584.0,1703.9 1585.0,1703.5 1586.0,1702.5 1587.0,1701.4 1588.0,1701.1 1589.0,1701.6 1590.0,1701.9 1591.0,1701.5 1592.0,1701.1 1593.0,1701.1 1594.0,1700.6 1595.0,1699.4 1596.0,1698.9 1597.0,1698.9 1598.0,1698.4 1599.0,1697.7 1600.0,1697.8 1601.0,1698.4 1602.0,1698.8 1603.0,1699.1 1604.0,1699.8 1605.0,1700.1 1606.0,1700.5 1607.0,1701.6 1608.0,1702.1 1609.0,1702.3 1610.0,1702.7 1611.0,1702.4 1612.0,1702.4 1613.0,1703.8 1614.0,1705.6 1615.0,1707.1 1616.0,1708.8 1617.0,1711.1 1618.0,1713.7 1619.0,1716.5 1620.0,1718.4 1621.0,1718.1 1622.0,1717.7 1623.0,1719.1 1624.0,1721.4 1625.0,1723.4 1626.0,1724.5 1627.0,1724.9 1628.0,1725.8 1629.0,1727.2 1630.0,1728.1 1631.0,1729.2 1632.0,1731.4 1633.0,1733.3 1634.0,1734.3 1635.0,1735.0 1636.0,1735.8 1637.0,1737.6 1638.0,1739.7 1639.0,1741.0 1640.0,1741.2 1641.0,1741.2 1642.0,1742.2 1643.0,1743.8 1644.0,1744.3 1645.0,1743.5 1646.0,1742.9 1647.0,1743.6 1648.0,1745.5 1649.0,1747.8 1650.0,1748.8 1651.0,1749.3 1652.0,1750.9 1653.0,1752.4 1654.0,1751.4 1655.0,1748.6 1656.0,1746.1 1657.0,1743.7 1658.0,1742.2 1659.0,1742.1 1660.0,1741.6 1661.0,1738.6 1662.0,1733.6 1663.0,1728.5 1664.0,1723.3 1665.0,1716.4 1666.0,1707.6 1667.0,1698.7 1668.0,1690.2 1669.0,1680.0 1670.0,1668.6 1671.0,1657.6 1672.0,1648.3 1673.0,1642.5 1674.0,1641.6 1675.0,1644.4 1676.0,1648.0 1677.0,1651.2 1678.0,1653.6 1679.0,1654.6 1680.0,1656.0 1681.0,1660.4 1682.0,1667.2 1683.0,1674.0 1684.0,1680.3 1685.0,1686.3 1686.0,1690.0 1687.0,1690.9 1688.0,1691.4 1689.0,1692.7 1690.0,1693.1 1691.0,1691.3 1692.0,1689.2 1693.0,1688.9 1694.0,1689.8 1695.0,1689.3 1696.0,1686.4 1697.0,1681.4 1698.0,1674.2 1699.0,1664.3 1700.0,1652.1 1701.0,1638.6 1702.0,1625.6 1703.0,1616.0 1704.0,1612.9 1705.0,1617.4 1706.0,1628.2 1707.0,1641.7 1708.0,1654.3 1709.0,1664.4 1710.0,1670.3 1711.0,1669.7 1712.0,1663.9 1713.0,1655.5 1714.0,1644.5 1715.0,1631.1 1716.0,1619.8 1717.0,1616.4 1718.0,1621.5 1719.0,1631.9 1720.0,1643.9 1721.0,1654.7 1722.0,1663.0 1723.0,1667.1 1724.0,1667.0 1725.0,1664.3 1726.0,1659.4 1727.0,1651.4 1728.0,1639.8 1729.0,1624.6 1730.0,1606.3 1731.0,1585.7 1732.0,1566.3 1733.0,1551.0 1734.0,1540.1 1735.0,1534.6 1736.0,1537.0 1737.0,1547.9 1738.0,1563.6 1739.0,1580.6 1740.0,1598.3 1741.0,1616.8 1742.0,1634.2 1743.0,1648.5 1744.0,1660.3 1745.0,1669.8 1746.0,1676.4 1747.0,1681.1 1748.0,1685.3 1749.0,1688.4 1750.0,1690.0 1751.0,1690.3 1752.0,1689.5 1753.0,1688.4 1754.0,1687.3 1755.0,1685.6 1756.0,1683.0 1757.0,1679.8 1758.0,1676.3 1759.0,1673.5 1760.0,1671.4 1761.0,1670.2 1762.0,1669.2 1763.0,1667.8 1764.0,1665.5 1765.0,1663.0 1766.0,1660.1 1767.0,1655.4 1768.0,1648.8 1769.0,1640.8 1770.0,1631.2 1771.0,1619.3 1772.0,1606.1 1773.0,1591.8 1774.0,1576.2 1775.0,1560.4 1776.0,1547.3 1777.0,1540.7 1778.0,1542.5 1779.0,1550.4 1780.0,1561.3 1781.0,1573.0 1782.0,1584.2 1783.0,1594.6 1784.0,1603.8 1785.0,1610.3 1786.0,1614.3 1787.0,1617.2 1788.0,1619.0 1789.0,1619.2 1790.0,1618.4 1791.0,1617.0 1792.0,1614.6 1793.0,1611.0 1794.0,1607.1 1795.0,1603.2 1796.0,1598.0 1797.0,1591.0 1798.0,1582.2 1799.0,1570.9 1800.0,1556.7 1801.0,1537.7 1802.0,1512.5 1803.0,1481.9 1804.0,1445.5 1805.0,1403.6 1806.0,1359.8 1807.0,1320.7 1808.0,1293.8 1809.0,1286.2 1810.0,1300.5 1811.0,1331.7 1812.0,1371.3 1813.0,1411.9 1814.0,1448.8 1815.0,1479.8 1816.0,1504.6 1817.0,1523.6 1818.0,1537.4 1819.0,1547.1 1820.0,1553.7 1821.0,1556.9 1822.0,1556.7 1823.0,1554.0 1824.0,1548.8 1825.0,1541.8 1826.0,1534.0 1827.0,1524.2 1828.0,1511.4 1829.0,1497.3 1830.0,1483.1 1831.0,1467.8 1832.0,1450.3 1833.0,1429.8 1834.0,1407.0 1835.0,1382.7 1836.0,1356.7 1837.0,1328.7 1838.0,1299.2 1839.0,1268.6 1840.0,1237.1 1841.0,1204.8 1842.0,1171.7 1843.0,1139.5 1844.0,1109.4 1845.0,1083.0 1846.0,1061.1 1847.0,1044.0 1848.0,1033.3 1849.0,1029.8 1850.0,1034.0 1851.0,1044.6 1852.0,1060.1 1853.0,1082.3 1854.0,1110.2 1855.0,1140.1 1856.0,1171.1 1857.0,1203.2 1858.0,1236.0 1859.0,1268.9 1860.0,1300.4 1861.0,1329.6 1862.0,1357.6 1863.0,1384.5 1864.0,1408.6 1865.0,1429.7 1866.0,1449.1 1867.0,1467.2 1868.0,1483.8 1869.0,1499.0 1870.0,1512.1 1871.0,1523.6 1872.0,1534.6 1873.0,1545.4 1874.0,1555.0 1875.0,1561.8 1876.0,1565.6 1877.0,1567.2 1878.0,1566.4 1879.0,1562.2 1880.0,1554.5 1881.0,1544.5 1882.0,1531.8 1883.0,1515.8 1884.0,1498.3 1885.0,1481.9 1886.0,1468.6 1887.0,1459.7 1888.0,1456.5 1889.0,1459.5 1890.0,1468.8 1891.0,1482.7 1892.0,1497.8 1893.0,1512.8 1894.0,1527.5 1895.0,1540.2 1896.0,1550.2 1897.0,1558.2 1898.0,1563.9 1899.0,1567.5 1900.0,1569.8 1901.0,1571.8 1902.0,1572.2 1903.0,1571.5 1904.0,1571.2 1905.0,1570.6 1906.0,1568.1 1907.0,1564.0 1908.0,1557.4 1909.0,1545.9 1910.0,1530.0 1911.0,1513.6 1912.0,1505.0 1913.0,1509.7 1914.0,1520.2 1915.0,1527.5 1916.0,1528.3 1917.0,1521.6 1918.0,1507.6 1919.0,1487.7 1920.0,1463.9 1921.0,1440.4 1922.0,1423.3 1923.0,1419.9 1924.0,1432.3 1925.0,1455.1 1926.0,1481.4 1927.0,1506.6 1928.0,1528.6 1929.0,1546.5 1930.0,1560.3 1931.0,1570.6 1932.0,1578.9 1933.0,1586.0 1934.0,1591.0 1935.0,1594.5 1936.0,1597.2 1937.0,1599.3 1938.0,1601.3 1939.0,1604.1 1940.0,1607.0 1941.0,1608.3 1942.0,1608.5 1943.0,1609.1 1944.0,1610.7 1945.0,1612.4 1946.0,1613.2 1947.0,1613.8 1948.0,1614.5 1949.0,1615.1 1950.0,1615.4 1951.0,1615.2 1952.0,1615.2 1953.0,1616.1 1954.0,1617.4 1955.0,1617.8 1956.0,1618.1 1957.0,1618.6 1958.0,1618.7 1959.0,1618.7 1960.0,1619.0 1961.0,1619.5 1962.0,1619.9 1963.0,1619.6 1964.0,1618.1 1965.0,1615.4 1966.0,1611.6 1967.0,1605.9 1968.0,1597.6 1969.0,1586.1 1970.0,1570.7 1971.0,1552.9 1972.0,1538.8 1973.0,1535.7 1974.0,1545.6 1975.0,1563.5 1976.0,1582.3 1977.0,1598.0 1978.0,1610.4 1979.0,1620.5 1980.0,1627.6 1981.0,1631.0 1982.0,1632.1 1983.0,1631.7 1984.0,1628.6 1985.0,1622.2 1986.0,1613.0 1987.0,1603.6 1988.0,1594.8 1989.0,1588.0 1990.0,1588.2 1991.0,1597.1 1992.0,1609.8 1993.0,1622.2 1994.0,1633.5 1995.0,1643.0 1996.0,1650.1 1997.0,1654.8 1998.0,1657.8 1999.0,1659.8 2000.0,1662.2 2001.0,1665.0 2002.0,1667.2 2003.0,1669.7 2004.0,1672.0 2005.0,1673.3 2006.0,1674.3 2007.0,1675.4 2008.0,1676.6 2009.0,1677.5 2010.0,1678.6 2011.0,1679.8 2012.0,1680.0 2013.0,1680.3 2014.0,1681.6 2015.0,1683.0 2016.0,1684.3 2017.0,1686.2 2018.0,1688.2 2019.0,1689.2 2020.0,1689.0 2021.0,1688.7 2022.0,1688.8 2023.0,1689.9 2024.0,1691.6 2025.0,1692.9 2026.0,1693.6 2027.0,1694.0 2028.0,1694.6 2029.0,1695.8 2030.0,1697.5 2031.0,1699.1 2032.0,1700.6 2033.0,1701.6 2034.0,1701.4 2035.0,1700.7 2036.0,1700.9 2037.0,1701.8 2038.0,1702.4 2039.0,1702.5 2040.0,1701.3 2041.0,1699.0 2042.0,1697.0 2043.0,1695.8 2044.0,1695.9 2045.0,1698.6 2046.0,1703.2 2047.0,1708.0 2048.0,1712.0 2049.0,1714.7 2050.0,1716.3 2051.0,1717.1 2052.0,1717.9 2053.0,1718.6 2054.0,1719.8 2055.0,1722.1 2056.0,1724.2 2057.0,1724.9 2058.0,1725.3 2059.0,1726.1 2060.0,1726.9 2061.0,1728.0 2062.0,1729.0 2063.0,1728.9 2064.0,1728.5 2065.0,1728.2 2066.0,1728.1 2067.0,1728.1 2068.0,1728.3 2069.0,1728.1 2070.0,1727.5 2071.0,1727.8 2072.0,1728.4 2073.0,1728.4 2074.0,1728.5 2075.0,1729.2 2076.0,1730.2 2077.0,1731.0 2078.0,1730.6 2079.0,1728.5 2080.0,1725.7 2081.0,1723.3 2082.0,1721.1 2083.0,1718.7 2084.0,1717.4 2085.0,1719.0 2086.0,1722.8 2087.0,1727.4 2088.0,1731.4 2089.0,1734.0 2090.0,1735.5 2091.0,1735.8 2092.0,1735.6 2093.0,1735.6 2094.0,1735.1 2095.0,1733.3 2096.0,1730.9 2097.0,1728.7 2098.0,1726.4 2099.0,1722.6 2100.0,1717.4 2101.0,1710.8 2102.0,1702.4 2103.0,1691.6 2104.0,1677.4 2105.0,1659.2 2106.0,1638.2 2107.0,1618.9 2108.0,1609.0 2109.0,1614.6 2110.0,1631.7 2111.0,1650.8 2112.0,1666.7 2113.0,1679.8 2114.0,1690.0 2115.0,1695.7 2116.0,1697.6 2117.0,1696.7 2118.0,1693.4 2119.0,1689.8 2120.0,1688.8 2121.0,1691.0 2122.0,1695.6 2123.0,1701.3 2124.0,1706.7 2125.0,1711.1 2126.0,1714.6 2127.0,1717.7 2128.0,1721.1 2129.0,1724.3 2130.0,1726.4 2131.0,1727.1 2132.0,1726.6 2133.0,1726.9 2134.0,1729.1 2135.0,1730.8 2136.0,1731.2 2137.0,1732.4 2138.0,1735.0 2139.0,1737.0 2140.0,1738.0 2141.0,1739.1 2142.0,1740.2 2143.0,1741.4 2144.0,1743.3 2145.0,1745.5 2146.0,1746.9 2147.0,1747.7 2148.0,1749.2 2149.0,1751.5 2150.0,1752.6 2151.0,1752.8 2152.0,1753.1 2153.0,1753.3 2154.0,1753.5 2155.0,1754.1 2156.0,1754.8 2157.0,1754.9 2158.0,1754.4 2159.0,1754.4 2160.0,1755.5 2161.0,1756.1 2162.0,1755.5 2163.0,1755.1 2164.0,1755.5 2165.0,1756.1 2166.0,1756.6 2167.0,1756.7 2168.0,1756.5 2169.0,1756.2 2170.0,1755.6 2171.0,1754.9 2172.0,1754.5 2173.0,1754.7 2174.0,1755.1 2175.0,1755.8 2176.0,1756.4 2177.0,1756.5 2178.0,1756.1 2179.0,1754.8 2180.0,1753.4 2181.0,1753.2 2182.0,1753.1 2183.0,1752.2 2184.0,1751.5 2185.0,1751.7 2186.0,1751.5 2187.0,1749.9 2188.0,1747.4 2189.0,1745.0 2190.0,1742.6 2191.0,1739.4 2192.0,1735.0 2193.0,1730.1 2194.0,1726.4 2195.0,1724.5 2196.0,1724.4 2197.0,1726.1 2198.0,1728.9 2199.0,1731.7 2200.0,1734.8 2201.0,1737.9 2202.0,1740.1 2203.0,1741.4 2204.0,1742.8 2205.0,1744.8 2206.0,1746.1 2207.0,1746.8 2208.0,1747.2 2209.0,1747.4 2210.0,1747.8 2211.0,1748.3 2212.0,1748.2 2213.0,1748.2 2214.0,1747.5 2215.0,1745.6 2216.0,1743.7 2217.0,1742.4 2218.0,1740.9 2219.0,1738.6 2220.0,1736.4 2221.0,1734.7 2222.0,1732.1 2223.0,1729.0 2224.0,1727.0 2225.0,1726.1 2226.0,1725.6 2227.0,1724.5 2228.0,1723.3 2229.0,1723.7 2230.0,1725.9 2231.0,1729.2 2232.0,1732.9 2233.0,1736.0 2234.0,1738.0 2235.0,1739.8 2236.0,1742.9 2237.0,1746.4 2238.0,1748.4 2239.0,1749.0 2240.0,1749.4 2241.0,1750.0 2242.0,1750.3 2243.0,1750.7 2244.0,1751.6 2245.0,1751.9 2246.0,1751.5 2247.0,1751.7 2248.0,1753.4 2249.0,1754.8 2250.0,1755.5 2251.0,1756.9 2252.0,1757.6 2253.0,1757.3 2254.0,1757.8 2255.0,1759.5 2256.0,1760.5 2257.0,1760.4 2258.0,1759.5 2259.0,1758.6 2260.0,1757.5 2261.0,1755.4 2262.0,1752.0 2263.0,1747.2 2264.0,1741.3 2265.0,1734.3 2266.0,1723.8 2267.0,1708.0 2268.0,1687.5 2269.0,1663.0 2270.0,1636.8 2271.0,1617.2 2272.0,1614.7 2273.0,1630.7 2274.0,1655.4 2275.0,1679.8 2276.0,1700.6 2277.0,1716.7 2278.0,1727.6 2279.0,1734.6 2280.0,1739.7 2281.0,1744.2 2282.0,1747.8 2283.0,1749.7 2284.0,1750.5 2285.0,1751.3 2286.0,1752.0 2287.0,1752.2 2288.0,1752.2 2289.0,1752.9 2290.0,1754.4 2291.0,1755.7 2292.0,1756.0 2293.0,1756.2 2294.0,1757.0 2295.0,1757.7 2296.0,1757.2 2297.0,1756.7 2298.0,1758.0 2299.0,1760.7 2300.0,1762.9 2301.0,1764.2 2302.0,1764.8 2303.0,1765.0" fill="none" stroke="#31ae6b" stroke-width="5.6" stroke-linejoin="round" stroke-linecap="round"/>
<path d="M188.0,1770.1 189.0,1769.6 190.0,1769.5 191.0,1769.8 192.0,1770.3 193.0,1770.7 194.0,1770.6 195.0,1770.6 196.0,1771.5 197.0,1771.7 198.0,1771.3 199.0,1771.5 200.0,1772.1 201.0,1772.3 202.0,1772.5 203.0,1772.7 204.0,1772.7 205.0,1772.3 206.0,1772.0 207.0,1772.3 208.0,1772.4 209.0,1771.7 210.0,1770.8 211.0,1770.2 212.0,1770.3 213.0,1770.6 214.0,1771.1 215.0,1771.3 216.0,1771.3 217.0,1771.5 218.0,1772.3 219.0,1773.0 220.0,1772.7 221.0,1771.6 222.0,1771.1 223.0,1770.8 224.0,1770.5 225.0,1770.1 226.0,1769.2 227.0,1768.2 228.0,1768.3 229.0,1770.0 230.0,1771.0 231.0,1770.9 232.0,1770.7 233.0,1770.6 234.0,1770.3 235.0,1769.9 236.0,1769.6 237.0,1769.0 238.0,1768.6 239.0,1769.0 240.0,1768.9 241.0,1768.7 242.0,1769.7 243.0,1770.5 244.0,1770.7 245.0,1770.4 246.0,1769.6 247.0,1769.0 248.0,1769.4 249.0,1771.0 250.0,1772.6 251.0,1772.5 252.0,1770.9 253.0,1770.1 254.0,1770.3 255.0,1770.2 256.0,1769.6 257.0,1770.1 258.0,1771.2 259.0,1770.6 260.0,1768.5 261.0,1767.5 262.0,1768.3 263.0,1769.5 264.0,1769.9 265.0,1769.1 266.0,1768.7 267.0,1769.4 268.0,1770.1 269.0,1770.0 270.0,1769.8 271.0,1769.8 272.0,1769.3 273.0,1768.8 274.0,1768.7 275.0,1769.1 276.0,1769.9 277.0,1769.9 278.0,1769.5 279.0,1769.7 280.0,1769.5 281.0,1768.7 282.0,1769.2 283.0,1769.7 284.0,1768.8 285.0,1768.0 286.0,1767.7 287.0,1767.1 288.0,1766.4 289.0,1766.6 290.0,1768.0 291.0,1769.3 292.0,1770.2 293.0,1770.8 294.0,1771.1 295.0,1770.9 296.0,1770.1 297.0,1769.6 298.0,1771.0 299.0,1773.1 300.0,1773.5 301.0,1772.3 302.0,1771.3 303.0,1770.8 304.0,1770.6 305.0,1770.7 306.0,1770.2 307.0,1770.1 308.0,1769.9 309.0,1768.6 310.0,1767.7 311.0,1767.3 312.0,1767.6 313.0,1768.3 314.0,1768.7 315.0,1768.6 316.0,1768.3 317.0,1767.9 318.0,1767.5 319.0,1767.4 320.0,1767.7 321.0,1768.2 322.0,1768.4 323.0,1768.7 324.0,1768.9 325.0,1769.2 326.0,1769.5 327.0,1768.6 328.0,1767.5 329.0,1766.8 330.0,1766.6 331.0,1767.2 332.0,1767.6 333.0,1767.7 334.0,1768.4 335.0,1769.7 336.0,1770.6 337.0,1771.0 338.0,1771.4 339.0,1770.9 340.0,1769.5 341.0,1769.2 342.0,1769.7 343.0,1769.7 344.0,1769.2 345.0,1768.4 346.0,1767.8 347.0,1767.6 348.0,1767.3 349.0,1767.7 350.0,1769.4 351.0,1771.4 352.0,1771.7 353.0,1770.8 354.0,1770.4 355.0,1770.8 356.0,1771.1 357.0,1770.4 358.0,1769.6 359.0,1770.1 360.0,1771.6 361.0,1771.7 362.0,1769.8 363.0,1768.6 364.0,1769.3 365.0,1770.1 366.0,1770.6 367.0,1770.7 368.0,1769.6 369.0,1767.9 370.0,1767.4 371.0,1768.0 372.0,1768.6 373.0,1768.7 374.0,1768.5 375.0,1768.2 376.0,1768.2 377.0,1768.8 378.0,1769.8 379.0,1771.0 380.0,1771.3 381.0,1770.7 382.0,1770.8 383.0,1771.7 384.0,1771.9 385.0,1771.9 386.0,1772.2 387.0,1772.6 388.0,1772.6 389.0,1772.0 390.0,1771.0 391.0,1769.9 392.0,1769.6 393.0,1770.0 394.0,1770.5 395.0,1770.7 396.0,1770.7 397.0,1770.3 398.0,1769.5 399.0,1769.5 400.0,1770.5 401.0,1770.7 402.0,1770.4 403.0,1770.4 404.0,1770.3 405.0,1769.1 406.0,1767.6 407.0,1767.6 408.0,1768.8 409.0,1769.6 410.0,1768.9 411.0,1767.9 412.0,1767.4 413.0,1767.5 414.0,1766.9 415.0,1765.4 416.0,1765.3 417.0,1766.8 418.0,1767.8 419.0,1768.1 420.0,1768.5 421.0,1767.7 422.0,1766.5 423.0,1766.7 424.0,1767.3 425.0,1767.0 426.0,1766.9 427.0,1767.0 428.0,1766.1 429.0,1764.9 430.0,1764.4 431.0,1764.6 432.0,1764.9 433.0,1764.9 434.0,1764.8 435.0,1764.4 436.0,1763.9 437.0,1763.9 438.0,1764.9 439.0,1766.3 440.0,1767.1 441.0,1766.6 442.0,1765.6 443.0,1765.0 444.0,1764.9 445.0,1764.8 446.0,1764.8 447.0,1765.1 448.0,1765.3 449.0,1765.2 450.0,1764.8 451.0,1763.8 452.0,1762.6 453.0,1761.6 454.0,1761.3 455.0,1761.7 456.0,1762.3 457.0,1762.7 458.0,1763.4 459.0,1764.4 460.0,1764.2 461.0,1763.4 462.0,1761.8 463.0,1760.2 464.0,1760.4 465.0,1760.7 466.0,1760.0 467.0,1759.8 468.0,1759.8 469.0,1759.6 470.0,1759.2 471.0,1758.8 472.0,1758.8 473.0,1759.0 474.0,1759.8 475.0,1761.8 476.0,1763.0 477.0,1762.0 478.0,1760.3 479.0,1759.0 480.0,1758.5 481.0,1759.0 482.0,1759.4 483.0,1758.9 484.0,1758.1 485.0,1757.8 486.0,1757.1 487.0,1755.6 488.0,1755.0 489.0,1754.7 490.0,1753.4 491.0,1751.7 492.0,1750.9 493.0,1750.9 494.0,1750.4 495.0,1749.5 496.0,1749.3 497.0,1750.0 498.0,1749.9 499.0,1748.5 500.0,1747.6 501.0,1748.2 502.0,1749.1 503.0,1748.5 504.0,1747.7 505.0,1748.0 506.0,1748.0 507.0,1746.2 508.0,1743.8 509.0,1742.6 510.0,1742.1 511.0,1741.4 512.0,1740.8 513.0,1740.8 514.0,1741.3 515.0,1741.9 516.0,1741.8 517.0,1740.9 518.0,1740.9 519.0,1742.3 520.0,1743.8 521.0,1743.9 522.0,1742.4 523.0,1741.2 524.0,1741.8 525.0,1742.9 526.0,1743.3 527.0,1743.5 528.0,1744.3 529.0,1746.2 530.0,1747.9 531.0,1747.8 532.0,1746.8 533.0,1746.4 534.0,1746.5 535.0,1746.7 536.0,1747.0 537.0,1747.8 538.0,1748.8 539.0,1749.3 540.0,1749.4 541.0,1749.2 542.0,1748.1 543.0,1746.4 544.0,1745.6 545.0,1746.3 546.0,1747.7 547.0,1748.7 548.0,1748.7 549.0,1747.9 550.0,1747.9 551.0,1748.8 552.0,1749.2 553.0,1748.9 554.0,1749.2 555.0,1749.6 556.0,1748.9 557.0,1747.6 558.0,1747.4 559.0,1748.5 560.0,1749.2 561.0,1748.4 562.0,1747.4 563.0,1747.0 564.0,1747.6 565.0,1748.4 566.0,1748.7 567.0,1748.8 568.0,1749.3 569.0,1749.6 570.0,1749.2 571.0,1748.7 572.0,1749.1 573.0,1749.4 574.0,1748.4 575.0,1747.4 576.0,1747.5 577.0,1747.6 578.0,1746.8 579.0,1746.6 580.0,1747.3 581.0,1747.8 582.0,1747.7 583.0,1746.8 584.0,1746.3 585.0,1747.5 586.0,1748.7 587.0,1748.7 588.0,1748.5 589.0,1748.5 590.0,1748.7 591.0,1749.3 592.0,1749.3 593.0,1748.2 594.0,1746.3 595.0,1745.0 596.0,1745.2 597.0,1746.9 598.0,1748.7 599.0,1750.1 600.0,1750.3 601.0,1749.6 602.0,1749.3 603.0,1749.9 604.0,1750.1 605.0,1749.5 606.0,1749.1 607.0,1749.0 608.0,1749.0 609.0,1748.9 610.0,1748.3 611.0,1748.2 612.0,1748.8 613.0,1749.1 614.0,1748.9 615.0,1749.1 616.0,1749.3 617.0,1749.6 618.0,1750.1 619.0,1750.9 620.0,1751.5 621.0,1751.5 622.0,1750.7 623.0,1749.7 624.0,1749.5 625.0,1750.3 626.0,1751.3 627.0,1751.0 628.0,1750.5 629.0,1749.8 630.0,1748.4 631.0,1747.6 632.0,1747.5 633.0,1747.3 634.0,1747.5 635.0,1748.8 636.0,1750.3 637.0,1750.5 638.0,1749.7 639.0,1748.7 640.0,1748.4 641.0,1749.1 642.0,1749.3 643.0,1748.9 644.0,1748.8 645.0,1748.7 646.0,1748.2 647.0,1747.8 648.0,1747.8 649.0,1748.4 650.0,1749.4 651.0,1750.0 652.0,1749.9 653.0,1749.6 654.0,1750.0 655.0,1750.1 656.0,1749.7 657.0,1750.0 658.0,1750.2 659.0,1749.6 660.0,1748.9 661.0,1748.2 662.0,1747.6 663.0,1747.4 664.0,1747.8 665.0,1748.5 666.0,1749.4 667.0,1748.6 668.0,1746.7 669.0,1746.8 670.0,1748.7 671.0,1749.8 672.0,1750.3 673.0,1750.7 674.0,1751.3 675.0,1751.9 676.0,1751.9 677.0,1751.1 678.0,1749.8 679.0,1748.7 680.0,1748.5 681.0,1749.6 682.0,1751.6 683.0,1752.4 684.0,1751.0 685.0,1749.4 686.0,1749.2 687.0,1749.9 688.0,1750.7 689.0,1751.0 690.0,1750.0 691.0,1749.0 692.0,1749.4 693.0,1749.7 694.0,1750.0 695.0,1750.3 696.0,1749.4 697.0,1748.1 698.0,1748.3 699.0,1749.8 700.0,1751.3 701.0,1751.6 702.0,1750.9 703.0,1750.7 704.0,1751.3 705.0,1751.5 706.0,1751.7 707.0,1751.4 708.0,1750.9 709.0,1750.5 710.0,1750.3 711.0,1749.9 712.0,1749.7 713.0,1749.8 714.0,1750.2 715.0,1750.7 716.0,1750.8 717.0,1750.7 718.0,1750.8 719.0,1751.6 720.0,1752.3 721.0,1751.7 722.0,1750.9 723.0,1751.0 724.0,1751.5 725.0,1751.4 726.0,1751.2 727.0,1751.3 728.0,1751.7 729.0,1751.9 730.0,1751.1 731.0,1749.6 732.0,1748.7 733.0,1749.4 734.0,1751.7 735.0,1753.6 736.0,1754.0 737.0,1753.6 738.0,1753.2 739.0,1752.4 740.0,1751.2 741.0,1750.3 742.0,1750.6 743.0,1751.9 744.0,1753.4 745.0,1753.9 746.0,1753.3 747.0,1752.8 748.0,1752.2 749.0,1751.0 750.0,1750.1 751.0,1750.1 752.0,1750.6 753.0,1751.4 754.0,1752.1 755.0,1752.4 756.0,1752.7 757.0,1752.7 758.0,1752.5 759.0,1752.1 760.0,1751.5 761.0,1751.3 762.0,1750.9 763.0,1749.5 764.0,1748.7 765.0,1748.7 766.0,1748.8 767.0,1748.7 768.0,1748.2 769.0,1747.2 770.0,1746.5 771.0,1745.9 772.0,1744.6 773.0,1743.2 774.0,1742.7 775.0,1742.3 776.0,1741.3 777.0,1739.8 778.0,1737.8 779.0,1735.1 780.0,1732.2 781.0,1729.8 782.0,1727.7 783.0,1724.5 784.0,1720.4 785.0,1716.1 786.0,1712.3 787.0,1708.7 788.0,1704.0 789.0,1697.1 790.0,1689.9 791.0,1683.3 792.0,1675.1 793.0,1665.5 794.0,1656.6 795.0,1647.3 796.0,1636.9 797.0,1626.3 798.0,1615.4 799.0,1604.5 800.0,1594.5 801.0,1585.2 802.0,1577.3 803.0,1570.7 804.0,1564.0 805.0,1558.5 806.0,1555.4 807.0,1553.7 808.0,1553.0 809.0,1553.1 810.0,1554.4 811.0,1556.8 812.0,1559.8 813.0,1563.5 814.0,1568.2 815.0,1572.9 816.0,1576.8 817.0,1581.1 818.0,1586.7 819.0,1592.7 820.0,1598.3 821.0,1602.8 822.0,1606.7 823.0,1610.8 824.0,1614.7 825.0,1618.1 826.0,1621.3 827.0,1624.9 828.0,1629.5 829.0,1633.5 830.0,1636.8 831.0,1640.7 832.0,1644.4 833.0,1647.2 834.0,1650.2 835.0,1653.8 836.0,1658.0 837.0,1663.4 838.0,1669.7 839.0,1675.8 840.0,1680.0 841.0,1682.6 842.0,1684.2 843.0,1684.0 844.0,1682.0 845.0,1678.3 846.0,1672.4 847.0,1665.0 848.0,1656.1 849.0,1645.4 850.0,1634.8 851.0,1626.9 852.0,1624.9 853.0,1629.5 854.0,1638.8 855.0,1651.1 856.0,1664.6 857.0,1676.8 858.0,1686.9 859.0,1695.3 860.0,1701.9 861.0,1706.2 862.0,1709.3 863.0,1712.2 864.0,1715.6 865.0,1719.2 866.0,1721.9 867.0,1723.1 868.0,1723.7 869.0,1724.2 870.0,1724.5 871.0,1725.0 872.0,1725.4 873.0,1726.3 874.0,1727.8 875.0,1728.8 876.0,1728.9 877.0,1728.5 878.0,1728.7 879.0,1729.1 880.0,1729.2 881.0,1729.9 882.0,1731.3 883.0,1731.9 884.0,1731.4 885.0,1731.5 886.0,1733.0 887.0,1734.8 888.0,1735.3 889.0,1735.6 890.0,1736.3 891.0,1736.9 892.0,1737.7 893.0,1738.5 894.0,1739.0 895.0,1738.9 896.0,1738.5 897.0,1738.9 898.0,1739.6 899.0,1740.2 900.0,1740.4 901.0,1740.6 902.0,1741.2 903.0,1741.7 904.0,1741.4 905.0,1741.5 906.0,1742.7 907.0,1743.4 908.0,1743.2 909.0,1742.8 910.0,1742.8 911.0,1743.7 912.0,1745.0 913.0,1745.3 914.0,1744.6 915.0,1743.7 916.0,1743.6 917.0,1744.8 918.0,1746.4 919.0,1747.8 920.0,1748.3 921.0,1747.9 922.0,1747.1 923.0,1746.9 924.0,1747.9 925.0,1748.9 926.0,1749.3 927.0,1749.2 928.0,1749.2 929.0,1749.1 930.0,1748.8 931.0,1749.0 932.0,1748.8 933.0,1747.9 934.0,1747.6 935.0,1748.5 936.0,1749.4 937.0,1749.8 938.0,1749.6 939.0,1749.4 940.0,1749.8 941.0,1750.2 942.0,1749.6 943.0,1749.0 944.0,1749.5 945.0,1750.8 946.0,1751.4 947.0,1750.8 948.0,1751.0 949.0,1751.1 950.0,1750.4 951.0,1749.6 952.0,1749.4 953.0,1750.0 954.0,1751.1 955.0,1752.0 956.0,1752.3 957.0,1752.4 958.0,1752.0 959.0,1752.1 960.0,1753.1 961.0,1753.5 962.0,1753.5 963.0,1753.9 964.0,1754.0 965.0,1753.8 966.0,1752.9 967.0,1751.1 968.0,1750.9 969.0,1752.2 970.0,1752.8 971.0,1753.4 972.0,1754.2 973.0,1753.9 974.0,1753.0 975.0,1753.4 976.0,1754.8 977.0,1754.9 978.0,1753.7 979.0,1753.3 980.0,1753.1 981.0,1752.7 982.0,1752.7 983.0,1753.2 984.0,1754.6 985.0,1756.3 986.0,1757.0 987.0,1757.0 988.0,1756.9 989.0,1756.7 990.0,1756.2 991.0,1755.5 992.0,1755.6 993.0,1756.1 994.0,1756.1 995.0,1756.7 996.0,1757.9 997.0,1758.1 998.0,1757.0 999.0,1756.5 1000.0,1757.0 1001.0,1757.2 1002.0,1757.2 1003.0,1757.6 1004.0,1758.3 1005.0,1759.3 1006.0,1760.5 1007.0,1760.5 1008.0,1760.0 1009.0,1760.4 1010.0,1760.7 1011.0,1759.4 1012.0,1757.8 1013.0,1757.2 1014.0,1757.0 1015.0,1756.9 1016.0,1757.1 1017.0,1757.3 1018.0,1757.1 1019.0,1756.9 1020.0,1756.8 1021.0,1756.6 1022.0,1757.0 1023.0,1757.1 1024.0,1756.4 1025.0,1756.0 1026.0,1756.2 1027.0,1755.9 1028.0,1755.9 1029.0,1756.5 1030.0,1756.2 1031.0,1755.3 1032.0,1754.8 1033.0,1755.7 1034.0,1757.0 1035.0,1757.6 1036.0,1757.4 1037.0,1757.4 1038.0,1757.1 1039.0,1756.7 1040.0,1757.2 1041.0,1757.9 1042.0,1758.1 1043.0,1758.2 1044.0,1758.4 1045.0,1758.3 1046.0,1757.7 1047.0,1757.6 1048.0,1757.5 1049.0,1757.2 1050.0,1756.9 1051.0,1756.5 1052.0,1756.6 1053.0,1757.0 1054.0,1757.2 1055.0,1756.6 1056.0,1755.8 1057.0,1755.9 1058.0,1756.3 1059.0,1757.0 1060.0,1758.0 1061.0,1758.3 1062.0,1757.8 1063.0,1756.9 1064.0,1756.8 1065.0,1756.9 1066.0,1756.6 1067.0,1756.8 1068.0,1756.9 1069.0,1756.7 1070.0,1756.4 1071.0,1756.1 1072.0,1755.9 1073.0,1755.6 1074.0,1756.0 1075.0,1756.7 1076.0,1756.1 1077.0,1755.5 1078.0,1755.7 1079.0,1754.7 1080.0,1754.0 1081.0,1755.6 1082.0,1757.6 1083.0,1758.6 1084.0,1758.7 1085.0,1757.9 1086.0,1757.0 1087.0,1756.6 1088.0,1757.3 1089.0,1758.1 1090.0,1757.6 1091.0,1756.1 1092.0,1754.7 1093.0,1754.5 1094.0,1755.2 1095.0,1755.8 1096.0,1756.0 1097.0,1756.0 1098.0,1756.3 1099.0,1756.6 1100.0,1756.5 1101.0,1757.3 1102.0,1758.1 1103.0,1757.2 1104.0,1756.2 1105.0,1756.6 1106.0,1757.0 1107.0,1756.0 1108.0,1754.6 1109.0,1754.1 1110.0,1754.7 1111.0,1755.9 1112.0,1756.1 1113.0,1755.8 1114.0,1755.9 1115.0,1755.7 1116.0,1755.5 1117.0,1755.7 1118.0,1755.0 1119.0,1754.9 1120.0,1756.3 1121.0,1757.6 1122.0,1757.3 1123.0,1756.1 1124.0,1755.5 1125.0,1756.4 1126.0,1757.4 1127.0,1757.4 1128.0,1756.5 1129.0,1755.7 1130.0,1755.6 1131.0,1754.7 1132.0,1753.0 1133.0,1752.1 1134.0,1752.8 1135.0,1754.0 1136.0,1754.5 1137.0,1754.3 1138.0,1754.1 1139.0,1754.2 1140.0,1754.5 1141.0,1754.9 1142.0,1754.8 1143.0,1754.4 1144.0,1754.1 1145.0,1754.0 1146.0,1754.3 1147.0,1754.6 1148.0,1754.9 1149.0,1754.5 1150.0,1753.6 1151.0,1753.0 1152.0,1752.9 1153.0,1753.2 1154.0,1752.9 1155.0,1752.3 1156.0,1752.1 1157.0,1752.8 1158.0,1753.7 1159.0,1754.4 1160.0,1754.2 1161.0,1752.8 1162.0,1751.5 1163.0,1751.3 1164.0,1751.5 1165.0,1752.6 1166.0,1754.4 1167.0,1754.9 1168.0,1754.2 1169.0,1753.8 1170.0,1753.7 1171.0,1754.0 1172.0,1755.0 1173.0,1756.3 1174.0,1756.9 1175.0,1756.7 1176.0,1756.6 1177.0,1756.8 1178.0,1756.9 1179.0,1756.9 1180.0,1757.0 1181.0,1756.8 1182.0,1756.7 1183.0,1757.5 1184.0,1758.6 1185.0,1759.6 1186.0,1760.0 1187.0,1758.6 1188.0,1756.7 1189.0,1756.2 1190.0,1756.7 1191.0,1757.9 1192.0,1758.6 1193.0,1758.2 1194.0,1758.4 1195.0,1759.5 1196.0,1760.9 1197.0,1762.0 1198.0,1762.4 1199.0,1762.6 1200.0,1762.6 1201.0,1761.7 1202.0,1760.8 1203.0,1760.9 1204.0,1761.9 1205.0,1763.2 1206.0,1763.3 1207.0,1762.1 1208.0,1760.9 1209.0,1760.2 1210.0,1760.6 1211.0,1761.7 1212.0,1761.6 1213.0,1760.1 1214.0,1760.0 1215.0,1761.3 1216.0,1761.6 1217.0,1761.7 1218.0,1762.2 1219.0,1763.3 1220.0,1764.1 1221.0,1764.2 1222.0,1764.2 1223.0,1764.4 1224.0,1765.1 1225.0,1765.8 1226.0,1765.0 1227.0,1763.5 1228.0,1762.7 1229.0,1762.9 1230.0,1763.4 1231.0,1763.6 1232.0,1763.9 1233.0,1764.4 1234.0,1764.8 1235.0,1764.8 1236.0,1764.8 1237.0,1764.7 1238.0,1764.9 1239.0,1765.7 1240.0,1766.1 1241.0,1766.2 1242.0,1766.5 1243.0,1766.8 1244.0,1766.5 1245.0,1765.7 1246.0,1764.6 1247.0,1764.1 1248.0,1764.6 1249.0,1765.4 1250.0,1766.3 1251.0,1766.6 1252.0,1765.9 1253.0,1766.2 1254.0,1767.6 1255.0,1768.1 1256.0,1767.2 1257.0,1765.7 1258.0,1765.5 1259.0,1766.4 1260.0,1767.5 1261.0,1768.2 1262.0,1768.1 1263.0,1767.6 1264.0,1767.4 1265.0,1767.1 1266.0,1766.8 1267.0,1766.6 1268.0,1766.7 1269.0,1766.8 1270.0,1766.4 1271.0,1765.7 1272.0,1766.0 1273.0,1767.1 1274.0,1767.5 1275.0,1767.1 1276.0,1767.1 1277.0,1767.9 1278.0,1768.7 1279.0,1768.8 1280.0,1768.9 1281.0,1768.7 1282.0,1768.6 1283.0,1768.6 1284.0,1769.0 1285.0,1769.8 1286.0,1769.8 1287.0,1769.3 1288.0,1769.7 1289.0,1771.2 1290.0,1771.5 1291.0,1770.5 1292.0,1769.8 1293.0,1769.9 1294.0,1770.4 1295.0,1770.3 1296.0,1769.6 1297.0,1769.4 1298.0,1770.3 1299.0,1771.7 1300.0,1772.4 1301.0,1771.9 1302.0,1771.8 1303.0,1771.6 1304.0,1770.7 1305.0,1770.5 1306.0,1771.2 1307.0,1771.6 1308.0,1771.8 1309.0,1771.9 1310.0,1770.9 1311.0,1770.0 1312.0,1770.6 1313.0,1772.0 1314.0,1772.7 1315.0,1772.2 1316.0,1771.6 1317.0,1771.5 1318.0,1771.1 1319.0,1770.5 1320.0,1771.0 1321.0,1772.3 1322.0,1773.8 1323.0,1773.7 1324.0,1771.7 1325.0,1770.3 1326.0,1770.1 1327.0,1770.5 1328.0,1771.1 1329.0,1772.0 1330.0,1772.0 1331.0,1770.6 1332.0,1769.7 1333.0,1770.6 1334.0,1772.5 1335.0,1772.8 1336.0,1771.3 1337.0,1770.9 1338.0,1772.5 1339.0,1774.1 1340.0,1774.5 1341.0,1774.2 1342.0,1773.9 1343.0,1773.7 1344.0,1773.9 1345.0,1774.3 1346.0,1773.5 1347.0,1772.1 1348.0,1771.5 1349.0,1771.8 1350.0,1772.9 1351.0,1773.7 1352.0,1774.1 1353.0,1775.2 1354.0,1775.9 1355.0,1774.6 1356.0,1772.9 1357.0,1772.2 1358.0,1772.1 1359.0,1771.9 1360.0,1772.1 1361.0,1773.0 1362.0,1773.8 1363.0,1774.2 1364.0,1774.8 1365.0,1776.1 1366.0,1776.6 1367.0,1776.0 1368.0,1775.6 1369.0,1776.0 1370.0,1776.4 1371.0,1776.7 1372.0,1776.1 1373.0,1775.0 1374.0,1775.4 1375.0,1776.7 1376.0,1776.7 1377.0,1775.9 1378.0,1775.4 1379.0,1775.0 1380.0,1774.5 1381.0,1774.3 1382.0,1774.4 1383.0,1774.7 1384.0,1775.1 1385.0,1775.3 1386.0,1775.9 1387.0,1776.5 1388.0,1777.1 1389.0,1777.7 1390.0,1777.9 1391.0,1777.5 1392.0,1777.0 1393.0,1776.4 1394.0,1775.9 1395.0,1775.5 1396.0,1775.8 1397.0,1776.5 1398.0,1776.5 1399.0,1776.3 1400.0,1776.3 1401.0,1776.6 1402.0,1776.7 1403.0,1776.7 1404.0,1777.0 1405.0,1776.8 1406.0,1775.8 1407.0,1774.5 1408.0,1774.0 1409.0,1774.6 1410.0,1775.6 1411.0,1776.8 1412.0,1776.6 1413.0,1775.1 1414.0,1775.1 1415.0,1776.8 1416.0,1778.0 1417.0,1778.1 1418.0,1778.0 1419.0,1778.2 1420.0,1778.8 1421.0,1778.9 1422.0,1777.8 1423.0,1776.4 1424.0,1776.1 1425.0,1776.3 1426.0,1776.2 1427.0,1776.1 1428.0,1776.2 1429.0,1776.5 1430.0,1776.9 1431.0,1776.4 1432.0,1775.8 1433.0,1776.3 1434.0,1777.9 1435.0,1779.3 1436.0,1779.5 1437.0,1778.9 1438.0,1777.4 1439.0,1776.0 1440.0,1775.7 1441.0,1775.4 1442.0,1775.1 1443.0,1775.9 1444.0,1776.6 1445.0,1776.1 1446.0,1776.3 1447.0,1777.1 1448.0,1776.6 1449.0,1775.3 1450.0,1775.1 1451.0,1775.4 1452.0,1775.8 1453.0,1776.0 1454.0,1775.7 1455.0,1775.7 1456.0,1775.4 1457.0,1774.4 1458.0,1774.1 1459.0,1774.1 1460.0,1773.4 1461.0,1772.8 1462.0,1772.8 1463.0,1773.3 1464.0,1774.0 1465.0,1774.7 1466.0,1774.8 1467.0,1773.9 1468.0,1773.1 1469.0,1772.7 1470.0,1772.2 1471.0,1771.9 1472.0,1772.2 1473.0,1772.0 1474.0,1770.7 1475.0,1769.6 1476.0,1769.8 1477.0,1769.5 1478.0,1767.2 1479.0,1764.5 1480.0,1763.2 1481.0,1762.4 1482.0,1761.4 1483.0,1760.1 1484.0,1758.7 1485.0,1757.1 1486.0,1755.4 1487.0,1753.9 1488.0,1752.9 1489.0,1751.6 1490.0,1749.6 1491.0,1747.3 1492.0,1744.8 1493.0,1742.7 1494.0,1741.2 1495.0,1739.4 1496.0,1736.7 1497.0,1733.5 1498.0,1730.0 1499.0,1727.2 1500.0,1724.5 1501.0,1720.2 1502.0,1714.8 1503.0,1709.7 1504.0,1704.8 1505.0,1698.9 1506.0,1692.2 1507.0,1684.7 1508.0,1676.7 1509.0,1667.3 1510.0,1654.2 1511.0,1636.6 1512.0,1615.3 1513.0,1589.8 1514.0,1557.6 1515.0,1515.4 1516.0,1460.0 1517.0,1388.3 1518.0,1298.7 1519.0,1189.0 1520.0,1059.5 1521.0,916.6 1522.0,776.2 1523.0,667.7 1524.0,622.6 1525.0,655.8 1526.0,753.9 1527.0,885.4 1528.0,1020.6 1529.0,1141.9 1530.0,1242.5 1531.0,1321.9 1532.0,1383.6 1533.0,1431.6 1534.0,1468.5 1535.0,1496.8 1536.0,1518.5 1537.0,1535.0 1538.0,1547.6 1539.0,1557.9 1540.0,1567.6 1541.0,1577.4 1542.0,1587.5 1543.0,1597.4 1544.0,1606.6 1545.0,1615.5 1546.0,1624.4 1547.0,1633.3 1548.0,1641.6 1549.0,1649.1 1550.0,1655.9 1551.0,1662.5 1552.0,1668.8 1553.0,1674.4 1554.0,1679.6 1555.0,1682.9 1556.0,1684.3 1557.0,1686.8 1558.0,1690.7 1559.0,1693.8 1560.0,1695.5 1561.0,1696.6 1562.0,1697.8 1563.0,1698.8 1564.0,1699.5 1565.0,1699.4 1566.0,1699.0 1567.0,1700.5 1568.0,1703.2 1569.0,1704.3 1570.0,1705.0 1571.0,1706.5 1572.0,1707.1 1573.0,1706.5 1574.0,1705.8 1575.0,1705.6 1576.0,1705.1 1577.0,1704.8 1578.0,1705.6 1579.0,1707.0 1580.0,1708.3 1581.0,1708.4 1582.0,1707.6 1583.0,1707.4 1584.0,1708.0 1585.0,1708.3 1586.0,1707.9 1587.0,1707.6 1588.0,1707.7 1589.0,1707.7 1590.0,1707.0 1591.0,1705.3 1592.0,1703.2 1593.0,1702.3 1594.0,1702.5 1595.0,1702.1 1596.0,1701.1 1597.0,1699.8 1598.0,1698.5 1599.0,1697.5 1600.0,1697.3 1601.0,1698.5 1602.0,1700.9 1603.0,1703.3 1604.0,1704.2 1605.0,1704.5 1606.0,1705.3 1607.0,1706.0 1608.0,1706.4 1609.0,1707.4 1610.0,1709.4 1611.0,1711.1 1612.0,1710.9 1613.0,1711.1 1614.0,1713.5 1615.0,1716.1 1616.0,1717.9 1617.0,1719.8 1618.0,1720.7 1619.0,1721.2 1620.0,1721.7 1621.0,1722.3 1622.0,1723.1 1623.0,1724.2 1624.0,1726.2 1625.0,1728.7 1626.0,1730.6 1627.0,1732.3 1628.0,1733.7 1629.0,1734.7 1630.0,1735.9 1631.0,1737.2 1632.0,1738.5 1633.0,1739.8 1634.0,1740.7 1635.0,1741.0 1636.0,1741.9 1637.0,1743.9 1638.0,1746.8 1639.0,1749.4 1640.0,1750.8 1641.0,1751.3 1642.0,1751.8 1643.0,1752.5 1644.0,1753.3 1645.0,1753.8 1646.0,1754.1 1647.0,1754.7 1648.0,1756.0 1649.0,1756.8 1650.0,1756.6 1651.0,1756.8 1652.0,1757.9 1653.0,1759.3 1654.0,1758.9 1655.0,1756.0 1656.0,1753.3 1657.0,1752.2 1658.0,1750.4 1659.0,1747.3 1660.0,1744.2 1661.0,1740.5 1662.0,1736.3 1663.0,1732.2 1664.0,1726.5 1665.0,1717.8 1666.0,1706.8 1667.0,1694.7 1668.0,1681.6 1669.0,1667.3 1670.0,1652.6 1671.0,1638.8 1672.0,1626.7 1673.0,1619.4 1674.0,1618.8 1675.0,1622.1 1676.0,1626.8 1677.0,1631.4 1678.0,1634.6 1679.0,1636.3 1680.0,1638.0 1681.0,1643.8 1682.0,1654.7 1683.0,1666.8 1684.0,1677.1 1685.0,1686.0 1686.0,1693.3 1687.0,1697.8 1688.0,1699.9 1689.0,1700.3 1690.0,1699.6 1691.0,1698.7 1692.0,1698.0 1693.0,1697.4 1694.0,1695.8 1695.0,1693.6 1696.0,1690.6 1697.0,1685.6 1698.0,1676.9 1699.0,1664.0 1700.0,1647.6 1701.0,1628.6 1702.0,1608.7 1703.0,1592.5 1704.0,1586.2 1705.0,1592.6 1706.0,1608.7 1707.0,1627.8 1708.0,1645.2 1709.0,1658.2 1710.0,1664.6 1711.0,1664.0 1712.0,1657.4 1713.0,1646.9 1714.0,1633.7 1715.0,1618.4 1716.0,1605.8 1717.0,1602.3 1718.0,1609.1 1719.0,1621.8 1720.0,1635.8 1721.0,1648.9 1722.0,1658.4 1723.0,1662.6 1724.0,1662.7 1725.0,1658.6 1726.0,1649.9 1727.0,1636.2 1728.0,1616.4 1729.0,1591.1 1730.0,1563.1 1731.0,1534.0 1732.0,1504.4 1733.0,1477.0 1734.0,1456.5 1735.0,1447.6 1736.0,1452.4 1737.0,1469.3 1738.0,1493.9 1739.0,1522.3 1740.0,1551.4 1741.0,1579.3 1742.0,1605.4 1743.0,1628.5 1744.0,1646.9 1745.0,1661.3 1746.0,1673.3 1747.0,1682.5 1748.0,1688.5 1749.0,1692.2 1750.0,1694.8 1751.0,1697.2 1752.0,1698.3 1753.0,1697.0 1754.0,1694.6 1755.0,1691.7 1756.0,1688.4 1757.0,1684.9 1758.0,1681.4 1759.0,1678.1 1760.0,1675.6 1761.0,1674.6 1762.0,1673.5 1763.0,1670.7 1764.0,1667.3 1765.0,1663.4 1766.0,1657.5 1767.0,1648.6 1768.0,1636.8 1769.0,1621.4 1770.0,1601.4 1771.0,1577.2 1772.0,1550.7 1773.0,1521.6 1774.0,1490.2 1775.0,1459.8 1776.0,1437.0 1777.0,1427.1 1778.0,1431.6 1779.0,1449.3 1780.0,1475.5 1781.0,1504.2 1782.0,1531.4 1783.0,1556.0 1784.0,1577.3 1785.0,1594.4 1786.0,1608.0 1787.0,1618.4 1788.0,1624.2 1789.0,1626.5 1790.0,1627.6 1791.0,1627.3 1792.0,1625.3 1793.0,1622.5 1794.0,1619.5 1795.0,1614.2 1796.0,1605.5 1797.0,1594.1 1798.0,1579.7 1799.0,1560.8 1800.0,1535.8 1801.0,1504.8 1802.0,1466.5 1803.0,1419.6 1804.0,1362.8 1805.0,1298.3 1806.0,1232.2 1807.0,1172.2 1808.0,1129.8 1809.0,1118.3 1810.0,1141.8 1811.0,1192.0 1812.0,1254.4 1813.0,1318.0 1814.0,1376.9 1815.0,1428.5 1816.0,1470.8 1817.0,1503.2 1818.0,1527.5 1819.0,1545.4 1820.0,1556.7 1821.0,1562.9 1822.0,1565.4 1823.0,1564.3 1824.0,1559.6 1825.0,1551.9 1826.0,1540.9 1827.0,1526.2 1828.0,1508.5 1829.0,1488.3 1830.0,1464.8 1831.0,1437.6 1832.0,1406.2 1833.0,1371.0 1834.0,1332.6 1835.0,1290.9 1836.0,1245.9 1837.0,1198.7 1838.0,1150.1 1839.0,1100.8 1840.0,1052.8 1841.0,1006.0 1842.0,960.5 1843.0,917.4 1844.0,877.0 1845.0,840.3 1846.0,809.1 1847.0,784.0 1848.0,765.0 1849.0,753.5 1850.0,750.0 1851.0,753.7 1852.0,763.5 1853.0,778.8 1854.0,801.1 1855.0,831.4 1856.0,866.9 1857.0,906.2 1858.0,949.0 1859.0,993.4 1860.0,1038.2 1861.0,1084.1 1862.0,1131.4 1863.0,1178.9 1864.0,1224.3 1865.0,1266.3 1866.0,1305.0 1867.0,1341.1 1868.0,1374.4 1869.0,1404.7 1870.0,1431.9 1871.0,1456.4 1872.0,1478.1 1873.0,1496.1 1874.0,1509.6 1875.0,1518.7 1876.0,1524.3 1877.0,1526.9 1878.0,1525.4 1879.0,1519.2 1880.0,1508.6 1881.0,1493.9 1882.0,1475.5 1883.0,1454.2 1884.0,1431.2 1885.0,1408.2 1886.0,1387.5 1887.0,1373.0 1888.0,1367.8 1889.0,1372.9 1890.0,1385.5 1891.0,1403.0 1892.0,1423.9 1893.0,1446.2 1894.0,1468.3 1895.0,1488.4 1896.0,1504.5 1897.0,1516.3 1898.0,1525.4 1899.0,1532.3 1900.0,1537.4 1901.0,1540.8 1902.0,1542.2 1903.0,1542.0 1904.0,1541.0 1905.0,1540.0 1906.0,1538.6 1907.0,1535.3 1908.0,1528.6 1909.0,1518.3 1910.0,1504.7 1911.0,1490.5 1912.0,1482.6 1913.0,1485.3 1914.0,1491.1 1915.0,1491.0 1916.0,1482.4 1917.0,1465.7 1918.0,1441.4 1919.0,1410.2 1920.0,1373.5 1921.0,1335.9 1922.0,1307.7 1923.0,1299.9 1924.0,1317.2 1925.0,1353.6 1926.0,1397.7 1927.0,1439.6 1928.0,1474.3 1929.0,1501.5 1930.0,1523.0 1931.0,1540.1 1932.0,1552.9 1933.0,1561.9 1934.0,1569.3 1935.0,1576.2 1936.0,1581.5 1937.0,1585.0 1938.0,1587.7 1939.0,1590.2 1940.0,1592.3 1941.0,1594.9 1942.0,1598.6 1943.0,1602.3 1944.0,1605.7 1945.0,1608.4 1946.0,1610.4 1947.0,1611.8 1948.0,1612.7 1949.0,1613.3 1950.0,1614.1 1951.0,1615.5 1952.0,1616.9 1953.0,1618.2 1954.0,1618.8 1955.0,1619.1 1956.0,1620.1 1957.0,1621.3 1958.0,1622.4 1959.0,1622.9 1960.0,1622.3 1961.0,1621.2 1962.0,1619.9 1963.0,1618.2 1964.0,1614.7 1965.0,1608.8 1966.0,1599.9 1967.0,1586.9 1968.0,1567.8 1969.0,1541.7 1970.0,1508.7 1971.0,1472.8 1972.0,1444.3 1973.0,1437.6 1974.0,1457.8 1975.0,1494.1 1976.0,1532.5 1977.0,1565.4 1978.0,1590.9 1979.0,1609.1 1980.0,1621.8 1981.0,1629.4 1982.0,1633.4 1983.0,1635.5 1984.0,1634.8 1985.0,1630.5 1986.0,1622.2 1987.0,1611.5 1988.0,1600.6 1989.0,1593.9 1990.0,1596.2 1991.0,1607.3 1992.0,1622.8 1993.0,1637.3 1994.0,1648.0 1995.0,1656.7 1996.0,1664.8 1997.0,1671.5 1998.0,1676.0 1999.0,1678.7 2000.0,1680.8 2001.0,1683.4 2002.0,1686.3 2003.0,1688.8 2004.0,1689.9 2005.0,1690.7 2006.0,1691.8 2007.0,1692.9 2008.0,1694.3 2009.0,1695.7 2010.0,1696.9 2011.0,1698.4 2012.0,1699.6 2013.0,1699.5 2014.0,1699.0 2015.0,1699.6 2016.0,1700.6 2017.0,1701.0 2018.0,1701.5 2019.0,1702.2 2020.0,1702.7 2021.0,1702.7 2022.0,1702.5 2023.0,1702.7 2024.0,1703.3 2025.0,1704.3 2026.0,1705.3 2027.0,1705.5 2028.0,1705.6 2029.0,1706.2 2030.0,1706.8 2031.0,1707.3 2032.0,1707.7 2033.0,1708.0 2034.0,1708.5 2035.0,1709.7 2036.0,1710.3 2037.0,1709.1 2038.0,1706.5 2039.0,1703.0 2040.0,1698.0 2041.0,1690.5 2042.0,1681.4 2043.0,1675.1 2044.0,1674.9 2045.0,1681.2 2046.0,1691.2 2047.0,1702.0 2048.0,1712.0 2049.0,1719.6 2050.0,1725.5 2051.0,1730.5 2052.0,1733.8 2053.0,1735.1 2054.0,1735.4 2055.0,1736.6 2056.0,1738.5 2057.0,1740.3 2058.0,1740.7 2059.0,1740.1 2060.0,1740.5 2061.0,1741.8 2062.0,1742.5 2063.0,1742.0 2064.0,1741.3 2065.0,1741.2 2066.0,1741.4 2067.0,1741.9 2068.0,1742.6 2069.0,1743.1 2070.0,1743.3 2071.0,1744.3 2072.0,1746.2 2073.0,1746.9 2074.0,1745.5 2075.0,1743.5 2076.0,1742.7 2077.0,1743.6 2078.0,1745.2 2079.0,1745.5 2080.0,1743.2 2081.0,1739.4 2082.0,1736.3 2083.0,1734.2 2084.0,1733.9 2085.0,1736.4 2086.0,1739.7 2087.0,1742.9 2088.0,1746.3 2089.0,1749.8 2090.0,1751.7 2091.0,1751.5 2092.0,1750.8 2093.0,1750.1 2094.0,1749.1 2095.0,1748.1 2096.0,1746.2 2097.0,1743.1 2098.0,1738.2 2099.0,1730.9 2100.0,1723.0 2101.0,1713.2 2102.0,1697.9 2103.0,1677.1 2104.0,1651.0 2105.0,1619.0 2106.0,1582.6 2107.0,1549.6 2108.0,1533.3 2109.0,1542.3 2110.0,1570.7 2111.0,1605.3 2112.0,1636.4 2113.0,1660.2 2114.0,1676.3 2115.0,1686.3 2116.0,1690.5 2117.0,1688.6 2118.0,1682.1 2119.0,1674.9 2120.0,1670.9 2121.0,1672.7 2122.0,1679.6 2123.0,1689.1 2124.0,1699.3 2125.0,1709.7 2126.0,1718.8 2127.0,1724.8 2128.0,1727.8 2129.0,1729.8 2130.0,1732.0 2131.0,1735.5 2132.0,1738.8 2133.0,1739.6 2134.0,1739.5 2135.0,1740.0 2136.0,1741.1 2137.0,1743.0 2138.0,1746.0 2139.0,1749.1 2140.0,1751.1 2141.0,1752.3 2142.0,1754.4 2143.0,1756.0 2144.0,1756.8 2145.0,1758.0 2146.0,1760.0 2147.0,1762.7 2148.0,1765.1 2149.0,1766.0 2150.0,1766.2 2151.0,1766.6 2152.0,1767.6 2153.0,1768.2 2154.0,1768.0 2155.0,1767.9 2156.0,1768.1 2157.0,1767.8 2158.0,1766.9 2159.0,1766.9 2160.0,1767.7 2161.0,1768.8 2162.0,1769.6 2163.0,1769.7 2164.0,1769.1 2165.0,1767.9 2166.0,1767.1 2167.0,1767.2 2168.0,1767.9 2169.0,1768.1 2170.0,1767.7 2171.0,1767.3 2172.0,1767.5 2173.0,1768.1 2174.0,1768.5 2175.0,1768.7 2176.0,1768.4 2177.0,1767.0 2178.0,1765.2 2179.0,1764.6 2180.0,1765.0 2181.0,1766.0 2182.0,1766.2 2183.0,1764.8 2184.0,1762.4 2185.0,1759.4 2186.0,1757.2 2187.0,1755.9 2188.0,1753.9 2189.0,1751.1 2190.0,1748.1 2191.0,1744.9 2192.0,1741.2 2193.0,1737.1 2194.0,1732.8 2195.0,1729.8 2196.0,1729.6 2197.0,1731.6 2198.0,1735.3 2199.0,1740.1 2200.0,1744.1 2201.0,1747.2 2202.0,1751.2 2203.0,1755.1 2204.0,1756.8 2205.0,1757.4 2206.0,1757.8 2207.0,1757.3 2208.0,1755.9 2209.0,1753.9 2210.0,1751.2 2211.0,1747.7 2212.0,1743.3 2213.0,1738.3 2214.0,1731.9 2215.0,1724.7 2216.0,1717.5 2217.0,1710.2 2218.0,1703.7 2219.0,1698.5 2220.0,1695.2 2221.0,1694.4 2222.0,1695.4 2223.0,1696.2 2224.0,1696.2 2225.0,1695.4 2226.0,1694.0 2227.0,1692.5 2228.0,1691.8 2229.0,1692.4 2230.0,1694.2 2231.0,1697.2 2232.0,1702.4 2233.0,1710.2 2234.0,1719.1 2235.0,1727.6 2236.0,1735.3 2237.0,1741.7 2238.0,1746.6 2239.0,1750.8 2240.0,1754.3 2241.0,1757.2 2242.0,1759.4 2243.0,1760.2 2244.0,1759.5 2245.0,1759.4 2246.0,1760.7 2247.0,1762.4 2248.0,1764.8 2249.0,1767.7 2250.0,1769.4 2251.0,1770.1 2252.0,1771.0 2253.0,1772.0 2254.0,1772.8 2255.0,1773.1 2256.0,1773.9 2257.0,1775.7 2258.0,1777.5 2259.0,1777.3 2260.0,1775.2 2261.0,1772.6 2262.0,1769.2 2263.0,1764.5 2264.0,1758.0 2265.0,1748.9 2266.0,1735.6 2267.0,1717.3 2268.0,1693.2 2269.0,1662.9 2270.0,1630.2 2271.0,1606.3 2272.0,1603.9 2273.0,1622.5 2274.0,1650.8 2275.0,1679.3 2276.0,1704.0 2277.0,1724.0 2278.0,1737.9 2279.0,1745.9 2280.0,1751.0 2281.0,1755.4 2282.0,1759.6 2283.0,1762.7 2284.0,1765.1 2285.0,1767.4 2286.0,1769.0 2287.0,1768.9 2288.0,1767.9 2289.0,1767.3 2290.0,1767.7 2291.0,1769.5 2292.0,1771.8 2293.0,1772.8 2294.0,1773.4 2295.0,1774.6 2296.0,1775.6 2297.0,1775.9 2298.0,1776.3 2299.0,1776.2 2300.0,1775.6 2301.0,1775.6 2302.0,1776.6 2303.0,1777.3" fill="none" stroke="#b275de" stroke-width="5.6" stroke-linejoin="round" stroke-linecap="round"/>
<line x1="184.9" y1="199.0" x2="184.9" y2="1913.0" stroke="#000" stroke-width="6.0"/>
<line x1="181.9" y1="1910.0" x2="2306.4" y2="1910.0" stroke="#000" stroke-width="6.0"/>
<line x1="151" y1="202.1" x2="184.9" y2="202.1" stroke="#000" stroke-width="6.0"/>
<line x1="151" y1="464.8" x2="184.9" y2="464.8" stroke="#000" stroke-width="6.0"/>
<line x1="151" y1="727.5" x2="184.9" y2="727.5" stroke="#000" stroke-width="6.0"/>
<line x1="151" y1="990.2" x2="184.9" y2="990.2" stroke="#000" stroke-width="6.0"/>
<line x1="151" y1="1252.9" x2="184.9" y2="1252.9" stroke="#000" stroke-width="6.0"/>
<line x1="151" y1="1515.6" x2="184.9" y2="1515.6" stroke="#000" stroke-width="6.0"/>
<line x1="151" y1="1778.3" x2="184.9" y2="1778.3" stroke="#000" stroke-width="6.0"/>
<line x1="167.5" y1="333.4" x2="184.9" y2="333.4" stroke="#000" stroke-width="6.0"/>
<line x1="167.5" y1="596.1" x2="184.9" y2="596.1" stroke="#000" stroke-width="6.0"/>
<line x1="167.5" y1="858.8" x2="184.9" y2="858.8" stroke="#000" stroke-width="6.0"/>
<line x1="167.5" y1="1121.5" x2="184.9" y2="1121.5" stroke="#000" stroke-width="6.0"/>
<line x1="167.5" y1="1384.2" x2="184.9" y2="1384.2" stroke="#000" stroke-width="6.0"/>
<line x1="167.5" y1="1647.0" x2="184.9" y2="1647.0" stroke="#000" stroke-width="6.0"/>
<line x1="167.5" y1="1909.6" x2="184.9" y2="1909.6" stroke="#000" stroke-width="6.0"/>
<line x1="184.9" y1="1910.0" x2="184.9" y2="1942" stroke="#000" stroke-width="6.0"/>
<text x="184.9" y="2022.3" font-size="73" text-anchor="middle">4000</text>
<line x1="478.8" y1="1910.0" x2="478.8" y2="1942" stroke="#000" stroke-width="6.0"/>
<text x="478.8" y="2022.3" font-size="73" text-anchor="middle">3500</text>
<line x1="773.1" y1="1910.0" x2="773.1" y2="1942" stroke="#000" stroke-width="6.0"/>
<text x="773.1" y="2022.3" font-size="73" text-anchor="middle">3000</text>
<line x1="1067.4" y1="1910.0" x2="1067.4" y2="1942" stroke="#000" stroke-width="6.0"/>
<text x="1067.4" y="2022.3" font-size="73" text-anchor="middle">2500</text>
<line x1="1361.6" y1="1910.0" x2="1361.6" y2="1942" stroke="#000" stroke-width="6.0"/>
<text x="1361.6" y="2022.3" font-size="73" text-anchor="middle">2000</text>
<line x1="1655.9" y1="1910.0" x2="1655.9" y2="1942" stroke="#000" stroke-width="6.0"/>
<text x="1655.9" y="2022.3" font-size="73" text-anchor="middle">1500</text>
<line x1="1950.2" y1="1910.0" x2="1950.2" y2="1942" stroke="#000" stroke-width="6.0"/>
<text x="1950.2" y="2022.3" font-size="73" text-anchor="middle">1000</text>
<line x1="2244.5" y1="1910.0" x2="2244.5" y2="1942" stroke="#000" stroke-width="6.0"/>
<text x="2244.5" y="2022.3" font-size="73" text-anchor="middle">500</text>
<line x1="331.6" y1="1910.0" x2="331.6" y2="1926" stroke="#000" stroke-width="6.0"/>
<line x1="625.9" y1="1910.0" x2="625.9" y2="1926" stroke="#000" stroke-width="6.0"/>
<line x1="920.2" y1="1910.0" x2="920.2" y2="1926" stroke="#000" stroke-width="6.0"/>
<line x1="1214.5" y1="1910.0" x2="1214.5" y2="1926" stroke="#000" stroke-width="6.0"/>
<line x1="1508.8" y1="1910.0" x2="1508.8" y2="1926" stroke="#000" stroke-width="6.0"/>
<line x1="1803.1" y1="1910.0" x2="1803.1" y2="1926" stroke="#000" stroke-width="6.0"/>
<line x1="2097.4" y1="1910.0" x2="2097.4" y2="1926" stroke="#000" stroke-width="6.0"/>
<text x="869" y="2170" font-size="90">Wavenumber, cm</text>
<text transform="translate(1563,2133.2) scale(0.9,1)" font-size="61">-1</text>
<text transform="translate(90.8,1319.5) rotate(-90)" font-size="90">Intensity, a.u.</text>
<text transform="translate(1484.8,367.5) scale(1,1.035)" font-size="89">C=O</text>
<text transform="translate(763.2,1512) scale(1,1.035)" font-size="89">CHx</text>
<path d="M1562,1641 L1658.6,1641 L1658.6,1807.6 L1562,1807.6" fill="none" stroke="#000" stroke-width="4.2" stroke-dasharray="21.5 19.5"/>
<path d="M1562,1641 L1562,1807.6" fill="none" stroke="#000" stroke-width="4.2" stroke-dasharray="21.5 19.5"/>
<path d="M2162.3,1641 L2259.5,1641 L2259.5,1807.6 L2162.3,1807.6" fill="none" stroke="#000" stroke-width="4.2" stroke-dasharray="21.5 19.5"/>
<path d="M2162.3,1641 L2162.3,1807.6" fill="none" stroke="#000" stroke-width="4.2" stroke-dasharray="21.5 19.5"/>
<line x1="814.2" y1="1180.5" x2="1561.5" y2="1641" stroke="#111" stroke-width="2"/>
<line x1="1310" y1="1180.5" x2="1658.6" y2="1641" stroke="#111" stroke-width="2"/>
<line x1="1971.6" y1="1191.2" x2="2162.3" y2="1641" stroke="#111" stroke-width="2"/>
<line x1="2419.1" y1="1191.2" x2="2259.5" y2="1641" stroke="#111" stroke-width="2"/>
</svg>
</body></html>
